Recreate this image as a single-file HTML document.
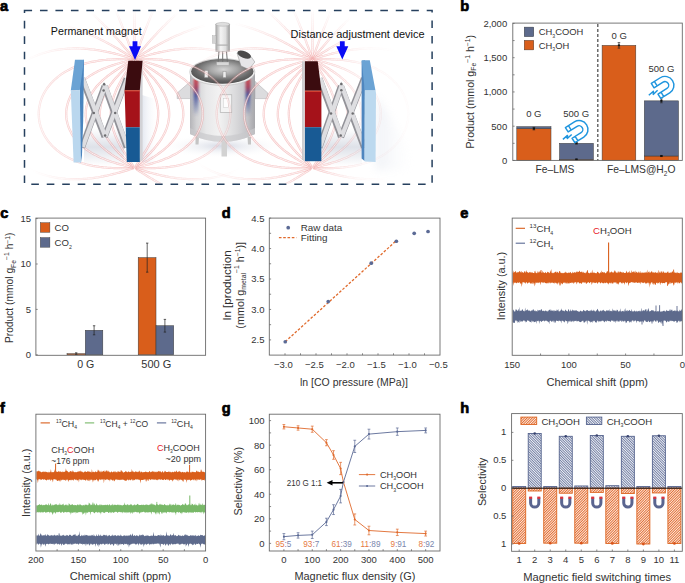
<!DOCTYPE html>
<html><head><meta charset="utf-8"><title>Figure</title>
<style>
html,body{margin:0;padding:0;background:#fff;}
body{width:685px;height:583px;overflow:hidden;}
svg{display:block;font-family:"Liberation Sans",sans-serif;}
</style></head>
<body>
<svg width="685" height="583" viewBox="0 0 685 583">
<rect width="685" height="583" fill="#fff"/>
<text x="0" y="11" font-size="14.6" font-weight="bold" fill="#000" stroke="#000" stroke-width="0.7">a</text>
<defs><clipPath id="clipA"><rect x="25" y="11.5" width="406.5" height="172"/></clipPath><radialGradient id="shL" cx="0.5" cy="0.5" r="0.5"><stop offset="0" stop-color="#b9c0d2" stop-opacity="0.6"/><stop offset="1" stop-color="#ffffff" stop-opacity="0"/></radialGradient><linearGradient id="tankG" x1="0" x2="1" y1="0" y2="0"><stop offset="0" stop-color="#c4c4c8"/><stop offset="0.06" stop-color="#d9d9dd"/><stop offset="0.12" stop-color="#8a92b8"/><stop offset="0.2" stop-color="#e8e8ea"/><stop offset="0.5" stop-color="#f6f6f6"/><stop offset="0.72" stop-color="#e2e2e2"/><stop offset="0.84" stop-color="#98a0c0"/><stop offset="0.92" stop-color="#dcdcde"/><stop offset="1" stop-color="#b8b8bc"/></linearGradient><linearGradient id="tankV" x1="0" x2="0" y1="0" y2="1"><stop offset="0" stop-color="#fff" stop-opacity="0"/><stop offset="0.55" stop-color="#fff" stop-opacity="0"/><stop offset="1" stop-color="#fff" stop-opacity="0.6"/></linearGradient><radialGradient id="lidG" cx="0.5" cy="0.35" r="0.65"><stop offset="0" stop-color="#d8d8d8"/><stop offset="0.5" stop-color="#a8a8a8"/><stop offset="1" stop-color="#555"/></radialGradient><linearGradient id="motorG" x1="0" x2="1"><stop offset="0" stop-color="#a6a6a6"/><stop offset="0.35" stop-color="#f4f4f4"/><stop offset="0.7" stop-color="#e0e0e0"/><stop offset="1" stop-color="#9a9a9a"/></linearGradient><linearGradient id="scG" x1="0" x2="0" y1="0" y2="1"><stop offset="0" stop-color="#b4bccc" stop-opacity="0"/><stop offset="0.5" stop-color="#b4bccc" stop-opacity="0.55"/><stop offset="1" stop-color="#b4bccc" stop-opacity="0"/></linearGradient><linearGradient id="shadowR" x1="0" y1="0" x2="1" y2="0"><stop offset="0" stop-color="#b8c2d8" stop-opacity="0.75"/><stop offset="1" stop-color="#ffffff" stop-opacity="0"/></linearGradient><filter id="blurS" x="-20%" y="-20%" width="140%" height="140%"><feGaussianBlur stdDeviation="4"/></filter><linearGradient id="magSideL" x1="0" x2="1"><stop offset="0" stop-color="#bdbdc0"/><stop offset="1" stop-color="#e4e4e6"/></linearGradient></defs>
<ellipse cx="222" cy="146" rx="62" ry="12" fill="url(#shL)"/>
<path d="M376 96 C392 118 404 140 418 170 L376 170 Z" fill="url(#shadowR)" opacity="0.3" filter="url(#blurS)"/>
<path d="M84 128 L124 128 L124 166 L84 166 Z" fill="url(#scG)" opacity="0.8"/>
<path d="M322 128 L362 128 L362 166 L322 166 Z" fill="url(#scG)" opacity="0.8"/>
<path d="M142 95 L158 100 L158 165 L142 162 Z" fill="url(#shadowR)" opacity="0.5"/>
<defs><radialGradient id="fadeG" cx="0.5" cy="0.5" r="0.5"><stop offset="0" stop-color="#fff"/><stop offset="0.6" stop-color="#fff" stop-opacity="0.85"/><stop offset="1" stop-color="#fff" stop-opacity="0"/></radialGradient><mask id="mL" maskUnits="userSpaceOnUse" x="0" y="0" width="685" height="200"><ellipse cx="134.5" cy="111" rx="125" ry="105" fill="url(#fadeG)"/></mask><linearGradient id="fadeR" gradientUnits="userSpaceOnUse" x1="322" y1="0" x2="365" y2="0"><stop offset="0" stop-color="#fff"/><stop offset="1" stop-color="#fff" stop-opacity="0.35"/></linearGradient><mask id="mR" maskUnits="userSpaceOnUse" x="0" y="0" width="685" height="200"><ellipse cx="300" cy="111" rx="118" ry="105" fill="url(#fadeG)"/></mask><mask id="mR2" maskUnits="userSpaceOnUse" x="0" y="0" width="685" height="200"><rect x="0" y="0" width="685" height="200" fill="url(#fadeR)"/></mask></defs>
<defs><linearGradient id="tankG2" x1="0" x2="1" y1="0" y2="0"><stop offset="0" stop-color="#b4b4b8"/><stop offset="0.1" stop-color="#d2d2d4"/><stop offset="0.25" stop-color="#e8e8e9"/><stop offset="0.45" stop-color="#f2f2f2"/><stop offset="0.7" stop-color="#dadadc"/><stop offset="0.88" stop-color="#c4c4c8"/><stop offset="1" stop-color="#a6a6aa"/></linearGradient><linearGradient id="reflB" x1="0" x2="0" y1="0" y2="1"><stop offset="0" stop-color="#d23a40"/><stop offset="0.25" stop-color="#a03050"/><stop offset="0.45" stop-color="#3c4c98"/><stop offset="1" stop-color="#3c4c98" stop-opacity="0"/></linearGradient><radialGradient id="lidG2" cx="0.52" cy="0.42" r="0.6"><stop offset="0" stop-color="#d4d4d4"/><stop offset="0.35" stop-color="#a8a8a8"/><stop offset="0.75" stop-color="#666"/><stop offset="1" stop-color="#4c4c4c"/></radialGradient><filter id="blur1" x="-50%" y="-50%" width="200%" height="200%"><feGaussianBlur stdDeviation="1.2"/></filter></defs>
<path d="M195.5 137 h3.5 l-0.5 7.5 h-3 z" fill="#c4c4c4"/>
<rect x="221.5" y="141" width="5.5" height="15.5" fill="#d2d2d2"/>
<path d="M247.5 137 h3.5 v7.5 h-3 z" fill="#c4c4c4"/>
<path d="M190.5 81.4 L177.2 93 L177.2 98.6 L190.5 98.6 Z" fill="#dcdcde" stroke="#a8a8ac" stroke-width="0.5"/>
<path d="M255 81.4 L267.8 93 L267.8 98.6 L255 98.6 Z" fill="#dcdcde" stroke="#a8a8ac" stroke-width="0.5"/>
<path d="M190 74 L190 134 Q222.5 150 255 134 L255 74 Z" fill="url(#tankG2)"/>
<path d="M190 128 L190 134 Q222.5 150 255 134 L255 128 Q222.5 144 190 128 Z" fill="#c9c9cc" opacity="0.7"/>
<g filter="url(#blur1)"><rect x="193.5" y="78" width="5" height="38" rx="2.5" fill="url(#reflB)" opacity="0.85"/><rect x="245.5" y="78" width="5" height="38" rx="2.5" fill="url(#reflB)" opacity="0.85"/></g>
<ellipse cx="222.3" cy="72" rx="32.6" ry="13.4" fill="#f0f0f0" stroke="#b0b0b0" stroke-width="0.5"/>
<ellipse cx="222.3" cy="71.4" rx="31.2" ry="12.3" fill="url(#lidG2)"/>
<rect x="204.5" y="70.5" width="3.5" height="7" fill="#ededed" stroke="#8a8a8a" stroke-width="0.4"/>
<rect x="223" y="71.5" width="3" height="6" fill="#ededed" stroke="#8a8a8a" stroke-width="0.4"/>
<path d="M219 51 L218 64 M222.7 51 V65 M226.5 51 L227.5 64" stroke="#707070" stroke-width="1"/>
<rect x="216.5" y="62" width="12.5" height="3.5" fill="#d8d8d8" stroke="#999" stroke-width="0.4"/>
<rect x="215.8" y="24" width="13.9" height="27.5" fill="url(#motorG)" stroke="#a0a0a0" stroke-width="0.4"/>
<ellipse cx="222.75" cy="24.3" rx="6.95" ry="1.9" fill="#dedede" stroke="#9a9a9a" stroke-width="0.4"/>
<rect x="212.4" y="35.6" width="3.6" height="7.7" fill="#d4d4d4" stroke="#9a9a9a" stroke-width="0.3"/>
<rect x="216.5" y="44.5" width="12.5" height="1.2" fill="#b0b0b0"/>
<path d="M237 53 L251 56.5 L254.8 62 L249 69.5 L241 66 Z" fill="#e6e6e8" stroke="#8a8a8a" stroke-width="0.5"/>
<ellipse cx="244.2" cy="54.6" rx="7.2" ry="3.4" fill="#4a4a4a" transform="rotate(22 244.2 54.6)"/>
<rect x="220.2" y="94.8" width="11.6" height="17.5" fill="#f4f4f4" stroke="#a8a8a8" stroke-width="0.6"/>
<rect x="223.4" y="98.5" width="5.2" height="9" fill="#fdfdfd" stroke="#c0c0c0" stroke-width="0.4"/>
<g mask="url(#mL)" fill="none" stroke-linecap="round"><g clip-path="url(#clipA)"><path d="M134.5 57.5 L134.5 55.7 L134.5 53.9 L134.5 52.1 L134.5 50.3 L134.5 48.5 L134.5 46.7 L134.5 44.9 L134.5 43.1 L134.5 41.3 L134.5 39.5 L134.5 37.7 L134.5 35.9 L134.5 34.1 L134.5 32.3 L134.5 30.5 L134.5 28.7 L134.5 26.9 L134.5 25.1 L134.5 23.3 L134.5 21.5 L134.5 19.7 L134.5 17.9 L134.5 16.1 L134.5 14.3 L134.5 12.5 L134.5 10.7 L134.5 8.9 L134.5 7.1 L134.5 5.3 L134.5 3.5 L134.5 1.7 L134.5 -0.1 L134.5 -1.9 L134.5 -3.7 L134.5 -5.5 L134.5 -7.3 L134.5 -9.1 L134.5 -10.9 L134.5 -12.7 L134.5 -14.5 L134.5 -16.3 L134.5 -18.1 L134.5 -19.9 L134.5 -21.7 L134.5 -23.5 L134.5 -25.3 L134.5 -27.1 L134.5 -28.9 L134.5 -30.7 L134.5 -32.5 L134.5 -34.3 L134.5 -36.1 L134.5 -37.9 L134.5 -39.7 L134.5 -41.5 L134.5 -43.3 L134.5 -45.1 L134.5 -46.9 L134.5 -48.7 L134.5 -50.5" stroke="#ee8a8a" stroke-opacity="0.5" stroke-width="2.2"/><path d="M134.5 57.5 L134.5 55.7 L134.5 53.9 L134.5 52.1 L134.5 50.3 L134.5 48.5 L134.5 46.7 L134.5 44.9 L134.5 43.1 L134.5 41.3 L134.5 39.5 L134.5 37.7 L134.5 35.9 L134.5 34.1 L134.5 32.3 L134.5 30.5 L134.5 28.7 L134.5 26.9 L134.5 25.1 L134.5 23.3 L134.5 21.5 L134.5 19.7 L134.5 17.9 L134.5 16.1 L134.5 14.3 L134.5 12.5 L134.5 10.7 L134.5 8.9 L134.5 7.1 L134.5 5.3 L134.5 3.5 L134.5 1.7 L134.5 -0.1 L134.5 -1.9 L134.5 -3.7 L134.5 -5.5 L134.5 -7.3 L134.5 -9.1 L134.5 -10.9 L134.5 -12.7 L134.5 -14.5 L134.5 -16.3 L134.5 -18.1 L134.5 -19.9 L134.5 -21.7 L134.5 -23.5 L134.5 -25.3 L134.5 -27.1 L134.5 -28.9 L134.5 -30.7 L134.5 -32.5 L134.5 -34.3 L134.5 -36.1 L134.5 -37.9 L134.5 -39.7 L134.5 -41.5 L134.5 -43.3 L134.5 -45.1 L134.5 -46.9 L134.5 -48.7 L134.5 -50.5" stroke="#fff" stroke-opacity="0.85" stroke-width="0.9"/><path d="M135.0 57.6 L135.6 55.9 L136.2 54.2 L136.9 52.5 L137.5 50.8 L138.1 49.1 L138.7 47.4 L139.3 45.8 L140.0 44.1 L140.6 42.4 L141.2 40.7 L141.9 39.0 L142.5 37.3 L143.1 35.6 L143.8 34.0 L144.4 32.3 L145.1 30.6 L145.7 28.9 L146.4 27.3 L147.1 25.6 L147.7 23.9 L148.4 22.2 L149.1 20.6 L149.7 18.9 L150.4 17.2 L151.1 15.6 L151.8 13.9 L152.5 12.2 L153.2 10.6 L153.9 8.9 L154.6 7.3 L155.3 5.6 L156.0 4.0 L156.7 2.3 L157.4 0.6 L158.1 -1.0 L158.9 -2.6 L159.6 -4.3 L160.3 -5.9 L161.1 -7.6 L161.8 -9.2 L162.5 -10.9 L163.3 -12.5 L164.0 -14.1 L164.8 -15.8 L165.6 -17.4 L166.3 -19.0 L167.1 -20.7 L167.9 -22.3 L168.6 -23.9 L169.4 -25.5 L170.2 -27.1 L171.0 -28.8 L171.8 -30.4 L172.6 -32.0 L173.4 -33.6 L174.2 -35.2 L175.0 -36.8 L175.8 -38.4 L176.6 -40.0 L177.4 -41.6 L178.2 -43.3 L179.1 -44.9 L179.9 -46.4 L180.7 -48.0 L181.6 -49.6" stroke="#ee8a8a" stroke-opacity="0.5" stroke-width="2.2"/><path d="M135.0 57.6 L135.6 55.9 L136.2 54.2 L136.9 52.5 L137.5 50.8 L138.1 49.1 L138.7 47.4 L139.3 45.8 L140.0 44.1 L140.6 42.4 L141.2 40.7 L141.9 39.0 L142.5 37.3 L143.1 35.6 L143.8 34.0 L144.4 32.3 L145.1 30.6 L145.7 28.9 L146.4 27.3 L147.1 25.6 L147.7 23.9 L148.4 22.2 L149.1 20.6 L149.7 18.9 L150.4 17.2 L151.1 15.6 L151.8 13.9 L152.5 12.2 L153.2 10.6 L153.9 8.9 L154.6 7.3 L155.3 5.6 L156.0 4.0 L156.7 2.3 L157.4 0.6 L158.1 -1.0 L158.9 -2.6 L159.6 -4.3 L160.3 -5.9 L161.1 -7.6 L161.8 -9.2 L162.5 -10.9 L163.3 -12.5 L164.0 -14.1 L164.8 -15.8 L165.6 -17.4 L166.3 -19.0 L167.1 -20.7 L167.9 -22.3 L168.6 -23.9 L169.4 -25.5 L170.2 -27.1 L171.0 -28.8 L171.8 -30.4 L172.6 -32.0 L173.4 -33.6 L174.2 -35.2 L175.0 -36.8 L175.8 -38.4 L176.6 -40.0 L177.4 -41.6 L178.2 -43.3 L179.1 -44.9 L179.9 -46.4 L180.7 -48.0 L181.6 -49.6" stroke="#fff" stroke-opacity="0.85" stroke-width="0.9"/><path d="M134.0 57.6 L133.4 55.9 L132.8 54.2 L132.1 52.5 L131.5 50.8 L130.9 49.1 L130.3 47.4 L129.7 45.8 L129.0 44.1 L128.4 42.4 L127.8 40.7 L127.1 39.0 L126.5 37.3 L125.9 35.6 L125.2 34.0 L124.6 32.3 L123.9 30.6 L123.3 28.9 L122.6 27.3 L121.9 25.6 L121.3 23.9 L120.6 22.2 L119.9 20.6 L119.3 18.9 L118.6 17.2 L117.9 15.6 L117.2 13.9 L116.5 12.2 L115.8 10.6 L115.1 8.9 L114.4 7.3 L113.7 5.6 L113.0 4.0 L112.3 2.3 L111.6 0.6 L110.9 -1.0 L110.1 -2.6 L109.4 -4.3 L108.7 -5.9 L107.9 -7.6 L107.2 -9.2 L106.5 -10.9 L105.7 -12.5 L105.0 -14.1 L104.2 -15.8 L103.4 -17.4 L102.7 -19.0 L101.9 -20.7 L101.1 -22.3 L100.4 -23.9 L99.6 -25.5 L98.8 -27.1 L98.0 -28.8 L97.2 -30.4 L96.4 -32.0 L95.6 -33.6 L94.8 -35.2 L94.0 -36.8 L93.2 -38.4 L92.4 -40.0 L91.6 -41.6 L90.8 -43.3 L89.9 -44.9 L89.1 -46.4 L88.3 -48.0 L87.4 -49.6" stroke="#ee8a8a" stroke-opacity="0.5" stroke-width="2.2"/><path d="M134.0 57.6 L133.4 55.9 L132.8 54.2 L132.1 52.5 L131.5 50.8 L130.9 49.1 L130.3 47.4 L129.7 45.8 L129.0 44.1 L128.4 42.4 L127.8 40.7 L127.1 39.0 L126.5 37.3 L125.9 35.6 L125.2 34.0 L124.6 32.3 L123.9 30.6 L123.3 28.9 L122.6 27.3 L121.9 25.6 L121.3 23.9 L120.6 22.2 L119.9 20.6 L119.3 18.9 L118.6 17.2 L117.9 15.6 L117.2 13.9 L116.5 12.2 L115.8 10.6 L115.1 8.9 L114.4 7.3 L113.7 5.6 L113.0 4.0 L112.3 2.3 L111.6 0.6 L110.9 -1.0 L110.1 -2.6 L109.4 -4.3 L108.7 -5.9 L107.9 -7.6 L107.2 -9.2 L106.5 -10.9 L105.7 -12.5 L105.0 -14.1 L104.2 -15.8 L103.4 -17.4 L102.7 -19.0 L101.9 -20.7 L101.1 -22.3 L100.4 -23.9 L99.6 -25.5 L98.8 -27.1 L98.0 -28.8 L97.2 -30.4 L96.4 -32.0 L95.6 -33.6 L94.8 -35.2 L94.0 -36.8 L93.2 -38.4 L92.4 -40.0 L91.6 -41.6 L90.8 -43.3 L89.9 -44.9 L89.1 -46.4 L88.3 -48.0 L87.4 -49.6" stroke="#fff" stroke-opacity="0.85" stroke-width="0.9"/><path d="M135.5 57.9 L136.6 56.5 L137.8 55.1 L138.9 53.7 L140.1 52.3 L141.3 51.0 L142.4 49.6 L143.6 48.2 L144.8 46.9 L146.0 45.5 L147.1 44.2 L148.3 42.8 L149.5 41.4 L150.7 40.1 L151.9 38.8 L153.1 37.4 L154.3 36.1 L155.6 34.8 L156.8 33.5 L158.0 32.1 L159.2 30.8 L160.5 29.5 L161.7 28.2 L163.0 26.9 L164.3 25.7 L165.5 24.4 L166.8 23.1 L168.1 21.8 L169.4 20.6 L170.7 19.3 L172.0 18.1 L173.3 16.9 L174.6 15.6 L175.9 14.4 L177.2 13.2 L178.5 12.0 L179.9 10.8 L181.2 9.6 L182.6 8.4 L183.9 7.2 L185.3 6.0 L186.7 4.9 L188.1 3.7 L189.4 2.5 L190.8 1.4 L192.2 0.3 L193.6 -0.9 L195.0 -2.0 L196.4 -3.1 L197.9 -4.2 L199.3 -5.3 L200.7 -6.4 L202.2 -7.5 L203.6 -8.6 L205.1 -9.6 L206.5 -10.7 L208.0 -11.7 L209.4 -12.8 L210.9 -13.8 L212.4 -14.8 L213.9 -15.8 L215.4 -16.9 L216.9 -17.9 L218.4 -18.8 L219.9 -19.8 L221.4 -20.8 L222.9 -21.8 L224.4 -22.7 L226.0 -23.7 L227.5 -24.6 L229.0 -25.5 L230.6 -26.5 L232.1 -27.4 L233.7 -28.3 L235.3 -29.2 L236.8 -30.1 L238.4 -30.9 L240.0 -31.8 L241.6 -32.7 L243.1 -33.5 L244.7 -34.4 L246.3 -35.2 L247.9 -36.0 L249.5 -36.8 L251.1 -37.6 L252.8 -38.4 L254.4 -39.2 L256.0 -40.0 L257.6 -40.8 L259.3 -41.5 L260.9 -42.3 L262.5 -43.0 L264.2 -43.7 L265.8 -44.5 L267.5 -45.2 L269.1 -45.9 L270.8 -46.6 L272.5 -47.3 L274.1 -47.9 L275.8 -48.6 L277.5 -49.2 L279.2 -49.9" stroke="#ee8a8a" stroke-opacity="0.5" stroke-width="2.2"/><path d="M135.5 57.9 L136.6 56.5 L137.8 55.1 L138.9 53.7 L140.1 52.3 L141.3 51.0 L142.4 49.6 L143.6 48.2 L144.8 46.9 L146.0 45.5 L147.1 44.2 L148.3 42.8 L149.5 41.4 L150.7 40.1 L151.9 38.8 L153.1 37.4 L154.3 36.1 L155.6 34.8 L156.8 33.5 L158.0 32.1 L159.2 30.8 L160.5 29.5 L161.7 28.2 L163.0 26.9 L164.3 25.7 L165.5 24.4 L166.8 23.1 L168.1 21.8 L169.4 20.6 L170.7 19.3 L172.0 18.1 L173.3 16.9 L174.6 15.6 L175.9 14.4 L177.2 13.2 L178.5 12.0 L179.9 10.8 L181.2 9.6 L182.6 8.4 L183.9 7.2 L185.3 6.0 L186.7 4.9 L188.1 3.7 L189.4 2.5 L190.8 1.4 L192.2 0.3 L193.6 -0.9 L195.0 -2.0 L196.4 -3.1 L197.9 -4.2 L199.3 -5.3 L200.7 -6.4 L202.2 -7.5 L203.6 -8.6 L205.1 -9.6 L206.5 -10.7 L208.0 -11.7 L209.4 -12.8 L210.9 -13.8 L212.4 -14.8 L213.9 -15.8 L215.4 -16.9 L216.9 -17.9 L218.4 -18.8 L219.9 -19.8 L221.4 -20.8 L222.9 -21.8 L224.4 -22.7 L226.0 -23.7 L227.5 -24.6 L229.0 -25.5 L230.6 -26.5 L232.1 -27.4 L233.7 -28.3 L235.3 -29.2 L236.8 -30.1 L238.4 -30.9 L240.0 -31.8 L241.6 -32.7 L243.1 -33.5 L244.7 -34.4 L246.3 -35.2 L247.9 -36.0 L249.5 -36.8 L251.1 -37.6 L252.8 -38.4 L254.4 -39.2 L256.0 -40.0 L257.6 -40.8 L259.3 -41.5 L260.9 -42.3 L262.5 -43.0 L264.2 -43.7 L265.8 -44.5 L267.5 -45.2 L269.1 -45.9 L270.8 -46.6 L272.5 -47.3 L274.1 -47.9 L275.8 -48.6 L277.5 -49.2 L279.2 -49.9" stroke="#fff" stroke-opacity="0.85" stroke-width="0.9"/><path d="M133.5 57.9 L132.4 56.5 L131.2 55.1 L130.1 53.7 L128.9 52.3 L127.7 51.0 L126.6 49.6 L125.4 48.2 L124.2 46.9 L123.0 45.5 L121.9 44.2 L120.7 42.8 L119.5 41.4 L118.3 40.1 L117.1 38.8 L115.9 37.4 L114.7 36.1 L113.4 34.8 L112.2 33.5 L111.0 32.1 L109.8 30.8 L108.5 29.5 L107.3 28.2 L106.0 26.9 L104.7 25.7 L103.5 24.4 L102.2 23.1 L100.9 21.8 L99.6 20.6 L98.3 19.3 L97.0 18.1 L95.7 16.9 L94.4 15.6 L93.1 14.4 L91.8 13.2 L90.5 12.0 L89.1 10.8 L87.8 9.6 L86.4 8.4 L85.1 7.2 L83.7 6.0 L82.3 4.9 L80.9 3.7 L79.6 2.5 L78.2 1.4 L76.8 0.3 L75.4 -0.9 L74.0 -2.0 L72.6 -3.1 L71.1 -4.2 L69.7 -5.3 L68.3 -6.4 L66.8 -7.5 L65.4 -8.6 L63.9 -9.6 L62.5 -10.7 L61.0 -11.7 L59.6 -12.8 L58.1 -13.8 L56.6 -14.8 L55.1 -15.8 L53.6 -16.9 L52.1 -17.9 L50.6 -18.8 L49.1 -19.8 L47.6 -20.8 L46.1 -21.8 L44.6 -22.7 L43.0 -23.7 L41.5 -24.6 L40.0 -25.5 L38.4 -26.5 L36.9 -27.4 L35.3 -28.3 L33.7 -29.2 L32.2 -30.1 L30.6 -30.9 L29.0 -31.8 L27.4 -32.7 L25.9 -33.5 L24.3 -34.4 L22.7 -35.2 L21.1 -36.0 L19.5 -36.8 L17.9 -37.6 L16.2 -38.4 L14.6 -39.2 L13.0 -40.0 L11.4 -40.8 L9.7 -41.5 L8.1 -42.3 L6.5 -43.0 L4.8 -43.7 L3.2 -44.5 L1.5 -45.2 L-0.1 -45.9 L-1.8 -46.6 L-3.5 -47.3 L-5.1 -47.9 L-6.8 -48.6 L-8.5 -49.2 L-10.2 -49.9" stroke="#ee8a8a" stroke-opacity="0.5" stroke-width="2.2"/><path d="M133.5 57.9 L132.4 56.5 L131.2 55.1 L130.1 53.7 L128.9 52.3 L127.7 51.0 L126.6 49.6 L125.4 48.2 L124.2 46.9 L123.0 45.5 L121.9 44.2 L120.7 42.8 L119.5 41.4 L118.3 40.1 L117.1 38.8 L115.9 37.4 L114.7 36.1 L113.4 34.8 L112.2 33.5 L111.0 32.1 L109.8 30.8 L108.5 29.5 L107.3 28.2 L106.0 26.9 L104.7 25.7 L103.5 24.4 L102.2 23.1 L100.9 21.8 L99.6 20.6 L98.3 19.3 L97.0 18.1 L95.7 16.9 L94.4 15.6 L93.1 14.4 L91.8 13.2 L90.5 12.0 L89.1 10.8 L87.8 9.6 L86.4 8.4 L85.1 7.2 L83.7 6.0 L82.3 4.9 L80.9 3.7 L79.6 2.5 L78.2 1.4 L76.8 0.3 L75.4 -0.9 L74.0 -2.0 L72.6 -3.1 L71.1 -4.2 L69.7 -5.3 L68.3 -6.4 L66.8 -7.5 L65.4 -8.6 L63.9 -9.6 L62.5 -10.7 L61.0 -11.7 L59.6 -12.8 L58.1 -13.8 L56.6 -14.8 L55.1 -15.8 L53.6 -16.9 L52.1 -17.9 L50.6 -18.8 L49.1 -19.8 L47.6 -20.8 L46.1 -21.8 L44.6 -22.7 L43.0 -23.7 L41.5 -24.6 L40.0 -25.5 L38.4 -26.5 L36.9 -27.4 L35.3 -28.3 L33.7 -29.2 L32.2 -30.1 L30.6 -30.9 L29.0 -31.8 L27.4 -32.7 L25.9 -33.5 L24.3 -34.4 L22.7 -35.2 L21.1 -36.0 L19.5 -36.8 L17.9 -37.6 L16.2 -38.4 L14.6 -39.2 L13.0 -40.0 L11.4 -40.8 L9.7 -41.5 L8.1 -42.3 L6.5 -43.0 L4.8 -43.7 L3.2 -44.5 L1.5 -45.2 L-0.1 -45.9 L-1.8 -46.6 L-3.5 -47.3 L-5.1 -47.9 L-6.8 -48.6 L-8.5 -49.2 L-10.2 -49.9" stroke="#fff" stroke-opacity="0.85" stroke-width="0.9"/><path d="M135.8 58.2 L137.3 57.3 L138.8 56.3 L140.4 55.4 L141.9 54.4 L143.4 53.5 L145.0 52.5 L146.5 51.6 L148.0 50.7 L149.6 49.7 L151.1 48.8 L152.7 47.9 L154.3 47.0 L155.8 46.1 L157.4 45.3 L159.0 44.4 L160.6 43.5 L162.1 42.7 L163.7 41.9 L165.3 41.0 L166.9 40.2 L168.5 39.4 L170.2 38.6 L171.8 37.8 L173.4 37.1 L175.1 36.3 L176.7 35.6 L178.3 34.9 L180.0 34.2 L181.7 33.5 L183.3 32.8 L185.0 32.1 L186.7 31.5 L188.4 30.8 L190.0 30.2 L191.7 29.6 L193.4 29.0 L195.1 28.4 L196.9 27.9 L198.6 27.3 L200.3 26.8 L202.0 26.3 L203.8 25.8 L205.5 25.3 L207.2 24.9 L209.0 24.4 L210.7 24.0 L212.5 23.6 L214.2 23.2 L216.0 22.9 L217.8 22.5 L219.5 22.2 L221.3 21.9 L223.1 21.6 L224.9 21.3 L226.6 21.0 L228.4 20.8 L230.2 20.6 L232.0 20.4 L233.8 20.2 L235.6 20.1 L237.4 19.9 L239.2 19.8 L241.0 19.7 L242.8 19.6 L244.6 19.6 L246.4 19.5 L248.2 19.5 L250.0 19.5 L251.8 19.6 L253.6 19.6 L255.4 19.7 L257.2 19.8 L259.0 19.9 L260.8 20.0 L262.6 20.2 L264.3 20.4 L266.1 20.6 L267.9 20.8 L269.7 21.0 L271.5 21.3 L273.3 21.6 L275.0 21.9 L276.8 22.3 L278.6 22.6 L280.3 23.0 L282.1 23.4 L283.8 23.9 L285.6 24.3 L287.3 24.8 L289.0 25.3 L290.7 25.8 L292.5 26.4 L294.2 27.0 L295.9 27.6 L297.5 28.2 L299.2 28.8 L300.9 29.5 L302.6 30.2 L304.2 30.9 L305.8 31.7 L307.5 32.5 L309.1 33.2 L310.7 34.1 L312.3 34.9 L313.8 35.8 L315.4 36.7 L316.9 37.6 L318.5 38.6 L320.0 39.5 L321.5 40.5 L323.0 41.5 L324.4 42.6 L325.9 43.7 L327.3 44.7 L328.7 45.9 L330.1 47.0 L331.5 48.2 L332.8 49.4 L334.2 50.6 L335.5 51.8 L336.8 53.1 L338.0 54.4 L339.3 55.7 L340.5 57.0 L341.7 58.3 L342.8 59.7 L344.0 61.1 L345.1 62.5 L346.2 64.0 L347.2 65.4 L348.2 66.9 L349.2 68.4 L350.2 69.9 L351.1 71.5 L352.0 73.0 L352.9 74.6 L353.8 76.2 L354.6 77.8 L355.3 79.4 L356.1 81.1 L356.8 82.7 L357.4 84.4 L358.1 86.1 L358.7 87.8 L359.2 89.5 L359.8 91.2 L360.2 92.9 L360.7 94.7 L361.1 96.4 L361.5 98.2 L361.8 100.0 L362.1 101.7 L362.3 103.5 L362.5 105.3 L362.7 107.1 L362.9 108.9 L362.9 110.7 L363.0 112.5 L363.0 114.3 L363.0 116.1 L362.9 117.9 L362.8 119.7 L362.7 121.5 L362.5 123.3 L362.2 125.1 L362.0 126.8 L361.7 128.6 L361.3 130.4 L360.9 132.1 L360.5 133.9 L360.1 135.6 L359.6 137.4 L359.0 139.1 L358.4 140.8 L357.8 142.5 L357.2 144.2 L356.5 145.8 L355.8 147.5 L355.0 149.1 L354.2 150.7 L353.4 152.3 L352.6 153.9 L351.7 155.5 L350.8 157.0 L349.8 158.6 L348.8 160.1 L347.8 161.6 L346.8 163.0 L345.7 164.5 L344.6 165.9 L343.5 167.3 L342.4 168.7 L341.2 170.1 L340.0 171.4 L338.8 172.7 L337.5 174.0 L336.3 175.3 L335.0 176.6 L333.6 177.8 L332.3 179.0 L330.9 180.2 L329.6 181.3 L328.2 182.5 L326.7 183.6 L325.3 184.6 L323.8 185.7 L322.4 186.7 L320.9 187.7 L319.4 188.7 L317.8 189.7 L316.3 190.6 L314.8 191.5 L313.2 192.4 L311.6 193.3 L310.0 194.1 L308.4 194.9 L306.8 195.7 L305.2 196.5 L303.5 197.2 L301.9 197.9 L300.2 198.6 L298.5 199.2 L296.8 199.9 L295.1 200.5 L293.4 201.1 L291.7 201.7 L290.0 202.2 L288.3 202.7 L286.6 203.2 L284.8 203.7 L283.1 204.1 L281.3 204.5 L279.6 204.9 L277.8 205.3 L276.0 205.7 L274.3 206.0 L272.5 206.3 L270.7 206.6 L268.9 206.8 L267.2 207.1 L265.4 207.3 L263.6 207.5 L261.8 207.6 L260.0 207.8 L258.2 207.9 L256.4 208.0 L254.6 208.1 L252.8 208.1 L251.0 208.2 L249.2 208.2 L247.4 208.2 L245.6 208.2 L243.8 208.1 L242.0 208.1 L240.2 208.0 L238.4 207.9 L236.6 207.7 L234.8 207.6 L233.0 207.4 L231.2 207.2 L229.5 207.0 L227.7 206.8 L225.9 206.5 L224.1 206.3 L222.3 206.0 L220.6 205.7 L218.8 205.3 L217.0 205.0 L215.3 204.6 L213.5 204.3 L211.7 203.9 L210.0 203.4 L208.2 203.0 L206.5 202.6 L204.8 202.1 L203.0 201.6 L201.3 201.1 L199.6 200.6 L197.9 200.0 L196.1 199.5 L194.4 198.9 L192.7 198.3 L191.0 197.7 L189.4 197.1 L187.7 196.5 L186.0 195.8 L184.3 195.1 L182.7 194.5 L181.0 193.8 L179.3 193.1 L177.7 192.3 L176.0 191.6 L174.4 190.9 L172.8 190.1 L171.2 189.3 L169.5 188.5 L167.9 187.7 L166.3 186.9 L164.7 186.1 L163.1 185.2 L161.6 184.4 L160.0 183.5 L158.4 182.6 L156.8 181.8 L155.3 180.9 L153.7 180.0 L152.2 179.0 L150.6 178.1 L149.1 177.2 L147.5 176.3 L146.0 175.3 L144.5 174.4 L142.9 173.4 L141.4 172.4 L139.9 171.5 L138.4 170.5 L136.9 169.5" stroke="#ee8a8a" stroke-opacity="0.5" stroke-width="2.2"/><path d="M135.8 58.2 L137.3 57.3 L138.8 56.3 L140.4 55.4 L141.9 54.4 L143.4 53.5 L145.0 52.5 L146.5 51.6 L148.0 50.7 L149.6 49.7 L151.1 48.8 L152.7 47.9 L154.3 47.0 L155.8 46.1 L157.4 45.3 L159.0 44.4 L160.6 43.5 L162.1 42.7 L163.7 41.9 L165.3 41.0 L166.9 40.2 L168.5 39.4 L170.2 38.6 L171.8 37.8 L173.4 37.1 L175.1 36.3 L176.7 35.6 L178.3 34.9 L180.0 34.2 L181.7 33.5 L183.3 32.8 L185.0 32.1 L186.7 31.5 L188.4 30.8 L190.0 30.2 L191.7 29.6 L193.4 29.0 L195.1 28.4 L196.9 27.9 L198.6 27.3 L200.3 26.8 L202.0 26.3 L203.8 25.8 L205.5 25.3 L207.2 24.9 L209.0 24.4 L210.7 24.0 L212.5 23.6 L214.2 23.2 L216.0 22.9 L217.8 22.5 L219.5 22.2 L221.3 21.9 L223.1 21.6 L224.9 21.3 L226.6 21.0 L228.4 20.8 L230.2 20.6 L232.0 20.4 L233.8 20.2 L235.6 20.1 L237.4 19.9 L239.2 19.8 L241.0 19.7 L242.8 19.6 L244.6 19.6 L246.4 19.5 L248.2 19.5 L250.0 19.5 L251.8 19.6 L253.6 19.6 L255.4 19.7 L257.2 19.8 L259.0 19.9 L260.8 20.0 L262.6 20.2 L264.3 20.4 L266.1 20.6 L267.9 20.8 L269.7 21.0 L271.5 21.3 L273.3 21.6 L275.0 21.9 L276.8 22.3 L278.6 22.6 L280.3 23.0 L282.1 23.4 L283.8 23.9 L285.6 24.3 L287.3 24.8 L289.0 25.3 L290.7 25.8 L292.5 26.4 L294.2 27.0 L295.9 27.6 L297.5 28.2 L299.2 28.8 L300.9 29.5 L302.6 30.2 L304.2 30.9 L305.8 31.7 L307.5 32.5 L309.1 33.2 L310.7 34.1 L312.3 34.9 L313.8 35.8 L315.4 36.7 L316.9 37.6 L318.5 38.6 L320.0 39.5 L321.5 40.5 L323.0 41.5 L324.4 42.6 L325.9 43.7 L327.3 44.7 L328.7 45.9 L330.1 47.0 L331.5 48.2 L332.8 49.4 L334.2 50.6 L335.5 51.8 L336.8 53.1 L338.0 54.4 L339.3 55.7 L340.5 57.0 L341.7 58.3 L342.8 59.7 L344.0 61.1 L345.1 62.5 L346.2 64.0 L347.2 65.4 L348.2 66.9 L349.2 68.4 L350.2 69.9 L351.1 71.5 L352.0 73.0 L352.9 74.6 L353.8 76.2 L354.6 77.8 L355.3 79.4 L356.1 81.1 L356.8 82.7 L357.4 84.4 L358.1 86.1 L358.7 87.8 L359.2 89.5 L359.8 91.2 L360.2 92.9 L360.7 94.7 L361.1 96.4 L361.5 98.2 L361.8 100.0 L362.1 101.7 L362.3 103.5 L362.5 105.3 L362.7 107.1 L362.9 108.9 L362.9 110.7 L363.0 112.5 L363.0 114.3 L363.0 116.1 L362.9 117.9 L362.8 119.7 L362.7 121.5 L362.5 123.3 L362.2 125.1 L362.0 126.8 L361.7 128.6 L361.3 130.4 L360.9 132.1 L360.5 133.9 L360.1 135.6 L359.6 137.4 L359.0 139.1 L358.4 140.8 L357.8 142.5 L357.2 144.2 L356.5 145.8 L355.8 147.5 L355.0 149.1 L354.2 150.7 L353.4 152.3 L352.6 153.9 L351.7 155.5 L350.8 157.0 L349.8 158.6 L348.8 160.1 L347.8 161.6 L346.8 163.0 L345.7 164.5 L344.6 165.9 L343.5 167.3 L342.4 168.7 L341.2 170.1 L340.0 171.4 L338.8 172.7 L337.5 174.0 L336.3 175.3 L335.0 176.6 L333.6 177.8 L332.3 179.0 L330.9 180.2 L329.6 181.3 L328.2 182.5 L326.7 183.6 L325.3 184.6 L323.8 185.7 L322.4 186.7 L320.9 187.7 L319.4 188.7 L317.8 189.7 L316.3 190.6 L314.8 191.5 L313.2 192.4 L311.6 193.3 L310.0 194.1 L308.4 194.9 L306.8 195.7 L305.2 196.5 L303.5 197.2 L301.9 197.9 L300.2 198.6 L298.5 199.2 L296.8 199.9 L295.1 200.5 L293.4 201.1 L291.7 201.7 L290.0 202.2 L288.3 202.7 L286.6 203.2 L284.8 203.7 L283.1 204.1 L281.3 204.5 L279.6 204.9 L277.8 205.3 L276.0 205.7 L274.3 206.0 L272.5 206.3 L270.7 206.6 L268.9 206.8 L267.2 207.1 L265.4 207.3 L263.6 207.5 L261.8 207.6 L260.0 207.8 L258.2 207.9 L256.4 208.0 L254.6 208.1 L252.8 208.1 L251.0 208.2 L249.2 208.2 L247.4 208.2 L245.6 208.2 L243.8 208.1 L242.0 208.1 L240.2 208.0 L238.4 207.9 L236.6 207.7 L234.8 207.6 L233.0 207.4 L231.2 207.2 L229.5 207.0 L227.7 206.8 L225.9 206.5 L224.1 206.3 L222.3 206.0 L220.6 205.7 L218.8 205.3 L217.0 205.0 L215.3 204.6 L213.5 204.3 L211.7 203.9 L210.0 203.4 L208.2 203.0 L206.5 202.6 L204.8 202.1 L203.0 201.6 L201.3 201.1 L199.6 200.6 L197.9 200.0 L196.1 199.5 L194.4 198.9 L192.7 198.3 L191.0 197.7 L189.4 197.1 L187.7 196.5 L186.0 195.8 L184.3 195.1 L182.7 194.5 L181.0 193.8 L179.3 193.1 L177.7 192.3 L176.0 191.6 L174.4 190.9 L172.8 190.1 L171.2 189.3 L169.5 188.5 L167.9 187.7 L166.3 186.9 L164.7 186.1 L163.1 185.2 L161.6 184.4 L160.0 183.5 L158.4 182.6 L156.8 181.8 L155.3 180.9 L153.7 180.0 L152.2 179.0 L150.6 178.1 L149.1 177.2 L147.5 176.3 L146.0 175.3 L144.5 174.4 L142.9 173.4 L141.4 172.4 L139.9 171.5 L138.4 170.5 L136.9 169.5" stroke="#fff" stroke-opacity="0.85" stroke-width="0.9"/><path d="M133.2 58.2 L131.7 57.3 L130.2 56.3 L128.6 55.4 L127.1 54.4 L125.6 53.5 L124.0 52.5 L122.5 51.6 L121.0 50.7 L119.4 49.7 L117.9 48.8 L116.3 47.9 L114.7 47.0 L113.2 46.1 L111.6 45.3 L110.0 44.4 L108.4 43.5 L106.9 42.7 L105.3 41.9 L103.7 41.0 L102.1 40.2 L100.5 39.4 L98.8 38.6 L97.2 37.8 L95.6 37.1 L93.9 36.3 L92.3 35.6 L90.7 34.9 L89.0 34.2 L87.3 33.5 L85.7 32.8 L84.0 32.1 L82.3 31.5 L80.6 30.8 L79.0 30.2 L77.3 29.6 L75.6 29.0 L73.9 28.4 L72.1 27.9 L70.4 27.3 L68.7 26.8 L67.0 26.3 L65.2 25.8 L63.5 25.3 L61.8 24.9 L60.0 24.4 L58.3 24.0 L56.5 23.6 L54.8 23.2 L53.0 22.9 L51.2 22.5 L49.5 22.2 L47.7 21.9 L45.9 21.6 L44.1 21.3 L42.4 21.0 L40.6 20.8 L38.8 20.6 L37.0 20.4 L35.2 20.2 L33.4 20.1 L31.6 19.9 L29.8 19.8 L28.0 19.7 L26.2 19.6 L24.4 19.6 L22.6 19.5 L20.8 19.5 L19.0 19.5 L17.2 19.6 L15.4 19.6 L13.6 19.7 L11.8 19.8 L10.0 19.9 L8.2 20.0 L6.4 20.2 L4.7 20.4 L2.9 20.6 L1.1 20.8 L-0.7 21.0 L-2.5 21.3 L-4.3 21.6 L-6.0 21.9 L-7.8 22.3 L-9.6 22.6 L-11.3 23.0 L-13.1 23.4 L-14.8 23.9 L-16.6 24.3" stroke="#ee8a8a" stroke-opacity="0.5" stroke-width="2.2"/><path d="M133.2 58.2 L131.7 57.3 L130.2 56.3 L128.6 55.4 L127.1 54.4 L125.6 53.5 L124.0 52.5 L122.5 51.6 L121.0 50.7 L119.4 49.7 L117.9 48.8 L116.3 47.9 L114.7 47.0 L113.2 46.1 L111.6 45.3 L110.0 44.4 L108.4 43.5 L106.9 42.7 L105.3 41.9 L103.7 41.0 L102.1 40.2 L100.5 39.4 L98.8 38.6 L97.2 37.8 L95.6 37.1 L93.9 36.3 L92.3 35.6 L90.7 34.9 L89.0 34.2 L87.3 33.5 L85.7 32.8 L84.0 32.1 L82.3 31.5 L80.6 30.8 L79.0 30.2 L77.3 29.6 L75.6 29.0 L73.9 28.4 L72.1 27.9 L70.4 27.3 L68.7 26.8 L67.0 26.3 L65.2 25.8 L63.5 25.3 L61.8 24.9 L60.0 24.4 L58.3 24.0 L56.5 23.6 L54.8 23.2 L53.0 22.9 L51.2 22.5 L49.5 22.2 L47.7 21.9 L45.9 21.6 L44.1 21.3 L42.4 21.0 L40.6 20.8 L38.8 20.6 L37.0 20.4 L35.2 20.2 L33.4 20.1 L31.6 19.9 L29.8 19.8 L28.0 19.7 L26.2 19.6 L24.4 19.6 L22.6 19.5 L20.8 19.5 L19.0 19.5 L17.2 19.6 L15.4 19.6 L13.6 19.7 L11.8 19.8 L10.0 19.9 L8.2 20.0 L6.4 20.2 L4.7 20.4 L2.9 20.6 L1.1 20.8 L-0.7 21.0 L-2.5 21.3 L-4.3 21.6 L-6.0 21.9 L-7.8 22.3 L-9.6 22.6 L-11.3 23.0 L-13.1 23.4 L-14.8 23.9 L-16.6 24.3" stroke="#fff" stroke-opacity="0.85" stroke-width="0.9"/><path d="M135.9 58.6 L137.7 58.1 L139.4 57.6 L141.1 57.1 L142.9 56.6 L144.6 56.1 L146.3 55.7 L148.1 55.2 L149.8 54.7 L151.6 54.3 L153.3 53.9 L155.1 53.4 L156.8 53.0 L158.6 52.6 L160.3 52.2 L162.1 51.9 L163.8 51.5 L165.6 51.2 L167.4 50.8 L169.2 50.5 L170.9 50.2 L172.7 50.0 L174.5 49.7 L176.3 49.5 L178.1 49.3 L179.9 49.1 L181.7 48.9 L183.4 48.8 L185.2 48.7 L187.0 48.6 L188.8 48.5 L190.6 48.4 L192.4 48.4 L194.2 48.4 L196.0 48.4 L197.8 48.5 L199.6 48.6 L201.4 48.7 L203.2 48.8 L205.0 49.0 L206.8 49.2 L208.6 49.4 L210.4 49.6 L212.2 49.9 L213.9 50.2 L215.7 50.5 L217.5 50.9 L219.2 51.3 L221.0 51.7 L222.7 52.2 L224.4 52.7 L226.2 53.2 L227.9 53.8 L229.6 54.4 L231.3 55.0 L232.9 55.7 L234.6 56.4 L236.2 57.1 L237.9 57.8 L239.5 58.6 L241.1 59.5 L242.7 60.3 L244.2 61.2 L245.8 62.2 L247.3 63.1 L248.8 64.1 L250.2 65.2 L251.7 66.3 L253.1 67.4 L254.5 68.5 L255.8 69.7 L257.2 70.9 L258.5 72.1 L259.7 73.4 L261.0 74.7 L262.2 76.1 L263.3 77.5 L264.4 78.9 L265.5 80.3 L266.6 81.8 L267.6 83.3 L268.5 84.8 L269.4 86.4 L270.3 87.9 L271.1 89.6 L271.8 91.2 L272.6 92.8 L273.2 94.5 L273.8 96.2 L274.4 97.9 L274.9 99.7 L275.3 101.4 L275.7 103.2 L276.0 104.9 L276.3 106.7 L276.5 108.5 L276.7 110.3 L276.7 112.1 L276.8 113.9 L276.7 115.7 L276.7 117.5 L276.5 119.3 L276.3 121.1 L276.0 122.8 L275.7 124.6 L275.3 126.4 L274.9 128.1 L274.4 129.9 L273.9 131.6 L273.3 133.3 L272.6 134.9 L271.9 136.6 L271.1 138.2 L270.3 139.8 L269.5 141.4 L268.6 143.0 L267.6 144.5 L266.6 146.0 L265.6 147.5 L264.5 148.9 L263.4 150.3 L262.2 151.7 L261.0 153.0 L259.8 154.4 L258.5 155.6 L257.2 156.9 L255.9 158.1 L254.6 159.3 L253.2 160.4 L251.7 161.5 L250.3 162.6 L248.8 163.6 L247.3 164.6 L245.8 165.6 L244.3 166.5 L242.7 167.4 L241.1 168.3 L239.5 169.1 L237.9 169.9 L236.3 170.7 L234.6 171.4 L233.0 172.1 L231.3 172.8 L229.6 173.4 L227.9 174.0 L226.2 174.5 L224.5 175.0 L222.7 175.5 L221.0 176.0 L219.3 176.4 L217.5 176.8 L215.7 177.2 L214.0 177.5 L212.2 177.8 L210.4 178.1 L208.6 178.3 L206.8 178.5 L205.1 178.7 L203.3 178.9 L201.5 179.0 L199.7 179.1 L197.9 179.2 L196.1 179.2 L194.3 179.2 L192.5 179.2 L190.7 179.2 L188.9 179.1 L187.1 179.0 L185.3 178.9 L183.5 178.8 L181.7 178.7 L179.9 178.5 L178.1 178.3 L176.3 178.1 L174.5 177.8 L172.8 177.5 L171.0 177.3 L169.2 177.0 L167.4 176.6 L165.7 176.3 L163.9 175.9 L162.1 175.6 L160.4 175.2 L158.6 174.8 L156.9 174.4 L155.1 173.9 L153.4 173.5 L151.7 173.0 L149.9 172.6 L148.2 172.1 L146.4 171.6 L144.7 171.1 L143.0 170.6 L141.3 170.1 L139.5 169.5 L137.8 169.0 L136.1 168.5" stroke="#ee8a8a" stroke-opacity="0.5" stroke-width="2.2"/><path d="M135.9 58.6 L137.7 58.1 L139.4 57.6 L141.1 57.1 L142.9 56.6 L144.6 56.1 L146.3 55.7 L148.1 55.2 L149.8 54.7 L151.6 54.3 L153.3 53.9 L155.1 53.4 L156.8 53.0 L158.6 52.6 L160.3 52.2 L162.1 51.9 L163.8 51.5 L165.6 51.2 L167.4 50.8 L169.2 50.5 L170.9 50.2 L172.7 50.0 L174.5 49.7 L176.3 49.5 L178.1 49.3 L179.9 49.1 L181.7 48.9 L183.4 48.8 L185.2 48.7 L187.0 48.6 L188.8 48.5 L190.6 48.4 L192.4 48.4 L194.2 48.4 L196.0 48.4 L197.8 48.5 L199.6 48.6 L201.4 48.7 L203.2 48.8 L205.0 49.0 L206.8 49.2 L208.6 49.4 L210.4 49.6 L212.2 49.9 L213.9 50.2 L215.7 50.5 L217.5 50.9 L219.2 51.3 L221.0 51.7 L222.7 52.2 L224.4 52.7 L226.2 53.2 L227.9 53.8 L229.6 54.4 L231.3 55.0 L232.9 55.7 L234.6 56.4 L236.2 57.1 L237.9 57.8 L239.5 58.6 L241.1 59.5 L242.7 60.3 L244.2 61.2 L245.8 62.2 L247.3 63.1 L248.8 64.1 L250.2 65.2 L251.7 66.3 L253.1 67.4 L254.5 68.5 L255.8 69.7 L257.2 70.9 L258.5 72.1 L259.7 73.4 L261.0 74.7 L262.2 76.1 L263.3 77.5 L264.4 78.9 L265.5 80.3 L266.6 81.8 L267.6 83.3 L268.5 84.8 L269.4 86.4 L270.3 87.9 L271.1 89.6 L271.8 91.2 L272.6 92.8 L273.2 94.5 L273.8 96.2 L274.4 97.9 L274.9 99.7 L275.3 101.4 L275.7 103.2 L276.0 104.9 L276.3 106.7 L276.5 108.5 L276.7 110.3 L276.7 112.1 L276.8 113.9 L276.7 115.7 L276.7 117.5 L276.5 119.3 L276.3 121.1 L276.0 122.8 L275.7 124.6 L275.3 126.4 L274.9 128.1 L274.4 129.9 L273.9 131.6 L273.3 133.3 L272.6 134.9 L271.9 136.6 L271.1 138.2 L270.3 139.8 L269.5 141.4 L268.6 143.0 L267.6 144.5 L266.6 146.0 L265.6 147.5 L264.5 148.9 L263.4 150.3 L262.2 151.7 L261.0 153.0 L259.8 154.4 L258.5 155.6 L257.2 156.9 L255.9 158.1 L254.6 159.3 L253.2 160.4 L251.7 161.5 L250.3 162.6 L248.8 163.6 L247.3 164.6 L245.8 165.6 L244.3 166.5 L242.7 167.4 L241.1 168.3 L239.5 169.1 L237.9 169.9 L236.3 170.7 L234.6 171.4 L233.0 172.1 L231.3 172.8 L229.6 173.4 L227.9 174.0 L226.2 174.5 L224.5 175.0 L222.7 175.5 L221.0 176.0 L219.3 176.4 L217.5 176.8 L215.7 177.2 L214.0 177.5 L212.2 177.8 L210.4 178.1 L208.6 178.3 L206.8 178.5 L205.1 178.7 L203.3 178.9 L201.5 179.0 L199.7 179.1 L197.9 179.2 L196.1 179.2 L194.3 179.2 L192.5 179.2 L190.7 179.2 L188.9 179.1 L187.1 179.0 L185.3 178.9 L183.5 178.8 L181.7 178.7 L179.9 178.5 L178.1 178.3 L176.3 178.1 L174.5 177.8 L172.8 177.5 L171.0 177.3 L169.2 177.0 L167.4 176.6 L165.7 176.3 L163.9 175.9 L162.1 175.6 L160.4 175.2 L158.6 174.8 L156.9 174.4 L155.1 173.9 L153.4 173.5 L151.7 173.0 L149.9 172.6 L148.2 172.1 L146.4 171.6 L144.7 171.1 L143.0 170.6 L141.3 170.1 L139.5 169.5 L137.8 169.0 L136.1 168.5" stroke="#fff" stroke-opacity="0.85" stroke-width="0.9"/><path d="M133.1 58.6 L131.3 58.1 L129.6 57.6 L127.9 57.1 L126.1 56.6 L124.4 56.1 L122.7 55.7 L120.9 55.2 L119.2 54.7 L117.4 54.3 L115.7 53.9 L113.9 53.4 L112.2 53.0 L110.4 52.6 L108.7 52.2 L106.9 51.9 L105.2 51.5 L103.4 51.2 L101.6 50.8 L99.8 50.5 L98.1 50.2 L96.3 50.0 L94.5 49.7 L92.7 49.5 L90.9 49.3 L89.1 49.1 L87.3 48.9 L85.6 48.8 L83.8 48.7 L82.0 48.6 L80.2 48.5 L78.4 48.4 L76.6 48.4 L74.8 48.4 L73.0 48.4 L71.2 48.5 L69.4 48.6 L67.6 48.7 L65.8 48.8 L64.0 49.0 L62.2 49.2 L60.4 49.4 L58.6 49.6 L56.8 49.9 L55.1 50.2 L53.3 50.5 L51.5 50.9 L49.8 51.3 L48.0 51.7 L46.3 52.2 L44.6 52.7 L42.8 53.2 L41.1 53.8 L39.4 54.4 L37.7 55.0 L36.1 55.7 L34.4 56.4 L32.8 57.1 L31.1 57.8 L29.5 58.6 L27.9 59.5 L26.3 60.3 L24.8 61.2 L23.2 62.2 L21.7 63.1 L20.2 64.1 L18.8 65.2 L17.3 66.3 L15.9 67.4 L14.5 68.5 L13.2 69.7 L11.8 70.9 L10.5 72.1 L9.3 73.4 L8.0 74.7 L6.8 76.1 L5.7 77.5 L4.6 78.9 L3.5 80.3 L2.4 81.8 L1.4 83.3 L0.5 84.8 L-0.4 86.4 L-1.3 87.9 L-2.1 89.6 L-2.8 91.2 L-3.6 92.8 L-4.2 94.5 L-4.8 96.2 L-5.4 97.9 L-5.9 99.7 L-6.3 101.4 L-6.7 103.2 L-7.0 104.9 L-7.3 106.7 L-7.5 108.5 L-7.7 110.3 L-7.7 112.1 L-7.8 113.9 L-7.7 115.7 L-7.7 117.5 L-7.5 119.3 L-7.3 121.1 L-7.0 122.8 L-6.7 124.6 L-6.3 126.4 L-5.9 128.1 L-5.4 129.9 L-4.9 131.6 L-4.3 133.3 L-3.6 134.9 L-2.9 136.6 L-2.1 138.2 L-1.3 139.8 L-0.5 141.4 L0.4 143.0 L1.4 144.5 L2.4 146.0 L3.4 147.5 L4.5 148.9 L5.6 150.3 L6.8 151.7 L8.0 153.0 L9.2 154.4 L10.5 155.6 L11.8 156.9 L13.1 158.1 L14.4 159.3 L15.8 160.4 L17.3 161.5 L18.7 162.6 L20.2 163.6 L21.7 164.6 L23.2 165.6 L24.7 166.5 L26.3 167.4 L27.9 168.3 L29.5 169.1 L31.1 169.9 L32.7 170.7 L34.4 171.4 L36.0 172.1 L37.7 172.8 L39.4 173.4 L41.1 174.0 L42.8 174.5 L44.5 175.0 L46.3 175.5 L48.0 176.0 L49.7 176.4 L51.5 176.8 L53.3 177.2 L55.0 177.5 L56.8 177.8 L58.6 178.1 L60.4 178.3 L62.2 178.5 L63.9 178.7 L65.7 178.9 L67.5 179.0 L69.3 179.1 L71.1 179.2 L72.9 179.2 L74.7 179.2 L76.5 179.2 L78.3 179.2 L80.1 179.1 L81.9 179.0 L83.7 178.9 L85.5 178.8 L87.3 178.7 L89.1 178.5 L90.9 178.3 L92.7 178.1 L94.5 177.8 L96.2 177.5 L98.0 177.3 L99.8 177.0 L101.6 176.6 L103.3 176.3 L105.1 175.9 L106.9 175.6 L108.6 175.2 L110.4 174.8 L112.1 174.4 L113.9 173.9 L115.6 173.5 L117.3 173.0 L119.1 172.6 L120.8 172.1 L122.6 171.6 L124.3 171.1 L126.0 170.6 L127.7 170.1 L129.5 169.5 L131.2 169.0 L132.9 168.5" stroke="#ee8a8a" stroke-opacity="0.5" stroke-width="2.2"/><path d="M133.1 58.6 L131.3 58.1 L129.6 57.6 L127.9 57.1 L126.1 56.6 L124.4 56.1 L122.7 55.7 L120.9 55.2 L119.2 54.7 L117.4 54.3 L115.7 53.9 L113.9 53.4 L112.2 53.0 L110.4 52.6 L108.7 52.2 L106.9 51.9 L105.2 51.5 L103.4 51.2 L101.6 50.8 L99.8 50.5 L98.1 50.2 L96.3 50.0 L94.5 49.7 L92.7 49.5 L90.9 49.3 L89.1 49.1 L87.3 48.9 L85.6 48.8 L83.8 48.7 L82.0 48.6 L80.2 48.5 L78.4 48.4 L76.6 48.4 L74.8 48.4 L73.0 48.4 L71.2 48.5 L69.4 48.6 L67.6 48.7 L65.8 48.8 L64.0 49.0 L62.2 49.2 L60.4 49.4 L58.6 49.6 L56.8 49.9 L55.1 50.2 L53.3 50.5 L51.5 50.9 L49.8 51.3 L48.0 51.7 L46.3 52.2 L44.6 52.7 L42.8 53.2 L41.1 53.8 L39.4 54.4 L37.7 55.0 L36.1 55.7 L34.4 56.4 L32.8 57.1 L31.1 57.8 L29.5 58.6 L27.9 59.5 L26.3 60.3 L24.8 61.2 L23.2 62.2 L21.7 63.1 L20.2 64.1 L18.8 65.2 L17.3 66.3 L15.9 67.4 L14.5 68.5 L13.2 69.7 L11.8 70.9 L10.5 72.1 L9.3 73.4 L8.0 74.7 L6.8 76.1 L5.7 77.5 L4.6 78.9 L3.5 80.3 L2.4 81.8 L1.4 83.3 L0.5 84.8 L-0.4 86.4 L-1.3 87.9 L-2.1 89.6 L-2.8 91.2 L-3.6 92.8 L-4.2 94.5 L-4.8 96.2 L-5.4 97.9 L-5.9 99.7 L-6.3 101.4 L-6.7 103.2 L-7.0 104.9 L-7.3 106.7 L-7.5 108.5 L-7.7 110.3 L-7.7 112.1 L-7.8 113.9 L-7.7 115.7 L-7.7 117.5 L-7.5 119.3 L-7.3 121.1 L-7.0 122.8 L-6.7 124.6 L-6.3 126.4 L-5.9 128.1 L-5.4 129.9 L-4.9 131.6 L-4.3 133.3 L-3.6 134.9 L-2.9 136.6 L-2.1 138.2 L-1.3 139.8 L-0.5 141.4 L0.4 143.0 L1.4 144.5 L2.4 146.0 L3.4 147.5 L4.5 148.9 L5.6 150.3 L6.8 151.7 L8.0 153.0 L9.2 154.4 L10.5 155.6 L11.8 156.9 L13.1 158.1 L14.4 159.3 L15.8 160.4 L17.3 161.5 L18.7 162.6 L20.2 163.6 L21.7 164.6 L23.2 165.6 L24.7 166.5 L26.3 167.4 L27.9 168.3 L29.5 169.1 L31.1 169.9 L32.7 170.7 L34.4 171.4 L36.0 172.1 L37.7 172.8 L39.4 173.4 L41.1 174.0 L42.8 174.5 L44.5 175.0 L46.3 175.5 L48.0 176.0 L49.7 176.4 L51.5 176.8 L53.3 177.2 L55.0 177.5 L56.8 177.8 L58.6 178.1 L60.4 178.3 L62.2 178.5 L63.9 178.7 L65.7 178.9 L67.5 179.0 L69.3 179.1 L71.1 179.2 L72.9 179.2 L74.7 179.2 L76.5 179.2 L78.3 179.2 L80.1 179.1 L81.9 179.0 L83.7 178.9 L85.5 178.8 L87.3 178.7 L89.1 178.5 L90.9 178.3 L92.7 178.1 L94.5 177.8 L96.2 177.5 L98.0 177.3 L99.8 177.0 L101.6 176.6 L103.3 176.3 L105.1 175.9 L106.9 175.6 L108.6 175.2 L110.4 174.8 L112.1 174.4 L113.9 173.9 L115.6 173.5 L117.3 173.0 L119.1 172.6 L120.8 172.1 L122.6 171.6 L124.3 171.1 L126.0 170.6 L127.7 170.1 L129.5 169.5 L131.2 169.0 L132.9 168.5" stroke="#fff" stroke-opacity="0.85" stroke-width="0.9"/><path d="M136.0 59.0 L137.8 59.0 L139.6 59.0 L141.4 59.0 L143.2 59.0 L145.0 59.0 L146.8 59.1 L148.6 59.1 L150.4 59.1 L152.2 59.2 L154.0 59.3 L155.8 59.4 L157.6 59.5 L159.4 59.6 L161.2 59.7 L163.0 59.9 L164.8 60.0 L166.6 60.2 L168.3 60.4 L170.1 60.7 L171.9 61.0 L173.7 61.3 L175.5 61.6 L177.2 61.9 L179.0 62.3 L180.7 62.7 L182.5 63.1 L184.2 63.6 L185.9 64.1 L187.7 64.6 L189.4 65.2 L191.1 65.8 L192.8 66.5 L194.4 67.1 L196.1 67.8 L197.7 68.6 L199.3 69.4 L200.9 70.2 L202.5 71.1 L204.1 72.0 L205.6 72.9 L207.1 73.9 L208.6 74.9 L210.0 76.0 L211.4 77.1 L212.8 78.3 L214.2 79.5 L215.5 80.7 L216.7 82.0 L218.0 83.3 L219.2 84.7 L220.3 86.1 L221.4 87.5 L222.4 89.0 L223.4 90.5 L224.3 92.0 L225.2 93.6 L226.0 95.2 L226.7 96.8 L227.4 98.5 L228.0 100.2 L228.6 101.9 L229.0 103.7 L229.4 105.4 L229.7 107.2 L230.0 109.0 L230.2 110.8 L230.3 112.6 L230.3 114.4 L230.2 116.2 L230.1 117.9 L229.9 119.7 L229.6 121.5 L229.3 123.3 L228.8 125.0 L228.3 126.8 L227.7 128.5 L227.1 130.1 L226.4 131.8 L225.6 133.4 L224.8 135.0 L223.9 136.6 L222.9 138.1 L221.9 139.6 L220.9 141.1 L219.8 142.5 L218.6 143.8 L217.4 145.2 L216.1 146.5 L214.9 147.7 L213.5 148.9 L212.2 150.1 L210.8 151.2 L209.3 152.3 L207.9 153.4 L206.4 154.4 L204.8 155.3 L203.3 156.3 L201.7 157.1 L200.1 158.0 L198.5 158.8 L196.9 159.5 L195.2 160.3 L193.6 160.9 L191.9 161.6 L190.2 162.2 L188.5 162.8 L186.8 163.3 L185.0 163.8 L183.3 164.3 L181.6 164.7 L179.8 165.1 L178.1 165.5 L176.3 165.9 L174.5 166.2 L172.7 166.5 L171.0 166.7 L169.2 167.0 L167.4 167.2 L165.6 167.4 L163.8 167.5 L162.0 167.7 L160.2 167.8 L158.4 167.9 L156.6 168.0 L154.8 168.1 L153.0 168.1 L151.2 168.1 L149.4 168.2 L147.6 168.2 L145.8 168.2 L144.0 168.2 L142.2 168.1 L140.4 168.1 L138.6 168.1 L136.8 168.1" stroke="#ee8a8a" stroke-opacity="0.5" stroke-width="2.2"/><path d="M136.0 59.0 L137.8 59.0 L139.6 59.0 L141.4 59.0 L143.2 59.0 L145.0 59.0 L146.8 59.1 L148.6 59.1 L150.4 59.1 L152.2 59.2 L154.0 59.3 L155.8 59.4 L157.6 59.5 L159.4 59.6 L161.2 59.7 L163.0 59.9 L164.8 60.0 L166.6 60.2 L168.3 60.4 L170.1 60.7 L171.9 61.0 L173.7 61.3 L175.5 61.6 L177.2 61.9 L179.0 62.3 L180.7 62.7 L182.5 63.1 L184.2 63.6 L185.9 64.1 L187.7 64.6 L189.4 65.2 L191.1 65.8 L192.8 66.5 L194.4 67.1 L196.1 67.8 L197.7 68.6 L199.3 69.4 L200.9 70.2 L202.5 71.1 L204.1 72.0 L205.6 72.9 L207.1 73.9 L208.6 74.9 L210.0 76.0 L211.4 77.1 L212.8 78.3 L214.2 79.5 L215.5 80.7 L216.7 82.0 L218.0 83.3 L219.2 84.7 L220.3 86.1 L221.4 87.5 L222.4 89.0 L223.4 90.5 L224.3 92.0 L225.2 93.6 L226.0 95.2 L226.7 96.8 L227.4 98.5 L228.0 100.2 L228.6 101.9 L229.0 103.7 L229.4 105.4 L229.7 107.2 L230.0 109.0 L230.2 110.8 L230.3 112.6 L230.3 114.4 L230.2 116.2 L230.1 117.9 L229.9 119.7 L229.6 121.5 L229.3 123.3 L228.8 125.0 L228.3 126.8 L227.7 128.5 L227.1 130.1 L226.4 131.8 L225.6 133.4 L224.8 135.0 L223.9 136.6 L222.9 138.1 L221.9 139.6 L220.9 141.1 L219.8 142.5 L218.6 143.8 L217.4 145.2 L216.1 146.5 L214.9 147.7 L213.5 148.9 L212.2 150.1 L210.8 151.2 L209.3 152.3 L207.9 153.4 L206.4 154.4 L204.8 155.3 L203.3 156.3 L201.7 157.1 L200.1 158.0 L198.5 158.8 L196.9 159.5 L195.2 160.3 L193.6 160.9 L191.9 161.6 L190.2 162.2 L188.5 162.8 L186.8 163.3 L185.0 163.8 L183.3 164.3 L181.6 164.7 L179.8 165.1 L178.1 165.5 L176.3 165.9 L174.5 166.2 L172.7 166.5 L171.0 166.7 L169.2 167.0 L167.4 167.2 L165.6 167.4 L163.8 167.5 L162.0 167.7 L160.2 167.8 L158.4 167.9 L156.6 168.0 L154.8 168.1 L153.0 168.1 L151.2 168.1 L149.4 168.2 L147.6 168.2 L145.8 168.2 L144.0 168.2 L142.2 168.1 L140.4 168.1 L138.6 168.1 L136.8 168.1" stroke="#fff" stroke-opacity="0.85" stroke-width="0.9"/><path d="M133.0 59.0 L131.2 59.0 L129.4 59.0 L127.6 59.0 L125.8 59.0 L124.0 59.0 L122.2 59.1 L120.4 59.1 L118.6 59.1 L116.8 59.2 L115.0 59.3 L113.2 59.4 L111.4 59.5 L109.6 59.6 L107.8 59.7 L106.0 59.9 L104.2 60.0 L102.4 60.2 L100.7 60.4 L98.9 60.7 L97.1 61.0 L95.3 61.3 L93.5 61.6 L91.8 61.9 L90.0 62.3 L88.3 62.7 L86.5 63.1 L84.8 63.6 L83.1 64.1 L81.3 64.6 L79.6 65.2 L77.9 65.8 L76.2 66.5 L74.6 67.1 L72.9 67.8 L71.3 68.6 L69.7 69.4 L68.1 70.2 L66.5 71.1 L64.9 72.0 L63.4 72.9 L61.9 73.9 L60.4 74.9 L59.0 76.0 L57.6 77.1 L56.2 78.3 L54.8 79.5 L53.5 80.7 L52.3 82.0 L51.0 83.3 L49.8 84.7 L48.7 86.1 L47.6 87.5 L46.6 89.0 L45.6 90.5 L44.7 92.0 L43.8 93.6 L43.0 95.2 L42.3 96.8 L41.6 98.5 L41.0 100.2 L40.4 101.9 L40.0 103.7 L39.6 105.4 L39.3 107.2 L39.0 109.0 L38.8 110.8 L38.7 112.6 L38.7 114.4 L38.8 116.2 L38.9 117.9 L39.1 119.7 L39.4 121.5 L39.7 123.3 L40.2 125.0 L40.7 126.8 L41.3 128.5 L41.9 130.1 L42.6 131.8 L43.4 133.4 L44.2 135.0 L45.1 136.6 L46.1 138.1 L47.1 139.6 L48.1 141.1 L49.2 142.5 L50.4 143.8 L51.6 145.2 L52.9 146.5 L54.1 147.7 L55.5 148.9 L56.8 150.1 L58.2 151.2 L59.7 152.3 L61.1 153.4 L62.6 154.4 L64.2 155.3 L65.7 156.3 L67.3 157.1 L68.9 158.0 L70.5 158.8 L72.1 159.5 L73.8 160.3 L75.4 160.9 L77.1 161.6 L78.8 162.2 L80.5 162.8 L82.2 163.3 L84.0 163.8 L85.7 164.3 L87.4 164.7 L89.2 165.1 L90.9 165.5 L92.7 165.9 L94.5 166.2 L96.3 166.5 L98.0 166.7 L99.8 167.0 L101.6 167.2 L103.4 167.4 L105.2 167.5 L107.0 167.7 L108.8 167.8 L110.6 167.9 L112.4 168.0 L114.2 168.1 L116.0 168.1 L117.8 168.1 L119.6 168.2 L121.4 168.2 L123.2 168.2 L125.0 168.2 L126.8 168.1 L128.6 168.1 L130.4 168.1 L132.2 168.1" stroke="#ee8a8a" stroke-opacity="0.5" stroke-width="2.2"/><path d="M133.0 59.0 L131.2 59.0 L129.4 59.0 L127.6 59.0 L125.8 59.0 L124.0 59.0 L122.2 59.1 L120.4 59.1 L118.6 59.1 L116.8 59.2 L115.0 59.3 L113.2 59.4 L111.4 59.5 L109.6 59.6 L107.8 59.7 L106.0 59.9 L104.2 60.0 L102.4 60.2 L100.7 60.4 L98.9 60.7 L97.1 61.0 L95.3 61.3 L93.5 61.6 L91.8 61.9 L90.0 62.3 L88.3 62.7 L86.5 63.1 L84.8 63.6 L83.1 64.1 L81.3 64.6 L79.6 65.2 L77.9 65.8 L76.2 66.5 L74.6 67.1 L72.9 67.8 L71.3 68.6 L69.7 69.4 L68.1 70.2 L66.5 71.1 L64.9 72.0 L63.4 72.9 L61.9 73.9 L60.4 74.9 L59.0 76.0 L57.6 77.1 L56.2 78.3 L54.8 79.5 L53.5 80.7 L52.3 82.0 L51.0 83.3 L49.8 84.7 L48.7 86.1 L47.6 87.5 L46.6 89.0 L45.6 90.5 L44.7 92.0 L43.8 93.6 L43.0 95.2 L42.3 96.8 L41.6 98.5 L41.0 100.2 L40.4 101.9 L40.0 103.7 L39.6 105.4 L39.3 107.2 L39.0 109.0 L38.8 110.8 L38.7 112.6 L38.7 114.4 L38.8 116.2 L38.9 117.9 L39.1 119.7 L39.4 121.5 L39.7 123.3 L40.2 125.0 L40.7 126.8 L41.3 128.5 L41.9 130.1 L42.6 131.8 L43.4 133.4 L44.2 135.0 L45.1 136.6 L46.1 138.1 L47.1 139.6 L48.1 141.1 L49.2 142.5 L50.4 143.8 L51.6 145.2 L52.9 146.5 L54.1 147.7 L55.5 148.9 L56.8 150.1 L58.2 151.2 L59.7 152.3 L61.1 153.4 L62.6 154.4 L64.2 155.3 L65.7 156.3 L67.3 157.1 L68.9 158.0 L70.5 158.8 L72.1 159.5 L73.8 160.3 L75.4 160.9 L77.1 161.6 L78.8 162.2 L80.5 162.8 L82.2 163.3 L84.0 163.8 L85.7 164.3 L87.4 164.7 L89.2 165.1 L90.9 165.5 L92.7 165.9 L94.5 166.2 L96.3 166.5 L98.0 166.7 L99.8 167.0 L101.6 167.2 L103.4 167.4 L105.2 167.5 L107.0 167.7 L108.8 167.8 L110.6 167.9 L112.4 168.0 L114.2 168.1 L116.0 168.1 L117.8 168.1 L119.6 168.2 L121.4 168.2 L123.2 168.2 L125.0 168.2 L126.8 168.1 L128.6 168.1 L130.4 168.1 L132.2 168.1" stroke="#fff" stroke-opacity="0.85" stroke-width="0.9"/><path d="M135.9 59.4 L137.7 59.9 L139.4 60.3 L141.2 60.8 L142.9 61.3 L144.6 61.8 L146.4 62.2 L148.1 62.7 L149.8 63.3 L151.5 63.8 L153.3 64.3 L155.0 64.9 L156.7 65.4 L158.4 66.0 L160.1 66.6 L161.8 67.3 L163.4 67.9 L165.1 68.6 L166.8 69.3 L168.4 70.1 L170.0 70.8 L171.6 71.6 L173.2 72.4 L174.8 73.3 L176.4 74.2 L177.9 75.1 L179.5 76.1 L180.9 77.1 L182.4 78.1 L183.9 79.2 L185.3 80.3 L186.6 81.5 L188.0 82.7 L189.3 83.9 L190.5 85.2 L191.8 86.5 L192.9 87.9 L194.1 89.3 L195.1 90.8 L196.1 92.2 L197.1 93.8 L198.0 95.3 L198.8 96.9 L199.5 98.6 L200.2 100.2 L200.8 101.9 L201.4 103.7 L201.8 105.4 L202.2 107.2 L202.5 108.9 L202.7 110.7 L202.8 112.5 L202.8 114.3 L202.7 116.1 L202.6 117.9 L202.4 119.7 L202.0 121.5 L201.6 123.2 L201.1 125.0 L200.6 126.7 L199.9 128.4 L199.2 130.0 L198.4 131.6 L197.6 133.2 L196.7 134.8 L195.7 136.3 L194.7 137.7 L193.6 139.2 L192.4 140.6 L191.2 141.9 L190.0 143.2 L188.7 144.5 L187.4 145.7 L186.0 146.9 L184.6 148.0 L183.2 149.1 L181.7 150.1 L180.2 151.1 L178.7 152.1 L177.2 153.1 L175.6 154.0 L174.0 154.8 L172.4 155.6 L170.8 156.4 L169.2 157.2 L167.6 157.9 L165.9 158.6 L164.2 159.3 L162.5 160.0 L160.9 160.6 L159.2 161.2 L157.5 161.8 L155.7 162.3 L154.0 162.8 L152.3 163.4 L150.6 163.9 L148.8 164.4 L147.1 164.8 L145.4 165.3 L143.6 165.7 L141.9 166.2 L140.1 166.6 L138.4 167.1 L136.6 167.5" stroke="#ee8a8a" stroke-opacity="0.5" stroke-width="2.2"/><path d="M135.9 59.4 L137.7 59.9 L139.4 60.3 L141.2 60.8 L142.9 61.3 L144.6 61.8 L146.4 62.2 L148.1 62.7 L149.8 63.3 L151.5 63.8 L153.3 64.3 L155.0 64.9 L156.7 65.4 L158.4 66.0 L160.1 66.6 L161.8 67.3 L163.4 67.9 L165.1 68.6 L166.8 69.3 L168.4 70.1 L170.0 70.8 L171.6 71.6 L173.2 72.4 L174.8 73.3 L176.4 74.2 L177.9 75.1 L179.5 76.1 L180.9 77.1 L182.4 78.1 L183.9 79.2 L185.3 80.3 L186.6 81.5 L188.0 82.7 L189.3 83.9 L190.5 85.2 L191.8 86.5 L192.9 87.9 L194.1 89.3 L195.1 90.8 L196.1 92.2 L197.1 93.8 L198.0 95.3 L198.8 96.9 L199.5 98.6 L200.2 100.2 L200.8 101.9 L201.4 103.7 L201.8 105.4 L202.2 107.2 L202.5 108.9 L202.7 110.7 L202.8 112.5 L202.8 114.3 L202.7 116.1 L202.6 117.9 L202.4 119.7 L202.0 121.5 L201.6 123.2 L201.1 125.0 L200.6 126.7 L199.9 128.4 L199.2 130.0 L198.4 131.6 L197.6 133.2 L196.7 134.8 L195.7 136.3 L194.7 137.7 L193.6 139.2 L192.4 140.6 L191.2 141.9 L190.0 143.2 L188.7 144.5 L187.4 145.7 L186.0 146.9 L184.6 148.0 L183.2 149.1 L181.7 150.1 L180.2 151.1 L178.7 152.1 L177.2 153.1 L175.6 154.0 L174.0 154.8 L172.4 155.6 L170.8 156.4 L169.2 157.2 L167.6 157.9 L165.9 158.6 L164.2 159.3 L162.5 160.0 L160.9 160.6 L159.2 161.2 L157.5 161.8 L155.7 162.3 L154.0 162.8 L152.3 163.4 L150.6 163.9 L148.8 164.4 L147.1 164.8 L145.4 165.3 L143.6 165.7 L141.9 166.2 L140.1 166.6 L138.4 167.1 L136.6 167.5" stroke="#fff" stroke-opacity="0.85" stroke-width="0.9"/><path d="M133.1 59.4 L131.3 59.9 L129.6 60.3 L127.8 60.8 L126.1 61.3 L124.4 61.8 L122.6 62.2 L120.9 62.7 L119.2 63.3 L117.5 63.8 L115.7 64.3 L114.0 64.9 L112.3 65.4 L110.6 66.0 L108.9 66.6 L107.2 67.3 L105.6 67.9 L103.9 68.6 L102.2 69.3 L100.6 70.1 L99.0 70.8 L97.4 71.6 L95.8 72.4 L94.2 73.3 L92.6 74.2 L91.1 75.1 L89.5 76.1 L88.1 77.1 L86.6 78.1 L85.1 79.2 L83.7 80.3 L82.4 81.5 L81.0 82.7 L79.7 83.9 L78.5 85.2 L77.2 86.5 L76.1 87.9 L74.9 89.3 L73.9 90.8 L72.9 92.2 L71.9 93.8 L71.0 95.3 L70.2 96.9 L69.5 98.6 L68.8 100.2 L68.2 101.9 L67.6 103.7 L67.2 105.4 L66.8 107.2 L66.5 108.9 L66.3 110.7 L66.2 112.5 L66.2 114.3 L66.3 116.1 L66.4 117.9 L66.6 119.7 L67.0 121.5 L67.4 123.2 L67.9 125.0 L68.4 126.7 L69.1 128.4 L69.8 130.0 L70.6 131.6 L71.4 133.2 L72.3 134.8 L73.3 136.3 L74.3 137.7 L75.4 139.2 L76.6 140.6 L77.8 141.9 L79.0 143.2 L80.3 144.5 L81.6 145.7 L83.0 146.9 L84.4 148.0 L85.8 149.1 L87.3 150.1 L88.8 151.1 L90.3 152.1 L91.8 153.1 L93.4 154.0 L95.0 154.8 L96.6 155.6 L98.2 156.4 L99.8 157.2 L101.4 157.9 L103.1 158.6 L104.8 159.3 L106.5 160.0 L108.1 160.6 L109.8 161.2 L111.5 161.8 L113.3 162.3 L115.0 162.8 L116.7 163.4 L118.4 163.9 L120.2 164.4 L121.9 164.8 L123.6 165.3 L125.4 165.7 L127.1 166.2 L128.9 166.6 L130.6 167.1 L132.4 167.5" stroke="#ee8a8a" stroke-opacity="0.5" stroke-width="2.2"/><path d="M133.1 59.4 L131.3 59.9 L129.6 60.3 L127.8 60.8 L126.1 61.3 L124.4 61.8 L122.6 62.2 L120.9 62.7 L119.2 63.3 L117.5 63.8 L115.7 64.3 L114.0 64.9 L112.3 65.4 L110.6 66.0 L108.9 66.6 L107.2 67.3 L105.6 67.9 L103.9 68.6 L102.2 69.3 L100.6 70.1 L99.0 70.8 L97.4 71.6 L95.8 72.4 L94.2 73.3 L92.6 74.2 L91.1 75.1 L89.5 76.1 L88.1 77.1 L86.6 78.1 L85.1 79.2 L83.7 80.3 L82.4 81.5 L81.0 82.7 L79.7 83.9 L78.5 85.2 L77.2 86.5 L76.1 87.9 L74.9 89.3 L73.9 90.8 L72.9 92.2 L71.9 93.8 L71.0 95.3 L70.2 96.9 L69.5 98.6 L68.8 100.2 L68.2 101.9 L67.6 103.7 L67.2 105.4 L66.8 107.2 L66.5 108.9 L66.3 110.7 L66.2 112.5 L66.2 114.3 L66.3 116.1 L66.4 117.9 L66.6 119.7 L67.0 121.5 L67.4 123.2 L67.9 125.0 L68.4 126.7 L69.1 128.4 L69.8 130.0 L70.6 131.6 L71.4 133.2 L72.3 134.8 L73.3 136.3 L74.3 137.7 L75.4 139.2 L76.6 140.6 L77.8 141.9 L79.0 143.2 L80.3 144.5 L81.6 145.7 L83.0 146.9 L84.4 148.0 L85.8 149.1 L87.3 150.1 L88.8 151.1 L90.3 152.1 L91.8 153.1 L93.4 154.0 L95.0 154.8 L96.6 155.6 L98.2 156.4 L99.8 157.2 L101.4 157.9 L103.1 158.6 L104.8 159.3 L106.5 160.0 L108.1 160.6 L109.8 161.2 L111.5 161.8 L113.3 162.3 L115.0 162.8 L116.7 163.4 L118.4 163.9 L120.2 164.4 L121.9 164.8 L123.6 165.3 L125.4 165.7 L127.1 166.2 L128.9 166.6 L130.6 167.1 L132.4 167.5" stroke="#fff" stroke-opacity="0.85" stroke-width="0.9"/><path d="M135.8 59.8 L137.4 60.7 L138.9 61.6 L140.5 62.5 L142.0 63.4 L143.6 64.3 L145.1 65.2 L146.7 66.1 L148.2 67.1 L149.7 68.0 L151.2 69.0 L152.8 70.0 L154.3 71.0 L155.7 72.0 L157.2 73.0 L158.7 74.1 L160.1 75.1 L161.5 76.2 L162.9 77.4 L164.3 78.5 L165.7 79.7 L167.0 80.9 L168.3 82.2 L169.6 83.4 L170.8 84.8 L172.0 86.1 L173.2 87.5 L174.3 88.9 L175.3 90.3 L176.3 91.8 L177.3 93.4 L178.2 94.9 L179.0 96.5 L179.8 98.1 L180.5 99.8 L181.1 101.5 L181.7 103.2 L182.2 104.9 L182.6 106.7 L182.9 108.5 L183.1 110.2 L183.2 112.0 L183.3 113.8 L183.3 115.6 L183.1 117.4 L182.9 119.2 L182.6 121.0 L182.2 122.8 L181.8 124.5 L181.2 126.2 L180.6 127.9 L179.9 129.6 L179.1 131.2 L178.3 132.8 L177.4 134.3 L176.4 135.9 L175.4 137.3 L174.4 138.8 L173.2 140.2 L172.1 141.6 L170.9 142.9 L169.6 144.2 L168.4 145.5 L167.1 146.7 L165.7 148.0 L164.4 149.1 L163.0 150.3 L161.6 151.4 L160.1 152.5 L158.7 153.5 L157.2 154.6 L155.7 155.6 L154.2 156.6 L152.7 157.5 L151.2 158.5 L149.6 159.4 L148.1 160.4 L146.5 161.3 L145.0 162.2 L143.4 163.1 L141.8 164.0 L140.3 164.8 L138.7 165.7 L137.1 166.6 L135.5 167.4" stroke="#ee8a8a" stroke-opacity="0.5" stroke-width="2.2"/><path d="M135.8 59.8 L137.4 60.7 L138.9 61.6 L140.5 62.5 L142.0 63.4 L143.6 64.3 L145.1 65.2 L146.7 66.1 L148.2 67.1 L149.7 68.0 L151.2 69.0 L152.8 70.0 L154.3 71.0 L155.7 72.0 L157.2 73.0 L158.7 74.1 L160.1 75.1 L161.5 76.2 L162.9 77.4 L164.3 78.5 L165.7 79.7 L167.0 80.9 L168.3 82.2 L169.6 83.4 L170.8 84.8 L172.0 86.1 L173.2 87.5 L174.3 88.9 L175.3 90.3 L176.3 91.8 L177.3 93.4 L178.2 94.9 L179.0 96.5 L179.8 98.1 L180.5 99.8 L181.1 101.5 L181.7 103.2 L182.2 104.9 L182.6 106.7 L182.9 108.5 L183.1 110.2 L183.2 112.0 L183.3 113.8 L183.3 115.6 L183.1 117.4 L182.9 119.2 L182.6 121.0 L182.2 122.8 L181.8 124.5 L181.2 126.2 L180.6 127.9 L179.9 129.6 L179.1 131.2 L178.3 132.8 L177.4 134.3 L176.4 135.9 L175.4 137.3 L174.4 138.8 L173.2 140.2 L172.1 141.6 L170.9 142.9 L169.6 144.2 L168.4 145.5 L167.1 146.7 L165.7 148.0 L164.4 149.1 L163.0 150.3 L161.6 151.4 L160.1 152.5 L158.7 153.5 L157.2 154.6 L155.7 155.6 L154.2 156.6 L152.7 157.5 L151.2 158.5 L149.6 159.4 L148.1 160.4 L146.5 161.3 L145.0 162.2 L143.4 163.1 L141.8 164.0 L140.3 164.8 L138.7 165.7 L137.1 166.6 L135.5 167.4" stroke="#fff" stroke-opacity="0.85" stroke-width="0.9"/><path d="M133.2 59.8 L131.6 60.7 L130.1 61.6 L128.5 62.5 L127.0 63.4 L125.4 64.3 L123.9 65.2 L122.3 66.1 L120.8 67.1 L119.3 68.0 L117.8 69.0 L116.2 70.0 L114.7 71.0 L113.3 72.0 L111.8 73.0 L110.3 74.1 L108.9 75.1 L107.5 76.2 L106.1 77.4 L104.7 78.5 L103.3 79.7 L102.0 80.9 L100.7 82.2 L99.4 83.4 L98.2 84.8 L97.0 86.1 L95.8 87.5 L94.7 88.9 L93.7 90.3 L92.7 91.8 L91.7 93.4 L90.8 94.9 L90.0 96.5 L89.2 98.1 L88.5 99.8 L87.9 101.5 L87.3 103.2 L86.8 104.9 L86.4 106.7 L86.1 108.5 L85.9 110.2 L85.8 112.0 L85.7 113.8 L85.7 115.6 L85.9 117.4 L86.1 119.2 L86.4 121.0 L86.8 122.8 L87.2 124.5 L87.8 126.2 L88.4 127.9 L89.1 129.6 L89.9 131.2 L90.7 132.8 L91.6 134.3 L92.6 135.9 L93.6 137.3 L94.6 138.8 L95.8 140.2 L96.9 141.6 L98.1 142.9 L99.4 144.2 L100.6 145.5 L101.9 146.7 L103.3 148.0 L104.6 149.1 L106.0 150.3 L107.4 151.4 L108.9 152.5 L110.3 153.5 L111.8 154.6 L113.3 155.6 L114.8 156.6 L116.3 157.5 L117.8 158.5 L119.4 159.4 L120.9 160.4 L122.5 161.3 L124.0 162.2 L125.6 163.1 L127.2 164.0 L128.7 164.8 L130.3 165.7 L131.9 166.6 L133.5 167.4" stroke="#ee8a8a" stroke-opacity="0.5" stroke-width="2.2"/><path d="M133.2 59.8 L131.6 60.7 L130.1 61.6 L128.5 62.5 L127.0 63.4 L125.4 64.3 L123.9 65.2 L122.3 66.1 L120.8 67.1 L119.3 68.0 L117.8 69.0 L116.2 70.0 L114.7 71.0 L113.3 72.0 L111.8 73.0 L110.3 74.1 L108.9 75.1 L107.5 76.2 L106.1 77.4 L104.7 78.5 L103.3 79.7 L102.0 80.9 L100.7 82.2 L99.4 83.4 L98.2 84.8 L97.0 86.1 L95.8 87.5 L94.7 88.9 L93.7 90.3 L92.7 91.8 L91.7 93.4 L90.8 94.9 L90.0 96.5 L89.2 98.1 L88.5 99.8 L87.9 101.5 L87.3 103.2 L86.8 104.9 L86.4 106.7 L86.1 108.5 L85.9 110.2 L85.8 112.0 L85.7 113.8 L85.7 115.6 L85.9 117.4 L86.1 119.2 L86.4 121.0 L86.8 122.8 L87.2 124.5 L87.8 126.2 L88.4 127.9 L89.1 129.6 L89.9 131.2 L90.7 132.8 L91.6 134.3 L92.6 135.9 L93.6 137.3 L94.6 138.8 L95.8 140.2 L96.9 141.6 L98.1 142.9 L99.4 144.2 L100.6 145.5 L101.9 146.7 L103.3 148.0 L104.6 149.1 L106.0 150.3 L107.4 151.4 L108.9 152.5 L110.3 153.5 L111.8 154.6 L113.3 155.6 L114.8 156.6 L116.3 157.5 L117.8 158.5 L119.4 159.4 L120.9 160.4 L122.5 161.3 L124.0 162.2 L125.6 163.1 L127.2 164.0 L128.7 164.8 L130.3 165.7 L131.9 166.6 L133.5 167.4" stroke="#fff" stroke-opacity="0.85" stroke-width="0.9"/><path d="M135.6 60.0 L136.9 61.3 L138.2 62.5 L139.5 63.8 L140.7 65.1 L142.0 66.3 L143.3 67.6 L144.6 68.9 L145.8 70.1 L147.1 71.4 L148.4 72.7 L149.6 74.0 L150.8 75.4 L152.0 76.7 L153.2 78.0 L154.4 79.4 L155.5 80.8 L156.6 82.2 L157.7 83.6 L158.8 85.1 L159.8 86.6 L160.8 88.1 L161.8 89.6 L162.7 91.1 L163.6 92.7 L164.4 94.3 L165.1 96.0 L165.9 97.6 L166.5 99.3 L167.1 101.0 L167.6 102.7 L168.1 104.5 L168.4 106.2 L168.7 108.0 L169.0 109.8 L169.1 111.6 L169.2 113.4 L169.2 115.2 L169.1 117.0 L168.9 118.8 L168.6 120.5 L168.3 122.3 L167.9 124.1 L167.4 125.8 L166.9 127.5 L166.3 129.2 L165.6 130.9 L164.9 132.5 L164.1 134.1 L163.2 135.7 L162.3 137.3 L161.4 138.8 L160.4 140.3 L159.4 141.8 L158.3 143.3 L157.2 144.7 L156.1 146.1 L155.0 147.5 L153.8 148.9 L152.6 150.2 L151.4 151.5 L150.2 152.9 L148.9 154.2 L147.7 155.4 L146.4 156.7 L145.1 158.0 L143.8 159.2 L142.5 160.5 L141.2 161.7 L139.9 163.0 L138.6 164.2 L137.3 165.4 L136.0 166.6" stroke="#ee8a8a" stroke-opacity="0.5" stroke-width="2.2"/><path d="M135.6 60.0 L136.9 61.3 L138.2 62.5 L139.5 63.8 L140.7 65.1 L142.0 66.3 L143.3 67.6 L144.6 68.9 L145.8 70.1 L147.1 71.4 L148.4 72.7 L149.6 74.0 L150.8 75.4 L152.0 76.7 L153.2 78.0 L154.4 79.4 L155.5 80.8 L156.6 82.2 L157.7 83.6 L158.8 85.1 L159.8 86.6 L160.8 88.1 L161.8 89.6 L162.7 91.1 L163.6 92.7 L164.4 94.3 L165.1 96.0 L165.9 97.6 L166.5 99.3 L167.1 101.0 L167.6 102.7 L168.1 104.5 L168.4 106.2 L168.7 108.0 L169.0 109.8 L169.1 111.6 L169.2 113.4 L169.2 115.2 L169.1 117.0 L168.9 118.8 L168.6 120.5 L168.3 122.3 L167.9 124.1 L167.4 125.8 L166.9 127.5 L166.3 129.2 L165.6 130.9 L164.9 132.5 L164.1 134.1 L163.2 135.7 L162.3 137.3 L161.4 138.8 L160.4 140.3 L159.4 141.8 L158.3 143.3 L157.2 144.7 L156.1 146.1 L155.0 147.5 L153.8 148.9 L152.6 150.2 L151.4 151.5 L150.2 152.9 L148.9 154.2 L147.7 155.4 L146.4 156.7 L145.1 158.0 L143.8 159.2 L142.5 160.5 L141.2 161.7 L139.9 163.0 L138.6 164.2 L137.3 165.4 L136.0 166.6" stroke="#fff" stroke-opacity="0.85" stroke-width="0.9"/><path d="M133.4 60.0 L132.1 61.3 L130.8 62.5 L129.5 63.8 L128.3 65.1 L127.0 66.3 L125.7 67.6 L124.4 68.9 L123.2 70.1 L121.9 71.4 L120.6 72.7 L119.4 74.0 L118.2 75.4 L117.0 76.7 L115.8 78.0 L114.6 79.4 L113.5 80.8 L112.4 82.2 L111.3 83.6 L110.2 85.1 L109.2 86.6 L108.2 88.1 L107.2 89.6 L106.3 91.1 L105.4 92.7 L104.6 94.3 L103.9 96.0 L103.1 97.6 L102.5 99.3 L101.9 101.0 L101.4 102.7 L100.9 104.5 L100.6 106.2 L100.3 108.0 L100.0 109.8 L99.9 111.6 L99.8 113.4 L99.8 115.2 L99.9 117.0 L100.1 118.8 L100.4 120.5 L100.7 122.3 L101.1 124.1 L101.6 125.8 L102.1 127.5 L102.7 129.2 L103.4 130.9 L104.1 132.5 L104.9 134.1 L105.8 135.7 L106.7 137.3 L107.6 138.8 L108.6 140.3 L109.6 141.8 L110.7 143.3 L111.8 144.7 L112.9 146.1 L114.0 147.5 L115.2 148.9 L116.4 150.2 L117.6 151.5 L118.8 152.9 L120.1 154.2 L121.3 155.4 L122.6 156.7 L123.9 158.0 L125.2 159.2 L126.5 160.5 L127.8 161.7 L129.1 163.0 L130.4 164.2 L131.7 165.4 L133.0 166.6" stroke="#ee8a8a" stroke-opacity="0.5" stroke-width="2.2"/><path d="M133.4 60.0 L132.1 61.3 L130.8 62.5 L129.5 63.8 L128.3 65.1 L127.0 66.3 L125.7 67.6 L124.4 68.9 L123.2 70.1 L121.9 71.4 L120.6 72.7 L119.4 74.0 L118.2 75.4 L117.0 76.7 L115.8 78.0 L114.6 79.4 L113.5 80.8 L112.4 82.2 L111.3 83.6 L110.2 85.1 L109.2 86.6 L108.2 88.1 L107.2 89.6 L106.3 91.1 L105.4 92.7 L104.6 94.3 L103.9 96.0 L103.1 97.6 L102.5 99.3 L101.9 101.0 L101.4 102.7 L100.9 104.5 L100.6 106.2 L100.3 108.0 L100.0 109.8 L99.9 111.6 L99.8 113.4 L99.8 115.2 L99.9 117.0 L100.1 118.8 L100.4 120.5 L100.7 122.3 L101.1 124.1 L101.6 125.8 L102.1 127.5 L102.7 129.2 L103.4 130.9 L104.1 132.5 L104.9 134.1 L105.8 135.7 L106.7 137.3 L107.6 138.8 L108.6 140.3 L109.6 141.8 L110.7 143.3 L111.8 144.7 L112.9 146.1 L114.0 147.5 L115.2 148.9 L116.4 150.2 L117.6 151.5 L118.8 152.9 L120.1 154.2 L121.3 155.4 L122.6 156.7 L123.9 158.0 L125.2 159.2 L126.5 160.5 L127.8 161.7 L129.1 163.0 L130.4 164.2 L131.7 165.4 L133.0 166.6" stroke="#fff" stroke-opacity="0.85" stroke-width="0.9"/><path d="M135.3 60.3 L136.3 61.8 L137.3 63.3 L138.3 64.8 L139.2 66.3 L140.2 67.8 L141.2 69.3 L142.1 70.9 L143.1 72.4 L144.0 73.9 L145.0 75.5 L145.9 77.0 L146.8 78.6 L147.7 80.1 L148.5 81.7 L149.4 83.3 L150.2 84.9 L151.0 86.5 L151.8 88.1 L152.6 89.8 L153.3 91.4 L153.9 93.1 L154.6 94.8 L155.2 96.5 L155.7 98.2 L156.2 99.9 L156.7 101.6 L157.1 103.4 L157.4 105.2 L157.7 106.9 L157.9 108.7 L158.1 110.5 L158.2 112.3 L158.2 114.1 L158.1 115.9 L158.0 117.7 L157.9 119.5 L157.6 121.3 L157.4 123.1 L157.0 124.8 L156.6 126.6 L156.1 128.3 L155.6 130.1 L155.0 131.8 L154.4 133.5 L153.8 135.1 L153.1 136.8 L152.4 138.4 L151.6 140.1 L150.8 141.7 L150.0 143.3 L149.1 144.9 L148.3 146.4 L147.4 148.0 L146.5 149.6 L145.5 151.1 L144.6 152.6 L143.6 154.2 L142.7 155.7 L141.7 157.2 L140.7 158.7 L139.7 160.2 L138.7 161.7 L137.7 163.2 L136.7 164.7 L135.7 166.2" stroke="#ee8a8a" stroke-opacity="0.5" stroke-width="2.2"/><path d="M135.3 60.3 L136.3 61.8 L137.3 63.3 L138.3 64.8 L139.2 66.3 L140.2 67.8 L141.2 69.3 L142.1 70.9 L143.1 72.4 L144.0 73.9 L145.0 75.5 L145.9 77.0 L146.8 78.6 L147.7 80.1 L148.5 81.7 L149.4 83.3 L150.2 84.9 L151.0 86.5 L151.8 88.1 L152.6 89.8 L153.3 91.4 L153.9 93.1 L154.6 94.8 L155.2 96.5 L155.7 98.2 L156.2 99.9 L156.7 101.6 L157.1 103.4 L157.4 105.2 L157.7 106.9 L157.9 108.7 L158.1 110.5 L158.2 112.3 L158.2 114.1 L158.1 115.9 L158.0 117.7 L157.9 119.5 L157.6 121.3 L157.4 123.1 L157.0 124.8 L156.6 126.6 L156.1 128.3 L155.6 130.1 L155.0 131.8 L154.4 133.5 L153.8 135.1 L153.1 136.8 L152.4 138.4 L151.6 140.1 L150.8 141.7 L150.0 143.3 L149.1 144.9 L148.3 146.4 L147.4 148.0 L146.5 149.6 L145.5 151.1 L144.6 152.6 L143.6 154.2 L142.7 155.7 L141.7 157.2 L140.7 158.7 L139.7 160.2 L138.7 161.7 L137.7 163.2 L136.7 164.7 L135.7 166.2" stroke="#fff" stroke-opacity="0.85" stroke-width="0.9"/><path d="M133.7 60.3 L132.7 61.8 L131.7 63.3 L130.7 64.8 L129.8 66.3 L128.8 67.8 L127.8 69.3 L126.9 70.9 L125.9 72.4 L125.0 73.9 L124.0 75.5 L123.1 77.0 L122.2 78.6 L121.3 80.1 L120.5 81.7 L119.6 83.3 L118.8 84.9 L118.0 86.5 L117.2 88.1 L116.4 89.8 L115.7 91.4 L115.1 93.1 L114.4 94.8 L113.8 96.5 L113.3 98.2 L112.8 99.9 L112.3 101.6 L111.9 103.4 L111.6 105.2 L111.3 106.9 L111.1 108.7 L110.9 110.5 L110.8 112.3 L110.8 114.1 L110.9 115.9 L111.0 117.7 L111.1 119.5 L111.4 121.3 L111.6 123.1 L112.0 124.8 L112.4 126.6 L112.9 128.3 L113.4 130.1 L114.0 131.8 L114.6 133.5 L115.2 135.1 L115.9 136.8 L116.6 138.4 L117.4 140.1 L118.2 141.7 L119.0 143.3 L119.9 144.9 L120.7 146.4 L121.6 148.0 L122.5 149.6 L123.5 151.1 L124.4 152.6 L125.4 154.2 L126.3 155.7 L127.3 157.2 L128.3 158.7 L129.3 160.2 L130.3 161.7 L131.3 163.2 L132.3 164.7 L133.3 166.2" stroke="#ee8a8a" stroke-opacity="0.5" stroke-width="2.2"/><path d="M133.7 60.3 L132.7 61.8 L131.7 63.3 L130.7 64.8 L129.8 66.3 L128.8 67.8 L127.8 69.3 L126.9 70.9 L125.9 72.4 L125.0 73.9 L124.0 75.5 L123.1 77.0 L122.2 78.6 L121.3 80.1 L120.5 81.7 L119.6 83.3 L118.8 84.9 L118.0 86.5 L117.2 88.1 L116.4 89.8 L115.7 91.4 L115.1 93.1 L114.4 94.8 L113.8 96.5 L113.3 98.2 L112.8 99.9 L112.3 101.6 L111.9 103.4 L111.6 105.2 L111.3 106.9 L111.1 108.7 L110.9 110.5 L110.8 112.3 L110.8 114.1 L110.9 115.9 L111.0 117.7 L111.1 119.5 L111.4 121.3 L111.6 123.1 L112.0 124.8 L112.4 126.6 L112.9 128.3 L113.4 130.1 L114.0 131.8 L114.6 133.5 L115.2 135.1 L115.9 136.8 L116.6 138.4 L117.4 140.1 L118.2 141.7 L119.0 143.3 L119.9 144.9 L120.7 146.4 L121.6 148.0 L122.5 149.6 L123.5 151.1 L124.4 152.6 L125.4 154.2 L126.3 155.7 L127.3 157.2 L128.3 158.7 L129.3 160.2 L130.3 161.7 L131.3 163.2 L132.3 164.7 L133.3 166.2" stroke="#fff" stroke-opacity="0.85" stroke-width="0.9"/></g></g>
<g mask="url(#mR2)">
<g mask="url(#mR)" fill="none" stroke-linecap="round"><g clip-path="url(#clipA)"><path d="M312.5 57.5 L312.5 55.7 L312.5 53.9 L312.5 52.1 L312.5 50.3 L312.5 48.5 L312.5 46.7 L312.5 44.9 L312.5 43.1 L312.5 41.3 L312.5 39.5 L312.5 37.7 L312.5 35.9 L312.5 34.1 L312.5 32.3 L312.5 30.5 L312.5 28.7 L312.5 26.9 L312.5 25.1 L312.5 23.3 L312.5 21.5 L312.5 19.7 L312.5 17.9 L312.5 16.1 L312.5 14.3 L312.5 12.5 L312.5 10.7 L312.5 8.9 L312.5 7.1 L312.5 5.3 L312.5 3.5 L312.5 1.7 L312.5 -0.1 L312.5 -1.9 L312.5 -3.7 L312.5 -5.5 L312.5 -7.3 L312.5 -9.1 L312.5 -10.9 L312.5 -12.7 L312.5 -14.5 L312.5 -16.3 L312.5 -18.1 L312.5 -19.9 L312.5 -21.7 L312.5 -23.5 L312.5 -25.3 L312.5 -27.1 L312.5 -28.9 L312.5 -30.7 L312.5 -32.5 L312.5 -34.3 L312.5 -36.1 L312.5 -37.9 L312.5 -39.7 L312.5 -41.5 L312.5 -43.3 L312.5 -45.1 L312.5 -46.9 L312.5 -48.7 L312.5 -50.5" stroke="#ee8a8a" stroke-opacity="0.5" stroke-width="2.2"/><path d="M312.5 57.5 L312.5 55.7 L312.5 53.9 L312.5 52.1 L312.5 50.3 L312.5 48.5 L312.5 46.7 L312.5 44.9 L312.5 43.1 L312.5 41.3 L312.5 39.5 L312.5 37.7 L312.5 35.9 L312.5 34.1 L312.5 32.3 L312.5 30.5 L312.5 28.7 L312.5 26.9 L312.5 25.1 L312.5 23.3 L312.5 21.5 L312.5 19.7 L312.5 17.9 L312.5 16.1 L312.5 14.3 L312.5 12.5 L312.5 10.7 L312.5 8.9 L312.5 7.1 L312.5 5.3 L312.5 3.5 L312.5 1.7 L312.5 -0.1 L312.5 -1.9 L312.5 -3.7 L312.5 -5.5 L312.5 -7.3 L312.5 -9.1 L312.5 -10.9 L312.5 -12.7 L312.5 -14.5 L312.5 -16.3 L312.5 -18.1 L312.5 -19.9 L312.5 -21.7 L312.5 -23.5 L312.5 -25.3 L312.5 -27.1 L312.5 -28.9 L312.5 -30.7 L312.5 -32.5 L312.5 -34.3 L312.5 -36.1 L312.5 -37.9 L312.5 -39.7 L312.5 -41.5 L312.5 -43.3 L312.5 -45.1 L312.5 -46.9 L312.5 -48.7 L312.5 -50.5" stroke="#fff" stroke-opacity="0.85" stroke-width="0.9"/><path d="M313.0 57.6 L313.6 55.9 L314.2 54.2 L314.9 52.5 L315.5 50.8 L316.1 49.1 L316.7 47.4 L317.3 45.8 L318.0 44.1 L318.6 42.4 L319.2 40.7 L319.9 39.0 L320.5 37.3 L321.1 35.6 L321.8 34.0 L322.4 32.3 L323.1 30.6 L323.7 28.9 L324.4 27.3 L325.1 25.6 L325.7 23.9 L326.4 22.2 L327.1 20.6 L327.7 18.9 L328.4 17.2 L329.1 15.6 L329.8 13.9 L330.5 12.2 L331.2 10.6 L331.9 8.9 L332.6 7.3 L333.3 5.6 L334.0 4.0 L334.7 2.3 L335.4 0.6 L336.1 -1.0 L336.9 -2.6 L337.6 -4.3 L338.3 -5.9 L339.1 -7.6 L339.8 -9.2 L340.5 -10.9 L341.3 -12.5 L342.0 -14.1 L342.8 -15.8 L343.6 -17.4 L344.3 -19.0 L345.1 -20.7 L345.9 -22.3 L346.6 -23.9 L347.4 -25.5 L348.2 -27.1 L349.0 -28.8 L349.8 -30.4 L350.6 -32.0 L351.4 -33.6 L352.2 -35.2 L353.0 -36.8 L353.8 -38.4 L354.6 -40.0 L355.4 -41.6 L356.2 -43.3 L357.1 -44.9 L357.9 -46.4 L358.7 -48.0 L359.6 -49.6" stroke="#ee8a8a" stroke-opacity="0.5" stroke-width="2.2"/><path d="M313.0 57.6 L313.6 55.9 L314.2 54.2 L314.9 52.5 L315.5 50.8 L316.1 49.1 L316.7 47.4 L317.3 45.8 L318.0 44.1 L318.6 42.4 L319.2 40.7 L319.9 39.0 L320.5 37.3 L321.1 35.6 L321.8 34.0 L322.4 32.3 L323.1 30.6 L323.7 28.9 L324.4 27.3 L325.1 25.6 L325.7 23.9 L326.4 22.2 L327.1 20.6 L327.7 18.9 L328.4 17.2 L329.1 15.6 L329.8 13.9 L330.5 12.2 L331.2 10.6 L331.9 8.9 L332.6 7.3 L333.3 5.6 L334.0 4.0 L334.7 2.3 L335.4 0.6 L336.1 -1.0 L336.9 -2.6 L337.6 -4.3 L338.3 -5.9 L339.1 -7.6 L339.8 -9.2 L340.5 -10.9 L341.3 -12.5 L342.0 -14.1 L342.8 -15.8 L343.6 -17.4 L344.3 -19.0 L345.1 -20.7 L345.9 -22.3 L346.6 -23.9 L347.4 -25.5 L348.2 -27.1 L349.0 -28.8 L349.8 -30.4 L350.6 -32.0 L351.4 -33.6 L352.2 -35.2 L353.0 -36.8 L353.8 -38.4 L354.6 -40.0 L355.4 -41.6 L356.2 -43.3 L357.1 -44.9 L357.9 -46.4 L358.7 -48.0 L359.6 -49.6" stroke="#fff" stroke-opacity="0.85" stroke-width="0.9"/><path d="M312.0 57.6 L311.4 55.9 L310.8 54.2 L310.1 52.5 L309.5 50.8 L308.9 49.1 L308.3 47.4 L307.7 45.8 L307.0 44.1 L306.4 42.4 L305.8 40.7 L305.1 39.0 L304.5 37.3 L303.9 35.6 L303.2 34.0 L302.6 32.3 L301.9 30.6 L301.3 28.9 L300.6 27.3 L299.9 25.6 L299.3 23.9 L298.6 22.2 L297.9 20.6 L297.3 18.9 L296.6 17.2 L295.9 15.6 L295.2 13.9 L294.5 12.2 L293.8 10.6 L293.1 8.9 L292.4 7.3 L291.7 5.6 L291.0 4.0 L290.3 2.3 L289.6 0.6 L288.9 -1.0 L288.1 -2.6 L287.4 -4.3 L286.7 -5.9 L285.9 -7.6 L285.2 -9.2 L284.5 -10.9 L283.7 -12.5 L283.0 -14.1 L282.2 -15.8 L281.4 -17.4 L280.7 -19.0 L279.9 -20.7 L279.1 -22.3 L278.4 -23.9 L277.6 -25.5 L276.8 -27.1 L276.0 -28.8 L275.2 -30.4 L274.4 -32.0 L273.6 -33.6 L272.8 -35.2 L272.0 -36.8 L271.2 -38.4 L270.4 -40.0 L269.6 -41.6 L268.8 -43.3 L267.9 -44.9 L267.1 -46.4 L266.3 -48.0 L265.4 -49.6" stroke="#ee8a8a" stroke-opacity="0.5" stroke-width="2.2"/><path d="M312.0 57.6 L311.4 55.9 L310.8 54.2 L310.1 52.5 L309.5 50.8 L308.9 49.1 L308.3 47.4 L307.7 45.8 L307.0 44.1 L306.4 42.4 L305.8 40.7 L305.1 39.0 L304.5 37.3 L303.9 35.6 L303.2 34.0 L302.6 32.3 L301.9 30.6 L301.3 28.9 L300.6 27.3 L299.9 25.6 L299.3 23.9 L298.6 22.2 L297.9 20.6 L297.3 18.9 L296.6 17.2 L295.9 15.6 L295.2 13.9 L294.5 12.2 L293.8 10.6 L293.1 8.9 L292.4 7.3 L291.7 5.6 L291.0 4.0 L290.3 2.3 L289.6 0.6 L288.9 -1.0 L288.1 -2.6 L287.4 -4.3 L286.7 -5.9 L285.9 -7.6 L285.2 -9.2 L284.5 -10.9 L283.7 -12.5 L283.0 -14.1 L282.2 -15.8 L281.4 -17.4 L280.7 -19.0 L279.9 -20.7 L279.1 -22.3 L278.4 -23.9 L277.6 -25.5 L276.8 -27.1 L276.0 -28.8 L275.2 -30.4 L274.4 -32.0 L273.6 -33.6 L272.8 -35.2 L272.0 -36.8 L271.2 -38.4 L270.4 -40.0 L269.6 -41.6 L268.8 -43.3 L267.9 -44.9 L267.1 -46.4 L266.3 -48.0 L265.4 -49.6" stroke="#fff" stroke-opacity="0.85" stroke-width="0.9"/><path d="M313.5 57.9 L314.6 56.5 L315.8 55.1 L316.9 53.7 L318.1 52.3 L319.3 51.0 L320.4 49.6 L321.6 48.2 L322.8 46.9 L324.0 45.5 L325.1 44.2 L326.3 42.8 L327.5 41.4 L328.7 40.1 L329.9 38.8 L331.1 37.4 L332.3 36.1 L333.6 34.8 L334.8 33.5 L336.0 32.1 L337.2 30.8 L338.5 29.5 L339.7 28.2 L341.0 26.9 L342.3 25.7 L343.5 24.4 L344.8 23.1 L346.1 21.8 L347.4 20.6 L348.7 19.3 L350.0 18.1 L351.3 16.9 L352.6 15.6 L353.9 14.4 L355.2 13.2 L356.5 12.0 L357.9 10.8 L359.2 9.6 L360.6 8.4 L361.9 7.2 L363.3 6.0 L364.7 4.9 L366.1 3.7 L367.4 2.5 L368.8 1.4 L370.2 0.3 L371.6 -0.9 L373.0 -2.0 L374.4 -3.1 L375.9 -4.2 L377.3 -5.3 L378.7 -6.4 L380.2 -7.5 L381.6 -8.6 L383.1 -9.6 L384.5 -10.7 L386.0 -11.7 L387.4 -12.8 L388.9 -13.8 L390.4 -14.8 L391.9 -15.8 L393.4 -16.9 L394.9 -17.9 L396.4 -18.8 L397.9 -19.8 L399.4 -20.8 L400.9 -21.8 L402.4 -22.7 L404.0 -23.7 L405.5 -24.6 L407.0 -25.5 L408.6 -26.5 L410.1 -27.4 L411.7 -28.3 L413.3 -29.2 L414.8 -30.1 L416.4 -30.9 L418.0 -31.8 L419.6 -32.7 L421.1 -33.5 L422.7 -34.4 L424.3 -35.2 L425.9 -36.0 L427.5 -36.8 L429.1 -37.6 L430.8 -38.4 L432.4 -39.2 L434.0 -40.0 L435.6 -40.8 L437.3 -41.5 L438.9 -42.3 L440.5 -43.0 L442.2 -43.7 L443.8 -44.5 L445.5 -45.2 L447.1 -45.9 L448.8 -46.6 L450.5 -47.3 L452.1 -47.9 L453.8 -48.6 L455.5 -49.2 L457.2 -49.9" stroke="#ee8a8a" stroke-opacity="0.5" stroke-width="2.2"/><path d="M313.5 57.9 L314.6 56.5 L315.8 55.1 L316.9 53.7 L318.1 52.3 L319.3 51.0 L320.4 49.6 L321.6 48.2 L322.8 46.9 L324.0 45.5 L325.1 44.2 L326.3 42.8 L327.5 41.4 L328.7 40.1 L329.9 38.8 L331.1 37.4 L332.3 36.1 L333.6 34.8 L334.8 33.5 L336.0 32.1 L337.2 30.8 L338.5 29.5 L339.7 28.2 L341.0 26.9 L342.3 25.7 L343.5 24.4 L344.8 23.1 L346.1 21.8 L347.4 20.6 L348.7 19.3 L350.0 18.1 L351.3 16.9 L352.6 15.6 L353.9 14.4 L355.2 13.2 L356.5 12.0 L357.9 10.8 L359.2 9.6 L360.6 8.4 L361.9 7.2 L363.3 6.0 L364.7 4.9 L366.1 3.7 L367.4 2.5 L368.8 1.4 L370.2 0.3 L371.6 -0.9 L373.0 -2.0 L374.4 -3.1 L375.9 -4.2 L377.3 -5.3 L378.7 -6.4 L380.2 -7.5 L381.6 -8.6 L383.1 -9.6 L384.5 -10.7 L386.0 -11.7 L387.4 -12.8 L388.9 -13.8 L390.4 -14.8 L391.9 -15.8 L393.4 -16.9 L394.9 -17.9 L396.4 -18.8 L397.9 -19.8 L399.4 -20.8 L400.9 -21.8 L402.4 -22.7 L404.0 -23.7 L405.5 -24.6 L407.0 -25.5 L408.6 -26.5 L410.1 -27.4 L411.7 -28.3 L413.3 -29.2 L414.8 -30.1 L416.4 -30.9 L418.0 -31.8 L419.6 -32.7 L421.1 -33.5 L422.7 -34.4 L424.3 -35.2 L425.9 -36.0 L427.5 -36.8 L429.1 -37.6 L430.8 -38.4 L432.4 -39.2 L434.0 -40.0 L435.6 -40.8 L437.3 -41.5 L438.9 -42.3 L440.5 -43.0 L442.2 -43.7 L443.8 -44.5 L445.5 -45.2 L447.1 -45.9 L448.8 -46.6 L450.5 -47.3 L452.1 -47.9 L453.8 -48.6 L455.5 -49.2 L457.2 -49.9" stroke="#fff" stroke-opacity="0.85" stroke-width="0.9"/><path d="M311.5 57.9 L310.4 56.5 L309.2 55.1 L308.1 53.7 L306.9 52.3 L305.7 51.0 L304.6 49.6 L303.4 48.2 L302.2 46.9 L301.0 45.5 L299.9 44.2 L298.7 42.8 L297.5 41.4 L296.3 40.1 L295.1 38.8 L293.9 37.4 L292.7 36.1 L291.4 34.8 L290.2 33.5 L289.0 32.1 L287.8 30.8 L286.5 29.5 L285.3 28.2 L284.0 26.9 L282.7 25.7 L281.5 24.4 L280.2 23.1 L278.9 21.8 L277.6 20.6 L276.3 19.3 L275.0 18.1 L273.7 16.9 L272.4 15.6 L271.1 14.4 L269.8 13.2 L268.5 12.0 L267.1 10.8 L265.8 9.6 L264.4 8.4 L263.1 7.2 L261.7 6.0 L260.3 4.9 L258.9 3.7 L257.6 2.5 L256.2 1.4 L254.8 0.3 L253.4 -0.9 L252.0 -2.0 L250.6 -3.1 L249.1 -4.2 L247.7 -5.3 L246.3 -6.4 L244.8 -7.5 L243.4 -8.6 L241.9 -9.6 L240.5 -10.7 L239.0 -11.7 L237.6 -12.8 L236.1 -13.8 L234.6 -14.8 L233.1 -15.8 L231.6 -16.9 L230.1 -17.9 L228.6 -18.8 L227.1 -19.8 L225.6 -20.8 L224.1 -21.8 L222.6 -22.7 L221.0 -23.7 L219.5 -24.6 L218.0 -25.5 L216.4 -26.5 L214.9 -27.4 L213.3 -28.3 L211.7 -29.2 L210.2 -30.1 L208.6 -30.9 L207.0 -31.8 L205.4 -32.7 L203.9 -33.5 L202.3 -34.4 L200.7 -35.2 L199.1 -36.0 L197.5 -36.8 L195.9 -37.6 L194.2 -38.4 L192.6 -39.2 L191.0 -40.0 L189.4 -40.8 L187.7 -41.5 L186.1 -42.3 L184.5 -43.0 L182.8 -43.7 L181.2 -44.5 L179.5 -45.2 L177.9 -45.9 L176.2 -46.6 L174.5 -47.3 L172.9 -47.9 L171.2 -48.6 L169.5 -49.2 L167.8 -49.9" stroke="#ee8a8a" stroke-opacity="0.5" stroke-width="2.2"/><path d="M311.5 57.9 L310.4 56.5 L309.2 55.1 L308.1 53.7 L306.9 52.3 L305.7 51.0 L304.6 49.6 L303.4 48.2 L302.2 46.9 L301.0 45.5 L299.9 44.2 L298.7 42.8 L297.5 41.4 L296.3 40.1 L295.1 38.8 L293.9 37.4 L292.7 36.1 L291.4 34.8 L290.2 33.5 L289.0 32.1 L287.8 30.8 L286.5 29.5 L285.3 28.2 L284.0 26.9 L282.7 25.7 L281.5 24.4 L280.2 23.1 L278.9 21.8 L277.6 20.6 L276.3 19.3 L275.0 18.1 L273.7 16.9 L272.4 15.6 L271.1 14.4 L269.8 13.2 L268.5 12.0 L267.1 10.8 L265.8 9.6 L264.4 8.4 L263.1 7.2 L261.7 6.0 L260.3 4.9 L258.9 3.7 L257.6 2.5 L256.2 1.4 L254.8 0.3 L253.4 -0.9 L252.0 -2.0 L250.6 -3.1 L249.1 -4.2 L247.7 -5.3 L246.3 -6.4 L244.8 -7.5 L243.4 -8.6 L241.9 -9.6 L240.5 -10.7 L239.0 -11.7 L237.6 -12.8 L236.1 -13.8 L234.6 -14.8 L233.1 -15.8 L231.6 -16.9 L230.1 -17.9 L228.6 -18.8 L227.1 -19.8 L225.6 -20.8 L224.1 -21.8 L222.6 -22.7 L221.0 -23.7 L219.5 -24.6 L218.0 -25.5 L216.4 -26.5 L214.9 -27.4 L213.3 -28.3 L211.7 -29.2 L210.2 -30.1 L208.6 -30.9 L207.0 -31.8 L205.4 -32.7 L203.9 -33.5 L202.3 -34.4 L200.7 -35.2 L199.1 -36.0 L197.5 -36.8 L195.9 -37.6 L194.2 -38.4 L192.6 -39.2 L191.0 -40.0 L189.4 -40.8 L187.7 -41.5 L186.1 -42.3 L184.5 -43.0 L182.8 -43.7 L181.2 -44.5 L179.5 -45.2 L177.9 -45.9 L176.2 -46.6 L174.5 -47.3 L172.9 -47.9 L171.2 -48.6 L169.5 -49.2 L167.8 -49.9" stroke="#fff" stroke-opacity="0.85" stroke-width="0.9"/><path d="M313.8 58.2 L315.3 57.3 L316.8 56.3 L318.4 55.4 L319.9 54.4 L321.4 53.5 L323.0 52.5 L324.5 51.6 L326.0 50.7 L327.6 49.7 L329.1 48.8 L330.7 47.9 L332.3 47.0 L333.8 46.1 L335.4 45.3 L337.0 44.4 L338.6 43.5 L340.1 42.7 L341.7 41.9 L343.3 41.0 L344.9 40.2 L346.5 39.4 L348.2 38.6 L349.8 37.8 L351.4 37.1 L353.1 36.3 L354.7 35.6 L356.3 34.9 L358.0 34.2 L359.7 33.5 L361.3 32.8 L363.0 32.1 L364.7 31.5 L366.4 30.8 L368.0 30.2 L369.7 29.6 L371.4 29.0 L373.1 28.4 L374.9 27.9 L376.6 27.3 L378.3 26.8 L380.0 26.3 L381.8 25.8 L383.5 25.3 L385.2 24.9 L387.0 24.4 L388.7 24.0 L390.5 23.6 L392.2 23.2 L394.0 22.9 L395.8 22.5 L397.5 22.2 L399.3 21.9 L401.1 21.6 L402.9 21.3 L404.6 21.0 L406.4 20.8 L408.2 20.6 L410.0 20.4 L411.8 20.2 L413.6 20.1 L415.4 19.9 L417.2 19.8 L419.0 19.7 L420.8 19.6 L422.6 19.6 L424.4 19.5 L426.2 19.5 L428.0 19.5 L429.8 19.6 L431.6 19.6 L433.4 19.7 L435.2 19.8 L437.0 19.9 L438.8 20.0 L440.6 20.2 L442.3 20.4 L444.1 20.6 L445.9 20.8 L447.7 21.0 L449.5 21.3 L451.3 21.6 L453.0 21.9 L454.8 22.3 L456.6 22.6 L458.3 23.0 L460.1 23.4 L461.8 23.9 L463.6 24.3 L465.3 24.8 L467.0 25.3 L468.7 25.8 L470.5 26.4 L472.2 27.0" stroke="#ee8a8a" stroke-opacity="0.5" stroke-width="2.2"/><path d="M313.8 58.2 L315.3 57.3 L316.8 56.3 L318.4 55.4 L319.9 54.4 L321.4 53.5 L323.0 52.5 L324.5 51.6 L326.0 50.7 L327.6 49.7 L329.1 48.8 L330.7 47.9 L332.3 47.0 L333.8 46.1 L335.4 45.3 L337.0 44.4 L338.6 43.5 L340.1 42.7 L341.7 41.9 L343.3 41.0 L344.9 40.2 L346.5 39.4 L348.2 38.6 L349.8 37.8 L351.4 37.1 L353.1 36.3 L354.7 35.6 L356.3 34.9 L358.0 34.2 L359.7 33.5 L361.3 32.8 L363.0 32.1 L364.7 31.5 L366.4 30.8 L368.0 30.2 L369.7 29.6 L371.4 29.0 L373.1 28.4 L374.9 27.9 L376.6 27.3 L378.3 26.8 L380.0 26.3 L381.8 25.8 L383.5 25.3 L385.2 24.9 L387.0 24.4 L388.7 24.0 L390.5 23.6 L392.2 23.2 L394.0 22.9 L395.8 22.5 L397.5 22.2 L399.3 21.9 L401.1 21.6 L402.9 21.3 L404.6 21.0 L406.4 20.8 L408.2 20.6 L410.0 20.4 L411.8 20.2 L413.6 20.1 L415.4 19.9 L417.2 19.8 L419.0 19.7 L420.8 19.6 L422.6 19.6 L424.4 19.5 L426.2 19.5 L428.0 19.5 L429.8 19.6 L431.6 19.6 L433.4 19.7 L435.2 19.8 L437.0 19.9 L438.8 20.0 L440.6 20.2 L442.3 20.4 L444.1 20.6 L445.9 20.8 L447.7 21.0 L449.5 21.3 L451.3 21.6 L453.0 21.9 L454.8 22.3 L456.6 22.6 L458.3 23.0 L460.1 23.4 L461.8 23.9 L463.6 24.3 L465.3 24.8 L467.0 25.3 L468.7 25.8 L470.5 26.4 L472.2 27.0" stroke="#fff" stroke-opacity="0.85" stroke-width="0.9"/><path d="M311.2 58.2 L309.7 57.3 L308.2 56.3 L306.6 55.4 L305.1 54.4 L303.6 53.5 L302.0 52.5 L300.5 51.6 L299.0 50.7 L297.4 49.7 L295.9 48.8 L294.3 47.9 L292.7 47.0 L291.2 46.1 L289.6 45.3 L288.0 44.4 L286.4 43.5 L284.9 42.7 L283.3 41.9 L281.7 41.0 L280.1 40.2 L278.5 39.4 L276.8 38.6 L275.2 37.8 L273.6 37.1 L271.9 36.3 L270.3 35.6 L268.7 34.9 L267.0 34.2 L265.3 33.5 L263.7 32.8 L262.0 32.1 L260.3 31.5 L258.6 30.8 L257.0 30.2 L255.3 29.6 L253.6 29.0 L251.9 28.4 L250.1 27.9 L248.4 27.3 L246.7 26.8 L245.0 26.3 L243.2 25.8 L241.5 25.3 L239.8 24.9 L238.0 24.4 L236.3 24.0 L234.5 23.6 L232.8 23.2 L231.0 22.9 L229.2 22.5 L227.5 22.2 L225.7 21.9 L223.9 21.6 L222.1 21.3 L220.4 21.0 L218.6 20.8 L216.8 20.6 L215.0 20.4 L213.2 20.2 L211.4 20.1 L209.6 19.9 L207.8 19.8 L206.0 19.7 L204.2 19.6 L202.4 19.6 L200.6 19.5 L198.8 19.5 L197.0 19.5 L195.2 19.6 L193.4 19.6 L191.6 19.7 L189.8 19.8 L188.0 19.9 L186.2 20.0 L184.4 20.2 L182.7 20.4 L180.9 20.6 L179.1 20.8 L177.3 21.0 L175.5 21.3 L173.7 21.6 L172.0 21.9 L170.2 22.3 L168.4 22.6 L166.7 23.0 L164.9 23.4 L163.2 23.9 L161.4 24.3 L159.7 24.8 L158.0 25.3 L156.3 25.8 L154.5 26.4 L152.8 27.0 L151.1 27.6 L149.5 28.2 L147.8 28.8 L146.1 29.5 L144.4 30.2 L142.8 30.9 L141.2 31.7 L139.5 32.5 L137.9 33.2 L136.3 34.1 L134.7 34.9 L133.2 35.8 L131.6 36.7 L130.1 37.6 L128.5 38.6 L127.0 39.5 L125.5 40.5 L124.0 41.5 L122.6 42.6 L121.1 43.7 L119.7 44.7 L118.3 45.9 L116.9 47.0 L115.5 48.2 L114.2 49.4 L112.8 50.6 L111.5 51.8 L110.2 53.1 L109.0 54.4 L107.7 55.7 L106.5 57.0 L105.3 58.3 L104.2 59.7 L103.0 61.1 L101.9 62.5 L100.8 64.0 L99.8 65.4 L98.8 66.9 L97.8 68.4 L96.8 69.9 L95.9 71.5 L95.0 73.0 L94.1 74.6 L93.2 76.2 L92.4 77.8 L91.7 79.4 L90.9 81.1 L90.2 82.7 L89.6 84.4 L88.9 86.1 L88.3 87.8 L87.8 89.5 L87.2 91.2 L86.8 92.9 L86.3 94.7 L85.9 96.4 L85.5 98.2 L85.2 100.0 L84.9 101.7 L84.7 103.5 L84.5 105.3 L84.3 107.1 L84.1 108.9 L84.1 110.7 L84.0 112.5 L84.0 114.3 L84.0 116.1 L84.1 117.9 L84.2 119.7 L84.3 121.5 L84.5 123.3 L84.8 125.1 L85.0 126.8 L85.3 128.6 L85.7 130.4 L86.1 132.1 L86.5 133.9 L86.9 135.6 L87.4 137.4 L88.0 139.1 L88.6 140.8 L89.2 142.5 L89.8 144.2 L90.5 145.8 L91.2 147.5 L92.0 149.1 L92.8 150.7 L93.6 152.3 L94.4 153.9 L95.3 155.5 L96.2 157.0 L97.2 158.6 L98.2 160.1 L99.2 161.6 L100.2 163.0 L101.3 164.5 L102.4 165.9 L103.5 167.3 L104.6 168.7 L105.8 170.1 L107.0 171.4 L108.2 172.7 L109.5 174.0 L110.7 175.3 L112.0 176.6 L113.4 177.8 L114.7 179.0 L116.1 180.2 L117.4 181.3 L118.8 182.5 L120.3 183.6 L121.7 184.6 L123.2 185.7 L124.6 186.7 L126.1 187.7 L127.6 188.7 L129.2 189.7 L130.7 190.6 L132.2 191.5 L133.8 192.4 L135.4 193.3 L137.0 194.1 L138.6 194.9 L140.2 195.7 L141.8 196.5 L143.5 197.2 L145.1 197.9 L146.8 198.6 L148.5 199.2 L150.2 199.9 L151.9 200.5 L153.6 201.1 L155.3 201.7 L157.0 202.2 L158.7 202.7 L160.4 203.2 L162.2 203.7 L163.9 204.1 L165.7 204.5 L167.4 204.9 L169.2 205.3 L171.0 205.7 L172.7 206.0 L174.5 206.3 L176.3 206.6 L178.1 206.8 L179.8 207.1 L181.6 207.3 L183.4 207.5 L185.2 207.6 L187.0 207.8 L188.8 207.9 L190.6 208.0 L192.4 208.1 L194.2 208.1 L196.0 208.2 L197.8 208.2 L199.6 208.2 L201.4 208.2 L203.2 208.1 L205.0 208.1 L206.8 208.0 L208.6 207.9 L210.4 207.7 L212.2 207.6 L214.0 207.4 L215.8 207.2 L217.5 207.0 L219.3 206.8 L221.1 206.5 L222.9 206.3 L224.7 206.0 L226.4 205.7 L228.2 205.3 L230.0 205.0 L231.7 204.6 L233.5 204.3 L235.3 203.9 L237.0 203.4 L238.8 203.0 L240.5 202.6 L242.2 202.1 L244.0 201.6 L245.7 201.1 L247.4 200.6 L249.1 200.0 L250.9 199.5 L252.6 198.9 L254.3 198.3 L256.0 197.7 L257.6 197.1 L259.3 196.5 L261.0 195.8 L262.7 195.1 L264.3 194.5 L266.0 193.8 L267.7 193.1 L269.3 192.3 L271.0 191.6 L272.6 190.9 L274.2 190.1 L275.8 189.3 L277.5 188.5 L279.1 187.7 L280.7 186.9 L282.3 186.1 L283.9 185.2 L285.4 184.4 L287.0 183.5 L288.6 182.6 L290.2 181.8 L291.7 180.9 L293.3 180.0 L294.8 179.0 L296.4 178.1 L297.9 177.2 L299.5 176.3 L301.0 175.3 L302.5 174.4 L304.1 173.4 L305.6 172.4 L307.1 171.5 L308.6 170.5 L310.1 169.5" stroke="#ee8a8a" stroke-opacity="0.5" stroke-width="2.2"/><path d="M311.2 58.2 L309.7 57.3 L308.2 56.3 L306.6 55.4 L305.1 54.4 L303.6 53.5 L302.0 52.5 L300.5 51.6 L299.0 50.7 L297.4 49.7 L295.9 48.8 L294.3 47.9 L292.7 47.0 L291.2 46.1 L289.6 45.3 L288.0 44.4 L286.4 43.5 L284.9 42.7 L283.3 41.9 L281.7 41.0 L280.1 40.2 L278.5 39.4 L276.8 38.6 L275.2 37.8 L273.6 37.1 L271.9 36.3 L270.3 35.6 L268.7 34.9 L267.0 34.2 L265.3 33.5 L263.7 32.8 L262.0 32.1 L260.3 31.5 L258.6 30.8 L257.0 30.2 L255.3 29.6 L253.6 29.0 L251.9 28.4 L250.1 27.9 L248.4 27.3 L246.7 26.8 L245.0 26.3 L243.2 25.8 L241.5 25.3 L239.8 24.9 L238.0 24.4 L236.3 24.0 L234.5 23.6 L232.8 23.2 L231.0 22.9 L229.2 22.5 L227.5 22.2 L225.7 21.9 L223.9 21.6 L222.1 21.3 L220.4 21.0 L218.6 20.8 L216.8 20.6 L215.0 20.4 L213.2 20.2 L211.4 20.1 L209.6 19.9 L207.8 19.8 L206.0 19.7 L204.2 19.6 L202.4 19.6 L200.6 19.5 L198.8 19.5 L197.0 19.5 L195.2 19.6 L193.4 19.6 L191.6 19.7 L189.8 19.8 L188.0 19.9 L186.2 20.0 L184.4 20.2 L182.7 20.4 L180.9 20.6 L179.1 20.8 L177.3 21.0 L175.5 21.3 L173.7 21.6 L172.0 21.9 L170.2 22.3 L168.4 22.6 L166.7 23.0 L164.9 23.4 L163.2 23.9 L161.4 24.3 L159.7 24.8 L158.0 25.3 L156.3 25.8 L154.5 26.4 L152.8 27.0 L151.1 27.6 L149.5 28.2 L147.8 28.8 L146.1 29.5 L144.4 30.2 L142.8 30.9 L141.2 31.7 L139.5 32.5 L137.9 33.2 L136.3 34.1 L134.7 34.9 L133.2 35.8 L131.6 36.7 L130.1 37.6 L128.5 38.6 L127.0 39.5 L125.5 40.5 L124.0 41.5 L122.6 42.6 L121.1 43.7 L119.7 44.7 L118.3 45.9 L116.9 47.0 L115.5 48.2 L114.2 49.4 L112.8 50.6 L111.5 51.8 L110.2 53.1 L109.0 54.4 L107.7 55.7 L106.5 57.0 L105.3 58.3 L104.2 59.7 L103.0 61.1 L101.9 62.5 L100.8 64.0 L99.8 65.4 L98.8 66.9 L97.8 68.4 L96.8 69.9 L95.9 71.5 L95.0 73.0 L94.1 74.6 L93.2 76.2 L92.4 77.8 L91.7 79.4 L90.9 81.1 L90.2 82.7 L89.6 84.4 L88.9 86.1 L88.3 87.8 L87.8 89.5 L87.2 91.2 L86.8 92.9 L86.3 94.7 L85.9 96.4 L85.5 98.2 L85.2 100.0 L84.9 101.7 L84.7 103.5 L84.5 105.3 L84.3 107.1 L84.1 108.9 L84.1 110.7 L84.0 112.5 L84.0 114.3 L84.0 116.1 L84.1 117.9 L84.2 119.7 L84.3 121.5 L84.5 123.3 L84.8 125.1 L85.0 126.8 L85.3 128.6 L85.7 130.4 L86.1 132.1 L86.5 133.9 L86.9 135.6 L87.4 137.4 L88.0 139.1 L88.6 140.8 L89.2 142.5 L89.8 144.2 L90.5 145.8 L91.2 147.5 L92.0 149.1 L92.8 150.7 L93.6 152.3 L94.4 153.9 L95.3 155.5 L96.2 157.0 L97.2 158.6 L98.2 160.1 L99.2 161.6 L100.2 163.0 L101.3 164.5 L102.4 165.9 L103.5 167.3 L104.6 168.7 L105.8 170.1 L107.0 171.4 L108.2 172.7 L109.5 174.0 L110.7 175.3 L112.0 176.6 L113.4 177.8 L114.7 179.0 L116.1 180.2 L117.4 181.3 L118.8 182.5 L120.3 183.6 L121.7 184.6 L123.2 185.7 L124.6 186.7 L126.1 187.7 L127.6 188.7 L129.2 189.7 L130.7 190.6 L132.2 191.5 L133.8 192.4 L135.4 193.3 L137.0 194.1 L138.6 194.9 L140.2 195.7 L141.8 196.5 L143.5 197.2 L145.1 197.9 L146.8 198.6 L148.5 199.2 L150.2 199.9 L151.9 200.5 L153.6 201.1 L155.3 201.7 L157.0 202.2 L158.7 202.7 L160.4 203.2 L162.2 203.7 L163.9 204.1 L165.7 204.5 L167.4 204.9 L169.2 205.3 L171.0 205.7 L172.7 206.0 L174.5 206.3 L176.3 206.6 L178.1 206.8 L179.8 207.1 L181.6 207.3 L183.4 207.5 L185.2 207.6 L187.0 207.8 L188.8 207.9 L190.6 208.0 L192.4 208.1 L194.2 208.1 L196.0 208.2 L197.8 208.2 L199.6 208.2 L201.4 208.2 L203.2 208.1 L205.0 208.1 L206.8 208.0 L208.6 207.9 L210.4 207.7 L212.2 207.6 L214.0 207.4 L215.8 207.2 L217.5 207.0 L219.3 206.8 L221.1 206.5 L222.9 206.3 L224.7 206.0 L226.4 205.7 L228.2 205.3 L230.0 205.0 L231.7 204.6 L233.5 204.3 L235.3 203.9 L237.0 203.4 L238.8 203.0 L240.5 202.6 L242.2 202.1 L244.0 201.6 L245.7 201.1 L247.4 200.6 L249.1 200.0 L250.9 199.5 L252.6 198.9 L254.3 198.3 L256.0 197.7 L257.6 197.1 L259.3 196.5 L261.0 195.8 L262.7 195.1 L264.3 194.5 L266.0 193.8 L267.7 193.1 L269.3 192.3 L271.0 191.6 L272.6 190.9 L274.2 190.1 L275.8 189.3 L277.5 188.5 L279.1 187.7 L280.7 186.9 L282.3 186.1 L283.9 185.2 L285.4 184.4 L287.0 183.5 L288.6 182.6 L290.2 181.8 L291.7 180.9 L293.3 180.0 L294.8 179.0 L296.4 178.1 L297.9 177.2 L299.5 176.3 L301.0 175.3 L302.5 174.4 L304.1 173.4 L305.6 172.4 L307.1 171.5 L308.6 170.5 L310.1 169.5" stroke="#fff" stroke-opacity="0.85" stroke-width="0.9"/><path d="M313.9 58.6 L315.7 58.1 L317.4 57.6 L319.1 57.1 L320.9 56.6 L322.6 56.1 L324.3 55.7 L326.1 55.2 L327.8 54.7 L329.6 54.3 L331.3 53.9 L333.1 53.4 L334.8 53.0 L336.6 52.6 L338.3 52.2 L340.1 51.9 L341.8 51.5 L343.6 51.2 L345.4 50.8 L347.2 50.5 L348.9 50.2 L350.7 50.0 L352.5 49.7 L354.3 49.5 L356.1 49.3 L357.9 49.1 L359.7 48.9 L361.4 48.8 L363.2 48.7 L365.0 48.6 L366.8 48.5 L368.6 48.4 L370.4 48.4 L372.2 48.4 L374.0 48.4 L375.8 48.5 L377.6 48.6 L379.4 48.7 L381.2 48.8 L383.0 49.0 L384.8 49.2 L386.6 49.4 L388.4 49.6 L390.2 49.9 L391.9 50.2 L393.7 50.5 L395.5 50.9 L397.2 51.3 L399.0 51.7 L400.7 52.2 L402.4 52.7 L404.2 53.2 L405.9 53.8 L407.6 54.4 L409.3 55.0 L410.9 55.7 L412.6 56.4 L414.2 57.1 L415.9 57.8 L417.5 58.6 L419.1 59.5 L420.7 60.3 L422.2 61.2 L423.8 62.2 L425.3 63.1 L426.8 64.1 L428.2 65.2 L429.7 66.3 L431.1 67.4 L432.5 68.5 L433.8 69.7 L435.2 70.9 L436.5 72.1 L437.7 73.4 L439.0 74.7 L440.2 76.1 L441.3 77.5 L442.4 78.9 L443.5 80.3 L444.6 81.8 L445.6 83.3 L446.5 84.8 L447.4 86.4 L448.3 87.9 L449.1 89.6 L449.8 91.2 L450.6 92.8 L451.2 94.5 L451.8 96.2 L452.4 97.9 L452.9 99.7 L453.3 101.4 L453.7 103.2 L454.0 104.9 L454.3 106.7 L454.5 108.5 L454.7 110.3 L454.7 112.1 L454.8 113.9 L454.7 115.7 L454.7 117.5 L454.5 119.3 L454.3 121.1 L454.0 122.8 L453.7 124.6 L453.3 126.4 L452.9 128.1 L452.4 129.9 L451.9 131.6 L451.3 133.3 L450.6 134.9 L449.9 136.6 L449.1 138.2 L448.3 139.8 L447.5 141.4 L446.6 143.0 L445.6 144.5 L444.6 146.0 L443.6 147.5 L442.5 148.9 L441.4 150.3 L440.2 151.7 L439.0 153.0 L437.8 154.4 L436.5 155.6 L435.2 156.9 L433.9 158.1 L432.6 159.3 L431.2 160.4 L429.7 161.5 L428.3 162.6 L426.8 163.6 L425.3 164.6 L423.8 165.6 L422.3 166.5 L420.7 167.4 L419.1 168.3 L417.5 169.1 L415.9 169.9 L414.3 170.7 L412.6 171.4 L411.0 172.1 L409.3 172.8 L407.6 173.4 L405.9 174.0 L404.2 174.5 L402.5 175.0 L400.7 175.5 L399.0 176.0 L397.3 176.4 L395.5 176.8 L393.7 177.2 L392.0 177.5 L390.2 177.8 L388.4 178.1 L386.6 178.3 L384.8 178.5 L383.1 178.7 L381.3 178.9 L379.5 179.0 L377.7 179.1 L375.9 179.2 L374.1 179.2 L372.3 179.2 L370.5 179.2 L368.7 179.2 L366.9 179.1 L365.1 179.0 L363.3 178.9 L361.5 178.8 L359.7 178.7 L357.9 178.5 L356.1 178.3 L354.3 178.1 L352.5 177.8 L350.8 177.5 L349.0 177.3 L347.2 177.0 L345.4 176.6 L343.7 176.3 L341.9 175.9 L340.1 175.6 L338.4 175.2 L336.6 174.8 L334.9 174.4 L333.1 173.9 L331.4 173.5 L329.7 173.0 L327.9 172.6 L326.2 172.1 L324.4 171.6 L322.7 171.1 L321.0 170.6 L319.3 170.1 L317.5 169.5 L315.8 169.0 L314.1 168.5" stroke="#ee8a8a" stroke-opacity="0.5" stroke-width="2.2"/><path d="M313.9 58.6 L315.7 58.1 L317.4 57.6 L319.1 57.1 L320.9 56.6 L322.6 56.1 L324.3 55.7 L326.1 55.2 L327.8 54.7 L329.6 54.3 L331.3 53.9 L333.1 53.4 L334.8 53.0 L336.6 52.6 L338.3 52.2 L340.1 51.9 L341.8 51.5 L343.6 51.2 L345.4 50.8 L347.2 50.5 L348.9 50.2 L350.7 50.0 L352.5 49.7 L354.3 49.5 L356.1 49.3 L357.9 49.1 L359.7 48.9 L361.4 48.8 L363.2 48.7 L365.0 48.6 L366.8 48.5 L368.6 48.4 L370.4 48.4 L372.2 48.4 L374.0 48.4 L375.8 48.5 L377.6 48.6 L379.4 48.7 L381.2 48.8 L383.0 49.0 L384.8 49.2 L386.6 49.4 L388.4 49.6 L390.2 49.9 L391.9 50.2 L393.7 50.5 L395.5 50.9 L397.2 51.3 L399.0 51.7 L400.7 52.2 L402.4 52.7 L404.2 53.2 L405.9 53.8 L407.6 54.4 L409.3 55.0 L410.9 55.7 L412.6 56.4 L414.2 57.1 L415.9 57.8 L417.5 58.6 L419.1 59.5 L420.7 60.3 L422.2 61.2 L423.8 62.2 L425.3 63.1 L426.8 64.1 L428.2 65.2 L429.7 66.3 L431.1 67.4 L432.5 68.5 L433.8 69.7 L435.2 70.9 L436.5 72.1 L437.7 73.4 L439.0 74.7 L440.2 76.1 L441.3 77.5 L442.4 78.9 L443.5 80.3 L444.6 81.8 L445.6 83.3 L446.5 84.8 L447.4 86.4 L448.3 87.9 L449.1 89.6 L449.8 91.2 L450.6 92.8 L451.2 94.5 L451.8 96.2 L452.4 97.9 L452.9 99.7 L453.3 101.4 L453.7 103.2 L454.0 104.9 L454.3 106.7 L454.5 108.5 L454.7 110.3 L454.7 112.1 L454.8 113.9 L454.7 115.7 L454.7 117.5 L454.5 119.3 L454.3 121.1 L454.0 122.8 L453.7 124.6 L453.3 126.4 L452.9 128.1 L452.4 129.9 L451.9 131.6 L451.3 133.3 L450.6 134.9 L449.9 136.6 L449.1 138.2 L448.3 139.8 L447.5 141.4 L446.6 143.0 L445.6 144.5 L444.6 146.0 L443.6 147.5 L442.5 148.9 L441.4 150.3 L440.2 151.7 L439.0 153.0 L437.8 154.4 L436.5 155.6 L435.2 156.9 L433.9 158.1 L432.6 159.3 L431.2 160.4 L429.7 161.5 L428.3 162.6 L426.8 163.6 L425.3 164.6 L423.8 165.6 L422.3 166.5 L420.7 167.4 L419.1 168.3 L417.5 169.1 L415.9 169.9 L414.3 170.7 L412.6 171.4 L411.0 172.1 L409.3 172.8 L407.6 173.4 L405.9 174.0 L404.2 174.5 L402.5 175.0 L400.7 175.5 L399.0 176.0 L397.3 176.4 L395.5 176.8 L393.7 177.2 L392.0 177.5 L390.2 177.8 L388.4 178.1 L386.6 178.3 L384.8 178.5 L383.1 178.7 L381.3 178.9 L379.5 179.0 L377.7 179.1 L375.9 179.2 L374.1 179.2 L372.3 179.2 L370.5 179.2 L368.7 179.2 L366.9 179.1 L365.1 179.0 L363.3 178.9 L361.5 178.8 L359.7 178.7 L357.9 178.5 L356.1 178.3 L354.3 178.1 L352.5 177.8 L350.8 177.5 L349.0 177.3 L347.2 177.0 L345.4 176.6 L343.7 176.3 L341.9 175.9 L340.1 175.6 L338.4 175.2 L336.6 174.8 L334.9 174.4 L333.1 173.9 L331.4 173.5 L329.7 173.0 L327.9 172.6 L326.2 172.1 L324.4 171.6 L322.7 171.1 L321.0 170.6 L319.3 170.1 L317.5 169.5 L315.8 169.0 L314.1 168.5" stroke="#fff" stroke-opacity="0.85" stroke-width="0.9"/><path d="M311.1 58.6 L309.3 58.1 L307.6 57.6 L305.9 57.1 L304.1 56.6 L302.4 56.1 L300.7 55.7 L298.9 55.2 L297.2 54.7 L295.4 54.3 L293.7 53.9 L291.9 53.4 L290.2 53.0 L288.4 52.6 L286.7 52.2 L284.9 51.9 L283.2 51.5 L281.4 51.2 L279.6 50.8 L277.8 50.5 L276.1 50.2 L274.3 50.0 L272.5 49.7 L270.7 49.5 L268.9 49.3 L267.1 49.1 L265.3 48.9 L263.6 48.8 L261.8 48.7 L260.0 48.6 L258.2 48.5 L256.4 48.4 L254.6 48.4 L252.8 48.4 L251.0 48.4 L249.2 48.5 L247.4 48.6 L245.6 48.7 L243.8 48.8 L242.0 49.0 L240.2 49.2 L238.4 49.4 L236.6 49.6 L234.8 49.9 L233.1 50.2 L231.3 50.5 L229.5 50.9 L227.8 51.3 L226.0 51.7 L224.3 52.2 L222.6 52.7 L220.8 53.2 L219.1 53.8 L217.4 54.4 L215.7 55.0 L214.1 55.7 L212.4 56.4 L210.8 57.1 L209.1 57.8 L207.5 58.6 L205.9 59.5 L204.3 60.3 L202.8 61.2 L201.2 62.2 L199.7 63.1 L198.2 64.1 L196.8 65.2 L195.3 66.3 L193.9 67.4 L192.5 68.5 L191.2 69.7 L189.8 70.9 L188.5 72.1 L187.3 73.4 L186.0 74.7 L184.8 76.1 L183.7 77.5 L182.6 78.9 L181.5 80.3 L180.4 81.8 L179.4 83.3 L178.5 84.8 L177.6 86.4 L176.7 87.9 L175.9 89.6 L175.2 91.2 L174.4 92.8 L173.8 94.5 L173.2 96.2 L172.6 97.9 L172.1 99.7 L171.7 101.4 L171.3 103.2 L171.0 104.9 L170.7 106.7 L170.5 108.5 L170.3 110.3 L170.3 112.1 L170.2 113.9 L170.3 115.7 L170.3 117.5 L170.5 119.3 L170.7 121.1 L171.0 122.8 L171.3 124.6 L171.7 126.4 L172.1 128.1 L172.6 129.9 L173.1 131.6 L173.7 133.3 L174.4 134.9 L175.1 136.6 L175.9 138.2 L176.7 139.8 L177.5 141.4 L178.4 143.0 L179.4 144.5 L180.4 146.0 L181.4 147.5 L182.5 148.9 L183.6 150.3 L184.8 151.7 L186.0 153.0 L187.2 154.4 L188.5 155.6 L189.8 156.9 L191.1 158.1 L192.4 159.3 L193.8 160.4 L195.3 161.5 L196.7 162.6 L198.2 163.6 L199.7 164.6 L201.2 165.6 L202.7 166.5 L204.3 167.4 L205.9 168.3 L207.5 169.1 L209.1 169.9 L210.7 170.7 L212.4 171.4 L214.0 172.1 L215.7 172.8 L217.4 173.4 L219.1 174.0 L220.8 174.5 L222.5 175.0 L224.3 175.5 L226.0 176.0 L227.7 176.4 L229.5 176.8 L231.3 177.2 L233.0 177.5 L234.8 177.8 L236.6 178.1 L238.4 178.3 L240.2 178.5 L241.9 178.7 L243.7 178.9 L245.5 179.0 L247.3 179.1 L249.1 179.2 L250.9 179.2 L252.7 179.2 L254.5 179.2 L256.3 179.2 L258.1 179.1 L259.9 179.0 L261.7 178.9 L263.5 178.8 L265.3 178.7 L267.1 178.5 L268.9 178.3 L270.7 178.1 L272.5 177.8 L274.2 177.5 L276.0 177.3 L277.8 177.0 L279.6 176.6 L281.3 176.3 L283.1 175.9 L284.9 175.6 L286.6 175.2 L288.4 174.8 L290.1 174.4 L291.9 173.9 L293.6 173.5 L295.3 173.0 L297.1 172.6 L298.8 172.1 L300.6 171.6 L302.3 171.1 L304.0 170.6 L305.7 170.1 L307.5 169.5 L309.2 169.0 L310.9 168.5" stroke="#ee8a8a" stroke-opacity="0.5" stroke-width="2.2"/><path d="M311.1 58.6 L309.3 58.1 L307.6 57.6 L305.9 57.1 L304.1 56.6 L302.4 56.1 L300.7 55.7 L298.9 55.2 L297.2 54.7 L295.4 54.3 L293.7 53.9 L291.9 53.4 L290.2 53.0 L288.4 52.6 L286.7 52.2 L284.9 51.9 L283.2 51.5 L281.4 51.2 L279.6 50.8 L277.8 50.5 L276.1 50.2 L274.3 50.0 L272.5 49.7 L270.7 49.5 L268.9 49.3 L267.1 49.1 L265.3 48.9 L263.6 48.8 L261.8 48.7 L260.0 48.6 L258.2 48.5 L256.4 48.4 L254.6 48.4 L252.8 48.4 L251.0 48.4 L249.2 48.5 L247.4 48.6 L245.6 48.7 L243.8 48.8 L242.0 49.0 L240.2 49.2 L238.4 49.4 L236.6 49.6 L234.8 49.9 L233.1 50.2 L231.3 50.5 L229.5 50.9 L227.8 51.3 L226.0 51.7 L224.3 52.2 L222.6 52.7 L220.8 53.2 L219.1 53.8 L217.4 54.4 L215.7 55.0 L214.1 55.7 L212.4 56.4 L210.8 57.1 L209.1 57.8 L207.5 58.6 L205.9 59.5 L204.3 60.3 L202.8 61.2 L201.2 62.2 L199.7 63.1 L198.2 64.1 L196.8 65.2 L195.3 66.3 L193.9 67.4 L192.5 68.5 L191.2 69.7 L189.8 70.9 L188.5 72.1 L187.3 73.4 L186.0 74.7 L184.8 76.1 L183.7 77.5 L182.6 78.9 L181.5 80.3 L180.4 81.8 L179.4 83.3 L178.5 84.8 L177.6 86.4 L176.7 87.9 L175.9 89.6 L175.2 91.2 L174.4 92.8 L173.8 94.5 L173.2 96.2 L172.6 97.9 L172.1 99.7 L171.7 101.4 L171.3 103.2 L171.0 104.9 L170.7 106.7 L170.5 108.5 L170.3 110.3 L170.3 112.1 L170.2 113.9 L170.3 115.7 L170.3 117.5 L170.5 119.3 L170.7 121.1 L171.0 122.8 L171.3 124.6 L171.7 126.4 L172.1 128.1 L172.6 129.9 L173.1 131.6 L173.7 133.3 L174.4 134.9 L175.1 136.6 L175.9 138.2 L176.7 139.8 L177.5 141.4 L178.4 143.0 L179.4 144.5 L180.4 146.0 L181.4 147.5 L182.5 148.9 L183.6 150.3 L184.8 151.7 L186.0 153.0 L187.2 154.4 L188.5 155.6 L189.8 156.9 L191.1 158.1 L192.4 159.3 L193.8 160.4 L195.3 161.5 L196.7 162.6 L198.2 163.6 L199.7 164.6 L201.2 165.6 L202.7 166.5 L204.3 167.4 L205.9 168.3 L207.5 169.1 L209.1 169.9 L210.7 170.7 L212.4 171.4 L214.0 172.1 L215.7 172.8 L217.4 173.4 L219.1 174.0 L220.8 174.5 L222.5 175.0 L224.3 175.5 L226.0 176.0 L227.7 176.4 L229.5 176.8 L231.3 177.2 L233.0 177.5 L234.8 177.8 L236.6 178.1 L238.4 178.3 L240.2 178.5 L241.9 178.7 L243.7 178.9 L245.5 179.0 L247.3 179.1 L249.1 179.2 L250.9 179.2 L252.7 179.2 L254.5 179.2 L256.3 179.2 L258.1 179.1 L259.9 179.0 L261.7 178.9 L263.5 178.8 L265.3 178.7 L267.1 178.5 L268.9 178.3 L270.7 178.1 L272.5 177.8 L274.2 177.5 L276.0 177.3 L277.8 177.0 L279.6 176.6 L281.3 176.3 L283.1 175.9 L284.9 175.6 L286.6 175.2 L288.4 174.8 L290.1 174.4 L291.9 173.9 L293.6 173.5 L295.3 173.0 L297.1 172.6 L298.8 172.1 L300.6 171.6 L302.3 171.1 L304.0 170.6 L305.7 170.1 L307.5 169.5 L309.2 169.0 L310.9 168.5" stroke="#fff" stroke-opacity="0.85" stroke-width="0.9"/><path d="M314.0 59.0 L315.8 59.0 L317.6 59.0 L319.4 59.0 L321.2 59.0 L323.0 59.0 L324.8 59.1 L326.6 59.1 L328.4 59.1 L330.2 59.2 L332.0 59.3 L333.8 59.4 L335.6 59.5 L337.4 59.6 L339.2 59.7 L341.0 59.9 L342.8 60.0 L344.6 60.2 L346.3 60.4 L348.1 60.7 L349.9 61.0 L351.7 61.3 L353.5 61.6 L355.2 61.9 L357.0 62.3 L358.7 62.7 L360.5 63.1 L362.2 63.6 L363.9 64.1 L365.7 64.6 L367.4 65.2 L369.1 65.8 L370.8 66.5 L372.4 67.1 L374.1 67.8 L375.7 68.6 L377.3 69.4 L378.9 70.2 L380.5 71.1 L382.1 72.0 L383.6 72.9 L385.1 73.9 L386.6 74.9 L388.0 76.0 L389.4 77.1 L390.8 78.3 L392.2 79.5 L393.5 80.7 L394.7 82.0 L396.0 83.3 L397.2 84.7 L398.3 86.1 L399.4 87.5 L400.4 89.0 L401.4 90.5 L402.3 92.0 L403.2 93.6 L404.0 95.2 L404.7 96.8 L405.4 98.5 L406.0 100.2 L406.6 101.9 L407.0 103.7 L407.4 105.4 L407.7 107.2 L408.0 109.0 L408.2 110.8 L408.3 112.6 L408.3 114.4 L408.2 116.2 L408.1 117.9 L407.9 119.7 L407.6 121.5 L407.3 123.3 L406.8 125.0 L406.3 126.8 L405.7 128.5 L405.1 130.1 L404.4 131.8 L403.6 133.4 L402.8 135.0 L401.9 136.6 L400.9 138.1 L399.9 139.6 L398.9 141.1 L397.8 142.5 L396.6 143.8 L395.4 145.2 L394.1 146.5 L392.9 147.7 L391.5 148.9 L390.2 150.1 L388.8 151.2 L387.3 152.3 L385.9 153.4 L384.4 154.4 L382.8 155.3 L381.3 156.3 L379.7 157.1 L378.1 158.0 L376.5 158.8 L374.9 159.5 L373.2 160.3 L371.6 160.9 L369.9 161.6 L368.2 162.2 L366.5 162.8 L364.8 163.3 L363.0 163.8 L361.3 164.3 L359.6 164.7 L357.8 165.1 L356.1 165.5 L354.3 165.9 L352.5 166.2 L350.7 166.5 L349.0 166.7 L347.2 167.0 L345.4 167.2 L343.6 167.4 L341.8 167.5 L340.0 167.7 L338.2 167.8 L336.4 167.9 L334.6 168.0 L332.8 168.1 L331.0 168.1 L329.2 168.1 L327.4 168.2 L325.6 168.2 L323.8 168.2 L322.0 168.2 L320.2 168.1 L318.4 168.1 L316.6 168.1 L314.8 168.1" stroke="#ee8a8a" stroke-opacity="0.5" stroke-width="2.2"/><path d="M314.0 59.0 L315.8 59.0 L317.6 59.0 L319.4 59.0 L321.2 59.0 L323.0 59.0 L324.8 59.1 L326.6 59.1 L328.4 59.1 L330.2 59.2 L332.0 59.3 L333.8 59.4 L335.6 59.5 L337.4 59.6 L339.2 59.7 L341.0 59.9 L342.8 60.0 L344.6 60.2 L346.3 60.4 L348.1 60.7 L349.9 61.0 L351.7 61.3 L353.5 61.6 L355.2 61.9 L357.0 62.3 L358.7 62.7 L360.5 63.1 L362.2 63.6 L363.9 64.1 L365.7 64.6 L367.4 65.2 L369.1 65.8 L370.8 66.5 L372.4 67.1 L374.1 67.8 L375.7 68.6 L377.3 69.4 L378.9 70.2 L380.5 71.1 L382.1 72.0 L383.6 72.9 L385.1 73.9 L386.6 74.9 L388.0 76.0 L389.4 77.1 L390.8 78.3 L392.2 79.5 L393.5 80.7 L394.7 82.0 L396.0 83.3 L397.2 84.7 L398.3 86.1 L399.4 87.5 L400.4 89.0 L401.4 90.5 L402.3 92.0 L403.2 93.6 L404.0 95.2 L404.7 96.8 L405.4 98.5 L406.0 100.2 L406.6 101.9 L407.0 103.7 L407.4 105.4 L407.7 107.2 L408.0 109.0 L408.2 110.8 L408.3 112.6 L408.3 114.4 L408.2 116.2 L408.1 117.9 L407.9 119.7 L407.6 121.5 L407.3 123.3 L406.8 125.0 L406.3 126.8 L405.7 128.5 L405.1 130.1 L404.4 131.8 L403.6 133.4 L402.8 135.0 L401.9 136.6 L400.9 138.1 L399.9 139.6 L398.9 141.1 L397.8 142.5 L396.6 143.8 L395.4 145.2 L394.1 146.5 L392.9 147.7 L391.5 148.9 L390.2 150.1 L388.8 151.2 L387.3 152.3 L385.9 153.4 L384.4 154.4 L382.8 155.3 L381.3 156.3 L379.7 157.1 L378.1 158.0 L376.5 158.8 L374.9 159.5 L373.2 160.3 L371.6 160.9 L369.9 161.6 L368.2 162.2 L366.5 162.8 L364.8 163.3 L363.0 163.8 L361.3 164.3 L359.6 164.7 L357.8 165.1 L356.1 165.5 L354.3 165.9 L352.5 166.2 L350.7 166.5 L349.0 166.7 L347.2 167.0 L345.4 167.2 L343.6 167.4 L341.8 167.5 L340.0 167.7 L338.2 167.8 L336.4 167.9 L334.6 168.0 L332.8 168.1 L331.0 168.1 L329.2 168.1 L327.4 168.2 L325.6 168.2 L323.8 168.2 L322.0 168.2 L320.2 168.1 L318.4 168.1 L316.6 168.1 L314.8 168.1" stroke="#fff" stroke-opacity="0.85" stroke-width="0.9"/><path d="M311.0 59.0 L309.2 59.0 L307.4 59.0 L305.6 59.0 L303.8 59.0 L302.0 59.0 L300.2 59.1 L298.4 59.1 L296.6 59.1 L294.8 59.2 L293.0 59.3 L291.2 59.4 L289.4 59.5 L287.6 59.6 L285.8 59.7 L284.0 59.9 L282.2 60.0 L280.4 60.2 L278.7 60.4 L276.9 60.7 L275.1 61.0 L273.3 61.3 L271.5 61.6 L269.8 61.9 L268.0 62.3 L266.3 62.7 L264.5 63.1 L262.8 63.6 L261.1 64.1 L259.3 64.6 L257.6 65.2 L255.9 65.8 L254.2 66.5 L252.6 67.1 L250.9 67.8 L249.3 68.6 L247.7 69.4 L246.1 70.2 L244.5 71.1 L242.9 72.0 L241.4 72.9 L239.9 73.9 L238.4 74.9 L237.0 76.0 L235.6 77.1 L234.2 78.3 L232.8 79.5 L231.5 80.7 L230.3 82.0 L229.0 83.3 L227.8 84.7 L226.7 86.1 L225.6 87.5 L224.6 89.0 L223.6 90.5 L222.7 92.0 L221.8 93.6 L221.0 95.2 L220.3 96.8 L219.6 98.5 L219.0 100.2 L218.4 101.9 L218.0 103.7 L217.6 105.4 L217.3 107.2 L217.0 109.0 L216.8 110.8 L216.7 112.6 L216.7 114.4 L216.8 116.2 L216.9 117.9 L217.1 119.7 L217.4 121.5 L217.7 123.3 L218.2 125.0 L218.7 126.8 L219.3 128.5 L219.9 130.1 L220.6 131.8 L221.4 133.4 L222.2 135.0 L223.1 136.6 L224.1 138.1 L225.1 139.6 L226.1 141.1 L227.2 142.5 L228.4 143.8 L229.6 145.2 L230.9 146.5 L232.1 147.7 L233.5 148.9 L234.8 150.1 L236.2 151.2 L237.7 152.3 L239.1 153.4 L240.6 154.4 L242.2 155.3 L243.7 156.3 L245.3 157.1 L246.9 158.0 L248.5 158.8 L250.1 159.5 L251.8 160.3 L253.4 160.9 L255.1 161.6 L256.8 162.2 L258.5 162.8 L260.2 163.3 L262.0 163.8 L263.7 164.3 L265.4 164.7 L267.2 165.1 L268.9 165.5 L270.7 165.9 L272.5 166.2 L274.3 166.5 L276.0 166.7 L277.8 167.0 L279.6 167.2 L281.4 167.4 L283.2 167.5 L285.0 167.7 L286.8 167.8 L288.6 167.9 L290.4 168.0 L292.2 168.1 L294.0 168.1 L295.8 168.1 L297.6 168.2 L299.4 168.2 L301.2 168.2 L303.0 168.2 L304.8 168.1 L306.6 168.1 L308.4 168.1 L310.2 168.1" stroke="#ee8a8a" stroke-opacity="0.5" stroke-width="2.2"/><path d="M311.0 59.0 L309.2 59.0 L307.4 59.0 L305.6 59.0 L303.8 59.0 L302.0 59.0 L300.2 59.1 L298.4 59.1 L296.6 59.1 L294.8 59.2 L293.0 59.3 L291.2 59.4 L289.4 59.5 L287.6 59.6 L285.8 59.7 L284.0 59.9 L282.2 60.0 L280.4 60.2 L278.7 60.4 L276.9 60.7 L275.1 61.0 L273.3 61.3 L271.5 61.6 L269.8 61.9 L268.0 62.3 L266.3 62.7 L264.5 63.1 L262.8 63.6 L261.1 64.1 L259.3 64.6 L257.6 65.2 L255.9 65.8 L254.2 66.5 L252.6 67.1 L250.9 67.8 L249.3 68.6 L247.7 69.4 L246.1 70.2 L244.5 71.1 L242.9 72.0 L241.4 72.9 L239.9 73.9 L238.4 74.9 L237.0 76.0 L235.6 77.1 L234.2 78.3 L232.8 79.5 L231.5 80.7 L230.3 82.0 L229.0 83.3 L227.8 84.7 L226.7 86.1 L225.6 87.5 L224.6 89.0 L223.6 90.5 L222.7 92.0 L221.8 93.6 L221.0 95.2 L220.3 96.8 L219.6 98.5 L219.0 100.2 L218.4 101.9 L218.0 103.7 L217.6 105.4 L217.3 107.2 L217.0 109.0 L216.8 110.8 L216.7 112.6 L216.7 114.4 L216.8 116.2 L216.9 117.9 L217.1 119.7 L217.4 121.5 L217.7 123.3 L218.2 125.0 L218.7 126.8 L219.3 128.5 L219.9 130.1 L220.6 131.8 L221.4 133.4 L222.2 135.0 L223.1 136.6 L224.1 138.1 L225.1 139.6 L226.1 141.1 L227.2 142.5 L228.4 143.8 L229.6 145.2 L230.9 146.5 L232.1 147.7 L233.5 148.9 L234.8 150.1 L236.2 151.2 L237.7 152.3 L239.1 153.4 L240.6 154.4 L242.2 155.3 L243.7 156.3 L245.3 157.1 L246.9 158.0 L248.5 158.8 L250.1 159.5 L251.8 160.3 L253.4 160.9 L255.1 161.6 L256.8 162.2 L258.5 162.8 L260.2 163.3 L262.0 163.8 L263.7 164.3 L265.4 164.7 L267.2 165.1 L268.9 165.5 L270.7 165.9 L272.5 166.2 L274.3 166.5 L276.0 166.7 L277.8 167.0 L279.6 167.2 L281.4 167.4 L283.2 167.5 L285.0 167.7 L286.8 167.8 L288.6 167.9 L290.4 168.0 L292.2 168.1 L294.0 168.1 L295.8 168.1 L297.6 168.2 L299.4 168.2 L301.2 168.2 L303.0 168.2 L304.8 168.1 L306.6 168.1 L308.4 168.1 L310.2 168.1" stroke="#fff" stroke-opacity="0.85" stroke-width="0.9"/><path d="M313.9 59.4 L315.7 59.9 L317.4 60.3 L319.2 60.8 L320.9 61.3 L322.6 61.8 L324.4 62.2 L326.1 62.7 L327.8 63.3 L329.5 63.8 L331.3 64.3 L333.0 64.9 L334.7 65.4 L336.4 66.0 L338.1 66.6 L339.8 67.3 L341.4 67.9 L343.1 68.6 L344.8 69.3 L346.4 70.1 L348.0 70.8 L349.6 71.6 L351.2 72.4 L352.8 73.3 L354.4 74.2 L355.9 75.1 L357.5 76.1 L358.9 77.1 L360.4 78.1 L361.9 79.2 L363.3 80.3 L364.6 81.5 L366.0 82.7 L367.3 83.9 L368.5 85.2 L369.8 86.5 L370.9 87.9 L372.1 89.3 L373.1 90.8 L374.1 92.2 L375.1 93.8 L376.0 95.3 L376.8 96.9 L377.5 98.6 L378.2 100.2 L378.8 101.9 L379.4 103.7 L379.8 105.4 L380.2 107.2 L380.5 108.9 L380.7 110.7 L380.8 112.5 L380.8 114.3 L380.7 116.1 L380.6 117.9 L380.4 119.7 L380.0 121.5 L379.6 123.2 L379.1 125.0 L378.6 126.7 L377.9 128.4 L377.2 130.0 L376.4 131.6 L375.6 133.2 L374.7 134.8 L373.7 136.3 L372.7 137.7 L371.6 139.2 L370.4 140.6 L369.2 141.9 L368.0 143.2 L366.7 144.5 L365.4 145.7 L364.0 146.9 L362.6 148.0 L361.2 149.1 L359.7 150.1 L358.2 151.1 L356.7 152.1 L355.2 153.1 L353.6 154.0 L352.0 154.8 L350.4 155.6 L348.8 156.4 L347.2 157.2 L345.6 157.9 L343.9 158.6 L342.2 159.3 L340.5 160.0 L338.9 160.6 L337.2 161.2 L335.5 161.8 L333.7 162.3 L332.0 162.8 L330.3 163.4 L328.6 163.9 L326.8 164.4 L325.1 164.8 L323.4 165.3 L321.6 165.7 L319.9 166.2 L318.1 166.6 L316.4 167.1 L314.6 167.5" stroke="#ee8a8a" stroke-opacity="0.5" stroke-width="2.2"/><path d="M313.9 59.4 L315.7 59.9 L317.4 60.3 L319.2 60.8 L320.9 61.3 L322.6 61.8 L324.4 62.2 L326.1 62.7 L327.8 63.3 L329.5 63.8 L331.3 64.3 L333.0 64.9 L334.7 65.4 L336.4 66.0 L338.1 66.6 L339.8 67.3 L341.4 67.9 L343.1 68.6 L344.8 69.3 L346.4 70.1 L348.0 70.8 L349.6 71.6 L351.2 72.4 L352.8 73.3 L354.4 74.2 L355.9 75.1 L357.5 76.1 L358.9 77.1 L360.4 78.1 L361.9 79.2 L363.3 80.3 L364.6 81.5 L366.0 82.7 L367.3 83.9 L368.5 85.2 L369.8 86.5 L370.9 87.9 L372.1 89.3 L373.1 90.8 L374.1 92.2 L375.1 93.8 L376.0 95.3 L376.8 96.9 L377.5 98.6 L378.2 100.2 L378.8 101.9 L379.4 103.7 L379.8 105.4 L380.2 107.2 L380.5 108.9 L380.7 110.7 L380.8 112.5 L380.8 114.3 L380.7 116.1 L380.6 117.9 L380.4 119.7 L380.0 121.5 L379.6 123.2 L379.1 125.0 L378.6 126.7 L377.9 128.4 L377.2 130.0 L376.4 131.6 L375.6 133.2 L374.7 134.8 L373.7 136.3 L372.7 137.7 L371.6 139.2 L370.4 140.6 L369.2 141.9 L368.0 143.2 L366.7 144.5 L365.4 145.7 L364.0 146.9 L362.6 148.0 L361.2 149.1 L359.7 150.1 L358.2 151.1 L356.7 152.1 L355.2 153.1 L353.6 154.0 L352.0 154.8 L350.4 155.6 L348.8 156.4 L347.2 157.2 L345.6 157.9 L343.9 158.6 L342.2 159.3 L340.5 160.0 L338.9 160.6 L337.2 161.2 L335.5 161.8 L333.7 162.3 L332.0 162.8 L330.3 163.4 L328.6 163.9 L326.8 164.4 L325.1 164.8 L323.4 165.3 L321.6 165.7 L319.9 166.2 L318.1 166.6 L316.4 167.1 L314.6 167.5" stroke="#fff" stroke-opacity="0.85" stroke-width="0.9"/><path d="M311.1 59.4 L309.3 59.9 L307.6 60.3 L305.8 60.8 L304.1 61.3 L302.4 61.8 L300.6 62.2 L298.9 62.7 L297.2 63.3 L295.5 63.8 L293.7 64.3 L292.0 64.9 L290.3 65.4 L288.6 66.0 L286.9 66.6 L285.2 67.3 L283.6 67.9 L281.9 68.6 L280.2 69.3 L278.6 70.1 L277.0 70.8 L275.4 71.6 L273.8 72.4 L272.2 73.3 L270.6 74.2 L269.1 75.1 L267.5 76.1 L266.1 77.1 L264.6 78.1 L263.1 79.2 L261.7 80.3 L260.4 81.5 L259.0 82.7 L257.7 83.9 L256.5 85.2 L255.2 86.5 L254.1 87.9 L252.9 89.3 L251.9 90.8 L250.9 92.2 L249.9 93.8 L249.0 95.3 L248.2 96.9 L247.5 98.6 L246.8 100.2 L246.2 101.9 L245.6 103.7 L245.2 105.4 L244.8 107.2 L244.5 108.9 L244.3 110.7 L244.2 112.5 L244.2 114.3 L244.3 116.1 L244.4 117.9 L244.6 119.7 L245.0 121.5 L245.4 123.2 L245.9 125.0 L246.4 126.7 L247.1 128.4 L247.8 130.0 L248.6 131.6 L249.4 133.2 L250.3 134.8 L251.3 136.3 L252.3 137.7 L253.4 139.2 L254.6 140.6 L255.8 141.9 L257.0 143.2 L258.3 144.5 L259.6 145.7 L261.0 146.9 L262.4 148.0 L263.8 149.1 L265.3 150.1 L266.8 151.1 L268.3 152.1 L269.8 153.1 L271.4 154.0 L273.0 154.8 L274.6 155.6 L276.2 156.4 L277.8 157.2 L279.4 157.9 L281.1 158.6 L282.8 159.3 L284.5 160.0 L286.1 160.6 L287.8 161.2 L289.5 161.8 L291.3 162.3 L293.0 162.8 L294.7 163.4 L296.4 163.9 L298.2 164.4 L299.9 164.8 L301.6 165.3 L303.4 165.7 L305.1 166.2 L306.9 166.6 L308.6 167.1 L310.4 167.5" stroke="#ee8a8a" stroke-opacity="0.5" stroke-width="2.2"/><path d="M311.1 59.4 L309.3 59.9 L307.6 60.3 L305.8 60.8 L304.1 61.3 L302.4 61.8 L300.6 62.2 L298.9 62.7 L297.2 63.3 L295.5 63.8 L293.7 64.3 L292.0 64.9 L290.3 65.4 L288.6 66.0 L286.9 66.6 L285.2 67.3 L283.6 67.9 L281.9 68.6 L280.2 69.3 L278.6 70.1 L277.0 70.8 L275.4 71.6 L273.8 72.4 L272.2 73.3 L270.6 74.2 L269.1 75.1 L267.5 76.1 L266.1 77.1 L264.6 78.1 L263.1 79.2 L261.7 80.3 L260.4 81.5 L259.0 82.7 L257.7 83.9 L256.5 85.2 L255.2 86.5 L254.1 87.9 L252.9 89.3 L251.9 90.8 L250.9 92.2 L249.9 93.8 L249.0 95.3 L248.2 96.9 L247.5 98.6 L246.8 100.2 L246.2 101.9 L245.6 103.7 L245.2 105.4 L244.8 107.2 L244.5 108.9 L244.3 110.7 L244.2 112.5 L244.2 114.3 L244.3 116.1 L244.4 117.9 L244.6 119.7 L245.0 121.5 L245.4 123.2 L245.9 125.0 L246.4 126.7 L247.1 128.4 L247.8 130.0 L248.6 131.6 L249.4 133.2 L250.3 134.8 L251.3 136.3 L252.3 137.7 L253.4 139.2 L254.6 140.6 L255.8 141.9 L257.0 143.2 L258.3 144.5 L259.6 145.7 L261.0 146.9 L262.4 148.0 L263.8 149.1 L265.3 150.1 L266.8 151.1 L268.3 152.1 L269.8 153.1 L271.4 154.0 L273.0 154.8 L274.6 155.6 L276.2 156.4 L277.8 157.2 L279.4 157.9 L281.1 158.6 L282.8 159.3 L284.5 160.0 L286.1 160.6 L287.8 161.2 L289.5 161.8 L291.3 162.3 L293.0 162.8 L294.7 163.4 L296.4 163.9 L298.2 164.4 L299.9 164.8 L301.6 165.3 L303.4 165.7 L305.1 166.2 L306.9 166.6 L308.6 167.1 L310.4 167.5" stroke="#fff" stroke-opacity="0.85" stroke-width="0.9"/><path d="M313.8 59.8 L315.4 60.7 L316.9 61.6 L318.5 62.5 L320.0 63.4 L321.6 64.3 L323.1 65.2 L324.7 66.1 L326.2 67.1 L327.7 68.0 L329.2 69.0 L330.8 70.0 L332.3 71.0 L333.7 72.0 L335.2 73.0 L336.7 74.1 L338.1 75.1 L339.5 76.2 L340.9 77.4 L342.3 78.5 L343.7 79.7 L345.0 80.9 L346.3 82.2 L347.6 83.4 L348.8 84.8 L350.0 86.1 L351.2 87.5 L352.3 88.9 L353.3 90.3 L354.3 91.8 L355.3 93.4 L356.2 94.9 L357.0 96.5 L357.8 98.1 L358.5 99.8 L359.1 101.5 L359.7 103.2 L360.2 104.9 L360.6 106.7 L360.9 108.5 L361.1 110.2 L361.2 112.0 L361.3 113.8 L361.3 115.6 L361.1 117.4 L360.9 119.2 L360.6 121.0 L360.2 122.8 L359.8 124.5 L359.2 126.2 L358.6 127.9 L357.9 129.6 L357.1 131.2 L356.3 132.8 L355.4 134.3 L354.4 135.9 L353.4 137.3 L352.4 138.8 L351.2 140.2 L350.1 141.6 L348.9 142.9 L347.6 144.2 L346.4 145.5 L345.1 146.7 L343.7 148.0 L342.4 149.1 L341.0 150.3 L339.6 151.4 L338.1 152.5 L336.7 153.5 L335.2 154.6 L333.7 155.6 L332.2 156.6 L330.7 157.5 L329.2 158.5 L327.6 159.4 L326.1 160.4 L324.5 161.3 L323.0 162.2 L321.4 163.1 L319.8 164.0 L318.3 164.8 L316.7 165.7 L315.1 166.6 L313.5 167.4" stroke="#ee8a8a" stroke-opacity="0.5" stroke-width="2.2"/><path d="M313.8 59.8 L315.4 60.7 L316.9 61.6 L318.5 62.5 L320.0 63.4 L321.6 64.3 L323.1 65.2 L324.7 66.1 L326.2 67.1 L327.7 68.0 L329.2 69.0 L330.8 70.0 L332.3 71.0 L333.7 72.0 L335.2 73.0 L336.7 74.1 L338.1 75.1 L339.5 76.2 L340.9 77.4 L342.3 78.5 L343.7 79.7 L345.0 80.9 L346.3 82.2 L347.6 83.4 L348.8 84.8 L350.0 86.1 L351.2 87.5 L352.3 88.9 L353.3 90.3 L354.3 91.8 L355.3 93.4 L356.2 94.9 L357.0 96.5 L357.8 98.1 L358.5 99.8 L359.1 101.5 L359.7 103.2 L360.2 104.9 L360.6 106.7 L360.9 108.5 L361.1 110.2 L361.2 112.0 L361.3 113.8 L361.3 115.6 L361.1 117.4 L360.9 119.2 L360.6 121.0 L360.2 122.8 L359.8 124.5 L359.2 126.2 L358.6 127.9 L357.9 129.6 L357.1 131.2 L356.3 132.8 L355.4 134.3 L354.4 135.9 L353.4 137.3 L352.4 138.8 L351.2 140.2 L350.1 141.6 L348.9 142.9 L347.6 144.2 L346.4 145.5 L345.1 146.7 L343.7 148.0 L342.4 149.1 L341.0 150.3 L339.6 151.4 L338.1 152.5 L336.7 153.5 L335.2 154.6 L333.7 155.6 L332.2 156.6 L330.7 157.5 L329.2 158.5 L327.6 159.4 L326.1 160.4 L324.5 161.3 L323.0 162.2 L321.4 163.1 L319.8 164.0 L318.3 164.8 L316.7 165.7 L315.1 166.6 L313.5 167.4" stroke="#fff" stroke-opacity="0.85" stroke-width="0.9"/><path d="M311.2 59.8 L309.6 60.7 L308.1 61.6 L306.5 62.5 L305.0 63.4 L303.4 64.3 L301.9 65.2 L300.3 66.1 L298.8 67.1 L297.3 68.0 L295.8 69.0 L294.2 70.0 L292.7 71.0 L291.3 72.0 L289.8 73.0 L288.3 74.1 L286.9 75.1 L285.5 76.2 L284.1 77.4 L282.7 78.5 L281.3 79.7 L280.0 80.9 L278.7 82.2 L277.4 83.4 L276.2 84.8 L275.0 86.1 L273.8 87.5 L272.7 88.9 L271.7 90.3 L270.7 91.8 L269.7 93.4 L268.8 94.9 L268.0 96.5 L267.2 98.1 L266.5 99.8 L265.9 101.5 L265.3 103.2 L264.8 104.9 L264.4 106.7 L264.1 108.5 L263.9 110.2 L263.8 112.0 L263.7 113.8 L263.7 115.6 L263.9 117.4 L264.1 119.2 L264.4 121.0 L264.8 122.8 L265.2 124.5 L265.8 126.2 L266.4 127.9 L267.1 129.6 L267.9 131.2 L268.7 132.8 L269.6 134.3 L270.6 135.9 L271.6 137.3 L272.6 138.8 L273.8 140.2 L274.9 141.6 L276.1 142.9 L277.4 144.2 L278.6 145.5 L279.9 146.7 L281.3 148.0 L282.6 149.1 L284.0 150.3 L285.4 151.4 L286.9 152.5 L288.3 153.5 L289.8 154.6 L291.3 155.6 L292.8 156.6 L294.3 157.5 L295.8 158.5 L297.4 159.4 L298.9 160.4 L300.5 161.3 L302.0 162.2 L303.6 163.1 L305.2 164.0 L306.7 164.8 L308.3 165.7 L309.9 166.6 L311.5 167.4" stroke="#ee8a8a" stroke-opacity="0.5" stroke-width="2.2"/><path d="M311.2 59.8 L309.6 60.7 L308.1 61.6 L306.5 62.5 L305.0 63.4 L303.4 64.3 L301.9 65.2 L300.3 66.1 L298.8 67.1 L297.3 68.0 L295.8 69.0 L294.2 70.0 L292.7 71.0 L291.3 72.0 L289.8 73.0 L288.3 74.1 L286.9 75.1 L285.5 76.2 L284.1 77.4 L282.7 78.5 L281.3 79.7 L280.0 80.9 L278.7 82.2 L277.4 83.4 L276.2 84.8 L275.0 86.1 L273.8 87.5 L272.7 88.9 L271.7 90.3 L270.7 91.8 L269.7 93.4 L268.8 94.9 L268.0 96.5 L267.2 98.1 L266.5 99.8 L265.9 101.5 L265.3 103.2 L264.8 104.9 L264.4 106.7 L264.1 108.5 L263.9 110.2 L263.8 112.0 L263.7 113.8 L263.7 115.6 L263.9 117.4 L264.1 119.2 L264.4 121.0 L264.8 122.8 L265.2 124.5 L265.8 126.2 L266.4 127.9 L267.1 129.6 L267.9 131.2 L268.7 132.8 L269.6 134.3 L270.6 135.9 L271.6 137.3 L272.6 138.8 L273.8 140.2 L274.9 141.6 L276.1 142.9 L277.4 144.2 L278.6 145.5 L279.9 146.7 L281.3 148.0 L282.6 149.1 L284.0 150.3 L285.4 151.4 L286.9 152.5 L288.3 153.5 L289.8 154.6 L291.3 155.6 L292.8 156.6 L294.3 157.5 L295.8 158.5 L297.4 159.4 L298.9 160.4 L300.5 161.3 L302.0 162.2 L303.6 163.1 L305.2 164.0 L306.7 164.8 L308.3 165.7 L309.9 166.6 L311.5 167.4" stroke="#fff" stroke-opacity="0.85" stroke-width="0.9"/><path d="M313.6 60.0 L314.9 61.3 L316.2 62.5 L317.5 63.8 L318.7 65.1 L320.0 66.3 L321.3 67.6 L322.6 68.9 L323.8 70.1 L325.1 71.4 L326.4 72.7 L327.6 74.0 L328.8 75.4 L330.0 76.7 L331.2 78.0 L332.4 79.4 L333.5 80.8 L334.6 82.2 L335.7 83.6 L336.8 85.1 L337.8 86.6 L338.8 88.1 L339.8 89.6 L340.7 91.1 L341.6 92.7 L342.4 94.3 L343.1 96.0 L343.9 97.6 L344.5 99.3 L345.1 101.0 L345.6 102.7 L346.1 104.5 L346.4 106.2 L346.7 108.0 L347.0 109.8 L347.1 111.6 L347.2 113.4 L347.2 115.2 L347.1 117.0 L346.9 118.8 L346.6 120.5 L346.3 122.3 L345.9 124.1 L345.4 125.8 L344.9 127.5 L344.3 129.2 L343.6 130.9 L342.9 132.5 L342.1 134.1 L341.2 135.7 L340.3 137.3 L339.4 138.8 L338.4 140.3 L337.4 141.8 L336.3 143.3 L335.2 144.7 L334.1 146.1 L333.0 147.5 L331.8 148.9 L330.6 150.2 L329.4 151.5 L328.2 152.9 L326.9 154.2 L325.7 155.4 L324.4 156.7 L323.1 158.0 L321.8 159.2 L320.5 160.5 L319.2 161.7 L317.9 163.0 L316.6 164.2 L315.3 165.4 L314.0 166.6" stroke="#ee8a8a" stroke-opacity="0.5" stroke-width="2.2"/><path d="M313.6 60.0 L314.9 61.3 L316.2 62.5 L317.5 63.8 L318.7 65.1 L320.0 66.3 L321.3 67.6 L322.6 68.9 L323.8 70.1 L325.1 71.4 L326.4 72.7 L327.6 74.0 L328.8 75.4 L330.0 76.7 L331.2 78.0 L332.4 79.4 L333.5 80.8 L334.6 82.2 L335.7 83.6 L336.8 85.1 L337.8 86.6 L338.8 88.1 L339.8 89.6 L340.7 91.1 L341.6 92.7 L342.4 94.3 L343.1 96.0 L343.9 97.6 L344.5 99.3 L345.1 101.0 L345.6 102.7 L346.1 104.5 L346.4 106.2 L346.7 108.0 L347.0 109.8 L347.1 111.6 L347.2 113.4 L347.2 115.2 L347.1 117.0 L346.9 118.8 L346.6 120.5 L346.3 122.3 L345.9 124.1 L345.4 125.8 L344.9 127.5 L344.3 129.2 L343.6 130.9 L342.9 132.5 L342.1 134.1 L341.2 135.7 L340.3 137.3 L339.4 138.8 L338.4 140.3 L337.4 141.8 L336.3 143.3 L335.2 144.7 L334.1 146.1 L333.0 147.5 L331.8 148.9 L330.6 150.2 L329.4 151.5 L328.2 152.9 L326.9 154.2 L325.7 155.4 L324.4 156.7 L323.1 158.0 L321.8 159.2 L320.5 160.5 L319.2 161.7 L317.9 163.0 L316.6 164.2 L315.3 165.4 L314.0 166.6" stroke="#fff" stroke-opacity="0.85" stroke-width="0.9"/><path d="M311.4 60.0 L310.1 61.3 L308.8 62.5 L307.5 63.8 L306.3 65.1 L305.0 66.3 L303.7 67.6 L302.4 68.9 L301.2 70.1 L299.9 71.4 L298.6 72.7 L297.4 74.0 L296.2 75.4 L295.0 76.7 L293.8 78.0 L292.6 79.4 L291.5 80.8 L290.4 82.2 L289.3 83.6 L288.2 85.1 L287.2 86.6 L286.2 88.1 L285.2 89.6 L284.3 91.1 L283.4 92.7 L282.6 94.3 L281.9 96.0 L281.1 97.6 L280.5 99.3 L279.9 101.0 L279.4 102.7 L278.9 104.5 L278.6 106.2 L278.3 108.0 L278.0 109.8 L277.9 111.6 L277.8 113.4 L277.8 115.2 L277.9 117.0 L278.1 118.8 L278.4 120.5 L278.7 122.3 L279.1 124.1 L279.6 125.8 L280.1 127.5 L280.7 129.2 L281.4 130.9 L282.1 132.5 L282.9 134.1 L283.8 135.7 L284.7 137.3 L285.6 138.8 L286.6 140.3 L287.6 141.8 L288.7 143.3 L289.8 144.7 L290.9 146.1 L292.0 147.5 L293.2 148.9 L294.4 150.2 L295.6 151.5 L296.8 152.9 L298.1 154.2 L299.3 155.4 L300.6 156.7 L301.9 158.0 L303.2 159.2 L304.5 160.5 L305.8 161.7 L307.1 163.0 L308.4 164.2 L309.7 165.4 L311.0 166.6" stroke="#ee8a8a" stroke-opacity="0.5" stroke-width="2.2"/><path d="M311.4 60.0 L310.1 61.3 L308.8 62.5 L307.5 63.8 L306.3 65.1 L305.0 66.3 L303.7 67.6 L302.4 68.9 L301.2 70.1 L299.9 71.4 L298.6 72.7 L297.4 74.0 L296.2 75.4 L295.0 76.7 L293.8 78.0 L292.6 79.4 L291.5 80.8 L290.4 82.2 L289.3 83.6 L288.2 85.1 L287.2 86.6 L286.2 88.1 L285.2 89.6 L284.3 91.1 L283.4 92.7 L282.6 94.3 L281.9 96.0 L281.1 97.6 L280.5 99.3 L279.9 101.0 L279.4 102.7 L278.9 104.5 L278.6 106.2 L278.3 108.0 L278.0 109.8 L277.9 111.6 L277.8 113.4 L277.8 115.2 L277.9 117.0 L278.1 118.8 L278.4 120.5 L278.7 122.3 L279.1 124.1 L279.6 125.8 L280.1 127.5 L280.7 129.2 L281.4 130.9 L282.1 132.5 L282.9 134.1 L283.8 135.7 L284.7 137.3 L285.6 138.8 L286.6 140.3 L287.6 141.8 L288.7 143.3 L289.8 144.7 L290.9 146.1 L292.0 147.5 L293.2 148.9 L294.4 150.2 L295.6 151.5 L296.8 152.9 L298.1 154.2 L299.3 155.4 L300.6 156.7 L301.9 158.0 L303.2 159.2 L304.5 160.5 L305.8 161.7 L307.1 163.0 L308.4 164.2 L309.7 165.4 L311.0 166.6" stroke="#fff" stroke-opacity="0.85" stroke-width="0.9"/><path d="M313.3 60.3 L314.3 61.8 L315.3 63.3 L316.3 64.8 L317.2 66.3 L318.2 67.8 L319.2 69.3 L320.1 70.9 L321.1 72.4 L322.0 73.9 L323.0 75.5 L323.9 77.0 L324.8 78.6 L325.7 80.1 L326.5 81.7 L327.4 83.3 L328.2 84.9 L329.0 86.5 L329.8 88.1 L330.6 89.8 L331.3 91.4 L331.9 93.1 L332.6 94.8 L333.2 96.5 L333.7 98.2 L334.2 99.9 L334.7 101.6 L335.1 103.4 L335.4 105.2 L335.7 106.9 L335.9 108.7 L336.1 110.5 L336.2 112.3 L336.2 114.1 L336.1 115.9 L336.0 117.7 L335.9 119.5 L335.6 121.3 L335.4 123.1 L335.0 124.8 L334.6 126.6 L334.1 128.3 L333.6 130.1 L333.0 131.8 L332.4 133.5 L331.8 135.1 L331.1 136.8 L330.4 138.4 L329.6 140.1 L328.8 141.7 L328.0 143.3 L327.1 144.9 L326.3 146.4 L325.4 148.0 L324.5 149.6 L323.5 151.1 L322.6 152.6 L321.6 154.2 L320.7 155.7 L319.7 157.2 L318.7 158.7 L317.7 160.2 L316.7 161.7 L315.7 163.2 L314.7 164.7 L313.7 166.2" stroke="#ee8a8a" stroke-opacity="0.5" stroke-width="2.2"/><path d="M313.3 60.3 L314.3 61.8 L315.3 63.3 L316.3 64.8 L317.2 66.3 L318.2 67.8 L319.2 69.3 L320.1 70.9 L321.1 72.4 L322.0 73.9 L323.0 75.5 L323.9 77.0 L324.8 78.6 L325.7 80.1 L326.5 81.7 L327.4 83.3 L328.2 84.9 L329.0 86.5 L329.8 88.1 L330.6 89.8 L331.3 91.4 L331.9 93.1 L332.6 94.8 L333.2 96.5 L333.7 98.2 L334.2 99.9 L334.7 101.6 L335.1 103.4 L335.4 105.2 L335.7 106.9 L335.9 108.7 L336.1 110.5 L336.2 112.3 L336.2 114.1 L336.1 115.9 L336.0 117.7 L335.9 119.5 L335.6 121.3 L335.4 123.1 L335.0 124.8 L334.6 126.6 L334.1 128.3 L333.6 130.1 L333.0 131.8 L332.4 133.5 L331.8 135.1 L331.1 136.8 L330.4 138.4 L329.6 140.1 L328.8 141.7 L328.0 143.3 L327.1 144.9 L326.3 146.4 L325.4 148.0 L324.5 149.6 L323.5 151.1 L322.6 152.6 L321.6 154.2 L320.7 155.7 L319.7 157.2 L318.7 158.7 L317.7 160.2 L316.7 161.7 L315.7 163.2 L314.7 164.7 L313.7 166.2" stroke="#fff" stroke-opacity="0.85" stroke-width="0.9"/><path d="M311.7 60.3 L310.7 61.8 L309.7 63.3 L308.7 64.8 L307.8 66.3 L306.8 67.8 L305.8 69.3 L304.9 70.9 L303.9 72.4 L303.0 73.9 L302.0 75.5 L301.1 77.0 L300.2 78.6 L299.3 80.1 L298.5 81.7 L297.6 83.3 L296.8 84.9 L296.0 86.5 L295.2 88.1 L294.4 89.8 L293.7 91.4 L293.1 93.1 L292.4 94.8 L291.8 96.5 L291.3 98.2 L290.8 99.9 L290.3 101.6 L289.9 103.4 L289.6 105.2 L289.3 106.9 L289.1 108.7 L288.9 110.5 L288.8 112.3 L288.8 114.1 L288.9 115.9 L289.0 117.7 L289.1 119.5 L289.4 121.3 L289.6 123.1 L290.0 124.8 L290.4 126.6 L290.9 128.3 L291.4 130.1 L292.0 131.8 L292.6 133.5 L293.2 135.1 L293.9 136.8 L294.6 138.4 L295.4 140.1 L296.2 141.7 L297.0 143.3 L297.9 144.9 L298.7 146.4 L299.6 148.0 L300.5 149.6 L301.5 151.1 L302.4 152.6 L303.4 154.2 L304.3 155.7 L305.3 157.2 L306.3 158.7 L307.3 160.2 L308.3 161.7 L309.3 163.2 L310.3 164.7 L311.3 166.2" stroke="#ee8a8a" stroke-opacity="0.5" stroke-width="2.2"/><path d="M311.7 60.3 L310.7 61.8 L309.7 63.3 L308.7 64.8 L307.8 66.3 L306.8 67.8 L305.8 69.3 L304.9 70.9 L303.9 72.4 L303.0 73.9 L302.0 75.5 L301.1 77.0 L300.2 78.6 L299.3 80.1 L298.5 81.7 L297.6 83.3 L296.8 84.9 L296.0 86.5 L295.2 88.1 L294.4 89.8 L293.7 91.4 L293.1 93.1 L292.4 94.8 L291.8 96.5 L291.3 98.2 L290.8 99.9 L290.3 101.6 L289.9 103.4 L289.6 105.2 L289.3 106.9 L289.1 108.7 L288.9 110.5 L288.8 112.3 L288.8 114.1 L288.9 115.9 L289.0 117.7 L289.1 119.5 L289.4 121.3 L289.6 123.1 L290.0 124.8 L290.4 126.6 L290.9 128.3 L291.4 130.1 L292.0 131.8 L292.6 133.5 L293.2 135.1 L293.9 136.8 L294.6 138.4 L295.4 140.1 L296.2 141.7 L297.0 143.3 L297.9 144.9 L298.7 146.4 L299.6 148.0 L300.5 149.6 L301.5 151.1 L302.4 152.6 L303.4 154.2 L304.3 155.7 L305.3 157.2 L306.3 158.7 L307.3 160.2 L308.3 161.7 L309.3 163.2 L310.3 164.7 L311.3 166.2" stroke="#fff" stroke-opacity="0.85" stroke-width="0.9"/></g></g>
</g>
<g stroke-linecap="butt"><line x1="82.0" y1="78.5" x2="104.6" y2="137.0" stroke="#929298" stroke-width="6.2"/><line x1="82.0" y1="147.5" x2="104.6" y2="86.0" stroke="#929298" stroke-width="6.2"/><line x1="104.6" y1="86.0" x2="126.8" y2="147.5" stroke="#929298" stroke-width="6.2"/><line x1="104.6" y1="137.0" x2="126.8" y2="78.5" stroke="#929298" stroke-width="6.2"/><line x1="82.7" y1="78.0" x2="105.3" y2="136.5" stroke="#dedee1" stroke-width="4.2"/><line x1="82.7" y1="147.0" x2="105.3" y2="85.5" stroke="#dedee1" stroke-width="4.2"/><line x1="105.3" y1="85.5" x2="127.5" y2="147.0" stroke="#dedee1" stroke-width="4.2"/><line x1="105.3" y1="136.5" x2="127.5" y2="78.0" stroke="#dedee1" stroke-width="4.2"/><path d="M102.1 85.5 L104.1 81.9 L106.1 85.5 Z" fill="#c4c4c8"/><circle cx="104.1" cy="84.3" r="1.25" fill="#6d6d70"/><circle cx="103.6" cy="90.4" r="1.25" fill="#6d6d70"/><circle cx="93.8" cy="113.1" r="1.25" fill="#6d6d70"/><circle cx="115.2" cy="113.1" r="1.25" fill="#6d6d70"/><circle cx="105.1" cy="135.4" r="1.25" fill="#6d6d70"/></g>
<path d="M79.8 61 L84 59.8 L83.2 120 L82 155 L81 162.4 L79.8 162 Z" fill="#4a84be"/>
<path d="M75 59.8 L84 59.8 L79.8 90 L70.8 90.5 Z" fill="#6ba3d4"/>
<path d="M70.8 90.5 L79.8 90 L81 162.4 L73.6 162.4 Z" fill="#bad7ee"/>
<path d="M139.79999999999998 90.4 L142.6 60.8 L142.6 160.1 L139.79999999999998 162.1 Z" fill="#d2d2d6"/>
<path d="M128.3 60.8 L142.6 60.8 L139.79999999999998 90.4 L124.6 90.4 Z" fill="#3b0c0f"/>
<path d="M124.6 90.4 L139.79999999999998 90.4 L139.79999999999998 127.2 L125.73 127.2 Z" fill="#a5121a"/>
<rect x="124.6" y="90.4" width="15.20" height="0.9" fill="#e4563c"/>
<path d="M125.73 127.2 L139.79999999999998 127.2 L139.79999999999998 162.1 L126.80 162.1 Z" fill="#185a94"/>
<path d="M132.6 41.3 H137.4 V46.32 H141.0 L135 59.9 L129.0 46.32 H132.6 Z" fill="#0b0bf5"/>
<g stroke-linecap="butt"><line x1="319.4" y1="78.5" x2="341.0" y2="137.0" stroke="#929298" stroke-width="6.2"/><line x1="319.4" y1="147.5" x2="341.0" y2="86.0" stroke="#929298" stroke-width="6.2"/><line x1="341.0" y1="86.0" x2="364.0" y2="147.5" stroke="#929298" stroke-width="6.2"/><line x1="341.0" y1="137.0" x2="364.0" y2="78.5" stroke="#929298" stroke-width="6.2"/><line x1="320.1" y1="78.0" x2="341.7" y2="136.5" stroke="#dedee1" stroke-width="4.2"/><line x1="320.1" y1="147.0" x2="341.7" y2="85.5" stroke="#dedee1" stroke-width="4.2"/><line x1="341.7" y1="85.5" x2="364.7" y2="147.0" stroke="#dedee1" stroke-width="4.2"/><line x1="341.7" y1="136.5" x2="364.7" y2="78.0" stroke="#dedee1" stroke-width="4.2"/><path d="M339.3 85.2 L341.3 81.6 L343.3 85.2 Z" fill="#c4c4c8"/><circle cx="341.3" cy="84.0" r="1.25" fill="#6d6d70"/><circle cx="341.3" cy="90.2" r="1.25" fill="#6d6d70"/><circle cx="331.0" cy="113.4" r="1.25" fill="#6d6d70"/><circle cx="352.7" cy="113.4" r="1.25" fill="#6d6d70"/><circle cx="340.7" cy="135.5" r="1.25" fill="#6d6d70"/></g>
<path d="M302.2 61.3 L304.9 61.3 L304.9 161.2 L302.2 159.7 Z" fill="url(#magSideL)"/>
<path d="M304.9 61.3 L317.7 61.3 L321.4 90.8 L304.9 90.8 Z" fill="#3b0c0f"/>
<rect x="304.9" y="90.8" width="16.50" height="36.40" fill="#a5121a"/>
<rect x="304.9" y="90.8" width="16.50" height="0.9" fill="#e4563c"/>
<rect x="304.9" y="127.2" width="16.50" height="34.00" fill="#185a94"/>
<path d="M361.6 61 L365 60.3 L364.6 161 L361.6 158.5 Z" fill="#4e86bf"/>
<path d="M361.6 60.3 L369.8 60.3 L375.5 90.5 L364.8 90.5 Z" fill="#6ba3d4"/>
<path d="M364.8 90.5 L375.5 90.5 L376 93 L375.6 162 L364.6 161.5 Z" fill="#bcd9ef"/>
<path d="M339.90000000000003 41.2 H344.7 V46.17 H348.3 L342.3 59.6 L336.3 46.17 H339.90000000000003 Z" fill="#0b0bf5"/>
<rect x="24.5" y="10.4" width="407.6" height="173.8" fill="none" stroke="#26405e" stroke-width="1.5" stroke-dasharray="7.6 7.87"/>
<text x="50.80" y="35.40" font-size="10.7" text-anchor="start" fill="#111" textLength="91" lengthAdjust="spacingAndGlyphs">Permanent magnet</text>
<text x="290.60" y="37.60" font-size="10.7" text-anchor="start" fill="#111" textLength="134" lengthAdjust="spacingAndGlyphs">Distance adjustment device</text>
<text x="460.3" y="10.8" font-size="14.6" font-weight="bold" fill="#000" stroke="#000" stroke-width="0.7">b</text>
<rect x="516.80" y="128.60" width="34.20" height="31.85" fill="#d95e1b" stroke="#3a3a3a" stroke-width="0.5"/>
<rect x="516.80" y="126.68" width="34.20" height="1.92" fill="#5d6a8c" stroke="#3a3a3a" stroke-width="0.5"/>
<path d="M533.90 127.36V129.83M532.60 127.36h2.6M532.60 129.83h2.6" stroke="#222" stroke-width="0.7" fill="none"/>
<rect x="532.80" y="127.70" width="2.2" height="1.8" fill="#111"/>
<rect x="559.50" y="159.42" width="33.90" height="1.03" fill="#d95e1b" stroke="#3a3a3a" stroke-width="0.5"/>
<rect x="559.50" y="143.32" width="33.90" height="16.10" fill="#5d6a8c" stroke="#3a3a3a" stroke-width="0.5"/>
<path d="M576.45 159.15V159.70M575.15 159.15h2.6M575.15 159.70h2.6" stroke="#222" stroke-width="0.7" fill="none"/>
<rect x="575.35" y="158.52" width="2.2" height="1.8" fill="#111"/>
<path d="M576.45 142.64V144.01M575.15 142.64h2.6M575.15 144.01h2.6" stroke="#222" stroke-width="0.7" fill="none"/>
<rect x="575.35" y="142.42" width="2.2" height="1.8" fill="#111"/>
<rect x="602.10" y="45.37" width="33.70" height="115.08" fill="#d95e1b" stroke="#3a3a3a" stroke-width="0.5"/>
<path d="M618.95 42.63V48.11M617.65 42.63h2.6M617.65 48.11h2.6" stroke="#222" stroke-width="0.7" fill="none"/>
<rect x="617.85" y="44.47" width="2.2" height="1.8" fill="#111"/>
<rect x="644.30" y="156.00" width="34.20" height="4.45" fill="#d95e1b" stroke="#3a3a3a" stroke-width="0.5"/>
<rect x="644.30" y="100.85" width="34.20" height="55.14" fill="#5d6a8c" stroke="#3a3a3a" stroke-width="0.5"/>
<path d="M661.40 155.45V156.55M660.10 155.45h2.6M660.10 156.55h2.6" stroke="#222" stroke-width="0.7" fill="none"/>
<rect x="660.30" y="155.10" width="2.2" height="1.8" fill="#111"/>
<path d="M661.40 98.94V102.77M660.10 98.94h2.6M660.10 102.77h2.6" stroke="#222" stroke-width="0.7" fill="none"/>
<rect x="660.30" y="99.95" width="2.2" height="1.8" fill="#111"/>
<line x1="597.8" y1="23.900000000000002" x2="597.8" y2="160.4" stroke="#555" stroke-width="1.3" stroke-dasharray="3 2"/>
<rect x="512.8" y="23.1" width="169.50" height="137.30" fill="none" stroke="#6a6a6a" stroke-width="0.9"/>
<path d="M512.80 160.45h1.8M512.80 143.32h1.8M512.80 126.20h1.8M512.80 109.07h1.8M512.80 91.95h1.8M512.80 74.82h1.8M512.80 57.70h1.8M512.80 40.57h1.8M512.80 23.45h1.8" stroke="#6a6a6a" stroke-width="0.8" fill="none"/>
<text x="507.20" y="163.85" font-size="9.5" text-anchor="end" fill="#333333" >0</text>
<text x="507.20" y="129.60" font-size="9.5" text-anchor="end" fill="#333333" >500</text>
<text x="507.20" y="95.35" font-size="9.5" text-anchor="end" fill="#333333" >1,000</text>
<text x="507.20" y="61.10" font-size="9.5" text-anchor="end" fill="#333333" >1,500</text>
<text x="507.20" y="26.85" font-size="9.5" text-anchor="end" fill="#333333" >2,000</text>
<rect x="524.2" y="27.1" width="9.6" height="9.6" fill="#5d6a8c" stroke="#333" stroke-width="0.4"/>
<rect x="524.2" y="40.3" width="9.6" height="9.6" fill="#d95e1b" stroke="#333" stroke-width="0.4"/>
<text x="538.70" y="35.40" font-size="9.4" text-anchor="start" fill="#333333" >CH<tspan dy="2.5" font-size="5.2">3</tspan><tspan dy="-2.5">COOH</tspan></text>
<text x="538.70" y="48.60" font-size="9.4" text-anchor="start" fill="#333333" >CH<tspan dy="2.5" font-size="5.2">3</tspan><tspan dy="-2.5">OH</tspan></text>
<text x="533.80" y="117.10" font-size="9.5" text-anchor="middle" fill="#333333" >0 G</text>
<text x="576.10" y="116.60" font-size="9.5" text-anchor="middle" fill="#333333" >500 G</text>
<text x="619.20" y="39.30" font-size="9.5" text-anchor="middle" fill="#333333" >0 G</text>
<text x="661.40" y="72.20" font-size="9.5" text-anchor="middle" fill="#333333" >500 G</text>
<g transform="translate(579.1,129.5) scale(1.0)" fill="none" stroke="#1f95de" stroke-width="1.45" stroke-linejoin="round"><path d="M-10.6 -8.9 H0 A8.9 8.9 0 0 1 0 8.9 H-10.6 V3.7 H0 A3.7 3.7 0 0 0 0 -3.7 H-10.6 Z M-7.0 -8.9 V-3.7 M-7.0 3.7 V8.9" transform="rotate(-32)"/><path d="M-16.2 9.9 L-11.6 5.9 L-11.8 9.1 L-7.4 4.9"/></g>
<g transform="translate(665.0,85.3) scale(1.0)" fill="none" stroke="#1f95de" stroke-width="1.45" stroke-linejoin="round"><path d="M-10.6 -8.9 H0 A8.9 8.9 0 0 1 0 8.9 H-10.6 V3.7 H0 A3.7 3.7 0 0 0 0 -3.7 H-10.6 Z M-7.0 -8.9 V-3.7 M-7.0 3.7 V8.9" transform="rotate(-32)"/><path d="M-16.2 9.9 L-11.6 5.9 L-11.8 9.1 L-7.4 4.9"/></g>
<text x="555.00" y="173.40" font-size="10.3" text-anchor="middle" fill="#333333" >Fe–LMS</text>
<text x="641.20" y="173.40" font-size="10.3" text-anchor="middle" fill="#333333" >Fe–LMS@H<tspan dy="2.4" font-size="6.5">2</tspan><tspan dy="-2.4">O</tspan></text>
<text transform="translate(474.00,91.70) rotate(-90)" font-size="10.6" text-anchor="middle" fill="#333333">Product (mmol g<tspan dy="2.4" font-size="6.8">Fe</tspan><tspan dy="-6.6" font-size="6.8">−1</tspan><tspan dy="4.2"> h</tspan><tspan dy="-3.8" font-size="6.8">−1</tspan><tspan dy="3.8">)</tspan></text>
<text x="0.3" y="218" font-size="14.6" font-weight="bold" fill="#000" stroke="#000" stroke-width="0.7">c</text>
<rect x="67.00" y="353.71" width="18.30" height="1.09" fill="#d95e1b" stroke="#3a3a3a" stroke-width="0.5"/>
<rect x="85.30" y="330.28" width="17.50" height="24.52" fill="#5d6a8c" stroke="#3a3a3a" stroke-width="0.5"/>
<rect x="138.20" y="257.64" width="17.80" height="97.16" fill="#d95e1b" stroke="#3a3a3a" stroke-width="0.5"/>
<rect x="156.00" y="325.74" width="17.70" height="29.06" fill="#5d6a8c" stroke="#3a3a3a" stroke-width="0.5"/>
<path d="M76.20 352.80V354.35M75.00 352.80h2.4M75.00 354.35h2.4" stroke="#222" stroke-width="0.7" fill="none"/>
<path d="M94.10 325.74V334.82M92.90 325.74h2.4M92.90 334.82h2.4" stroke="#222" stroke-width="0.7" fill="none"/>
<path d="M147.20 243.12V272.17M146.00 243.12h2.4M146.00 272.17h2.4" stroke="#222" stroke-width="0.7" fill="none"/>
<path d="M164.90 319.39V332.10M163.70 319.39h2.4M163.70 332.10h2.4" stroke="#222" stroke-width="0.7" fill="none"/>
<rect x="35.9" y="218.1" width="169.70" height="137.20" fill="none" stroke="#6a6a6a" stroke-width="0.9"/>
<path d="M35.90 354.80h1.8M35.90 309.40h1.8M35.90 264.00h1.8M35.90 218.60h1.8" stroke="#6a6a6a" stroke-width="0.8" fill="none"/>
<text x="31.00" y="358.20" font-size="9.5" text-anchor="end" fill="#333333" >0</text>
<text x="31.00" y="312.80" font-size="9.5" text-anchor="end" fill="#333333" >5</text>
<text x="31.00" y="267.40" font-size="9.5" text-anchor="end" fill="#333333" >10</text>
<text x="31.00" y="222.00" font-size="9.5" text-anchor="end" fill="#333333" >15</text>
<rect x="40.3" y="222.7" width="9.6" height="9.6" fill="#d95e1b" stroke="#333" stroke-width="0.4"/>
<rect x="40.3" y="237.6" width="9.6" height="9.6" fill="#5d6a8c" stroke="#333" stroke-width="0.4"/>
<text x="54.60" y="231.00" font-size="9.6" text-anchor="start" fill="#333333" >CO</text>
<text x="54.60" y="246.00" font-size="9.6" text-anchor="start" fill="#333333" >CO<tspan dy="2.5" font-size="5.2">2</tspan></text>
<text x="85.80" y="368.40" font-size="10.6" text-anchor="middle" fill="#333333" >0 G</text>
<text x="156.30" y="368.40" font-size="10.6" text-anchor="middle" fill="#333333" textLength="30" lengthAdjust="spacingAndGlyphs">500 G</text>
<text transform="translate(13.40,287.80) rotate(-90)" font-size="10.25" text-anchor="middle" fill="#333333">Product (mmol g<tspan dy="2.4" font-size="6.8">Fe</tspan><tspan dy="-6.6" font-size="6.8">−1</tspan><tspan dy="4.2"> h</tspan><tspan dy="-3.8" font-size="6.8">−1</tspan><tspan dy="3.8">)</tspan></text>
<text x="221.7" y="217.8" font-size="14.6" font-weight="bold" fill="#000" stroke="#000" stroke-width="0.7">d</text>
<rect x="269.3" y="218.1" width="170.70" height="137.00" fill="none" stroke="#6a6a6a" stroke-width="0.9"/>
<path d="M269.30 339.90h1.8M269.30 324.68h1.8M269.30 309.45h1.8M269.30 294.23h1.8M269.30 279.00h1.8M269.30 263.77h1.8M269.30 248.55h1.8M269.30 233.32h1.8M269.30 218.10h1.8" stroke="#6a6a6a" stroke-width="0.8" fill="none"/>
<path d="M285.00 355.10v-1.8M300.50 355.10v-1.8M316.00 355.10v-1.8M331.50 355.10v-1.8M347.00 355.10v-1.8M362.50 355.10v-1.8M378.00 355.10v-1.8M393.50 355.10v-1.8M409.00 355.10v-1.8M424.50 355.10v-1.8" stroke="#6a6a6a" stroke-width="0.8" fill="none"/>
<text x="264.50" y="343.30" font-size="9.5" text-anchor="end" fill="#333333" >2.5</text>
<text x="264.50" y="312.85" font-size="9.5" text-anchor="end" fill="#333333" >3.0</text>
<text x="264.50" y="282.40" font-size="9.5" text-anchor="end" fill="#333333" >3.5</text>
<text x="264.50" y="251.95" font-size="9.5" text-anchor="end" fill="#333333" >4.0</text>
<text x="264.50" y="221.50" font-size="9.5" text-anchor="end" fill="#333333" >4.5</text>
<text x="283.40" y="367.80" font-size="9.5" text-anchor="middle" fill="#333333" >−3.0</text>
<text x="314.40" y="367.80" font-size="9.5" text-anchor="middle" fill="#333333" >−2.5</text>
<text x="345.40" y="367.80" font-size="9.5" text-anchor="middle" fill="#333333" >−2.0</text>
<text x="376.40" y="367.80" font-size="9.5" text-anchor="middle" fill="#333333" >−1.5</text>
<text x="407.40" y="367.80" font-size="9.5" text-anchor="middle" fill="#333333" >−1.0</text>
<text x="438.40" y="367.80" font-size="9.5" text-anchor="middle" fill="#333333" >−0.5</text>
<line x1="285.25" y1="341.73" x2="396.35" y2="240.63" stroke="#e06a2c" stroke-width="1.3" stroke-dasharray="2.6 1.7"/>
<circle cx="285.25" cy="341.73" r="1.85" fill="#5b6a95"/>
<circle cx="328.21" cy="301.53" r="1.85" fill="#5b6a95"/>
<circle cx="371.24" cy="263.17" r="1.85" fill="#5b6a95"/>
<circle cx="396.35" cy="241.24" r="1.85" fill="#5b6a95"/>
<circle cx="414.21" cy="233.32" r="1.85" fill="#5b6a95"/>
<circle cx="428.03" cy="231.50" r="1.85" fill="#5b6a95"/>
<circle cx="288.2" cy="227.7" r="1.85" fill="#5b6a95"/>
<text x="300.80" y="231.00" font-size="9.8" text-anchor="start" fill="#333333" >Raw data</text>
<line x1="278.9" y1="237.6" x2="296.4" y2="237.6" stroke="#e06a2c" stroke-width="1.2" stroke-dasharray="2.6 1.7"/>
<text x="300.80" y="241.00" font-size="9.8" text-anchor="start" fill="#333333" >Fitting</text>
<text x="354.00" y="385.60" font-size="10.6" text-anchor="middle" fill="#333333" textLength="108" lengthAdjust="spacingAndGlyphs">ln [CO pressure (MPa)]</text>
<text transform="translate(231.4,285.3) rotate(-90)" font-size="11.2" text-anchor="middle" fill="#2b2b2b" textLength="69.8" lengthAdjust="spacingAndGlyphs">ln [production</text>
<text transform="translate(243.80,285.30) rotate(-90)" font-size="10.8" text-anchor="middle" fill="#333333">(mmol g<tspan dy="2.4" font-size="6.8">metal</tspan><tspan dy="-7.0" font-size="6.8">−1</tspan><tspan dy="4.6"> h</tspan><tspan dy="-3.8" font-size="6.8">−1</tspan><tspan dy="3.8">)]</tspan></text>
<text x="460.2" y="218" font-size="14.6" font-weight="bold" fill="#000" stroke="#000" stroke-width="0.7">e</text>
<path d="M512.70 273.29 L513.20 270.28 L513.70 273.01 L514.20 271.71 L514.70 272.41 L515.20 271.54 L515.70 271.04 L516.20 272.03 L516.70 272.99 L517.20 272.87 L517.70 271.85 L518.20 272.56 L518.70 271.90 L519.20 271.61 L519.70 270.86 L520.20 272.85 L520.70 271.23 L521.20 273.01 L521.70 270.84 L522.20 272.19 L522.70 272.37 L523.20 272.62 L523.70 273.20 L524.20 270.93 L524.70 271.69 L525.20 271.32 L525.70 273.24 L526.20 270.10 L526.70 271.75 L527.20 272.46 L527.70 271.93 L528.20 272.51 L528.70 272.91 L529.20 272.56 L529.70 271.86 L530.20 273.03 L530.70 271.69 L531.20 272.26 L531.70 272.87 L532.20 272.58 L532.70 272.61 L533.20 273.01 L533.70 273.04 L534.20 273.25 L534.70 271.12 L535.20 270.82 L535.70 272.64 L536.20 272.65 L536.70 273.34 L537.20 273.27 L537.70 271.13 L538.20 271.42 L538.70 272.64 L539.20 272.56 L539.70 271.33 L540.20 271.24 L540.70 271.48 L541.20 273.15 L541.70 272.16 L542.20 273.00 L542.70 270.44 L543.20 272.35 L543.70 272.44 L544.20 273.11 L544.70 273.04 L545.20 271.74 L545.70 272.49 L546.20 273.03 L546.70 273.35 L547.20 272.27 L547.70 271.60 L548.20 272.80 L548.70 271.78 L549.20 272.88 L549.70 273.35 L550.20 270.03 L550.70 272.40 L551.20 268.87 L551.70 273.28 L552.20 272.42 L552.70 273.36 L553.20 273.37 L553.70 272.66 L554.20 272.18 L554.70 272.67 L555.20 271.69 L555.70 271.76 L556.20 271.61 L556.70 272.90 L557.20 272.33 L557.70 271.39 L558.20 273.35 L558.70 272.87 L559.20 271.11 L559.70 271.17 L560.20 271.50 L560.70 273.09 L561.20 273.22 L561.70 272.86 L562.20 272.68 L562.70 273.32 L563.20 273.33 L563.70 273.11 L564.20 272.32 L564.70 273.01 L565.20 272.82 L565.70 271.49 L566.20 272.32 L566.70 272.89 L567.20 273.20 L567.70 272.83 L568.20 273.04 L568.70 272.37 L569.20 273.06 L569.70 272.46 L570.20 272.60 L570.70 271.67 L571.20 273.33 L571.70 273.15 L572.20 273.27 L572.70 271.41 L573.20 272.67 L573.70 273.05 L574.20 271.69 L574.70 272.83 L575.20 271.87 L575.70 273.34 L576.20 272.28 L576.70 271.20 L577.20 272.52 L577.70 271.34 L578.20 272.08 L578.70 272.02 L579.20 270.62 L579.70 271.30 L580.20 272.08 L580.70 272.13 L581.20 271.19 L581.70 272.19 L582.20 271.54 L582.70 272.93 L583.20 271.54 L583.70 272.79 L584.20 272.78 L584.70 272.63 L585.20 273.39 L585.70 272.57 L586.20 272.82 L586.70 271.86 L587.20 270.07 L587.70 270.33 L588.20 272.69 L588.70 273.12 L589.20 273.08 L589.70 273.40 L590.20 273.10 L590.70 272.30 L591.20 273.01 L591.70 272.41 L592.20 269.40 L592.70 272.91 L593.20 272.50 L593.70 272.73 L594.20 272.62 L594.70 272.66 L595.20 273.31 L595.70 273.11 L596.20 273.34 L596.70 273.16 L597.20 271.86 L597.70 271.85 L598.20 272.31 L598.70 272.87 L599.20 273.38 L599.70 273.24 L600.20 273.11 L600.70 271.72 L601.20 273.19 L601.70 270.31 L602.20 272.25 L602.70 272.11 L603.20 272.47 L603.70 272.58 L604.20 272.10 L604.70 272.62 L605.20 273.28 L605.70 273.15 L606.20 272.94 L606.70 271.65 L607.20 271.28 L607.70 270.94 L608.20 273.22 L608.70 272.67 L609.20 273.23 L609.70 271.48 L610.20 272.29 L610.70 272.59 L611.20 272.24 L611.70 270.97 L612.20 272.89 L612.70 271.91 L613.20 271.75 L613.70 273.34 L614.20 271.41 L614.70 270.14 L615.20 270.81 L615.70 271.97 L616.20 273.36 L616.70 272.18 L617.20 271.54 L617.70 273.29 L618.20 272.48 L618.70 271.32 L619.20 271.42 L619.70 272.67 L620.20 271.89 L620.70 271.32 L621.20 272.82 L621.70 272.07 L622.20 271.86 L622.70 273.05 L623.20 272.83 L623.70 271.73 L624.20 272.91 L624.70 273.02 L625.20 272.64 L625.70 272.92 L626.20 272.11 L626.70 270.42 L627.20 272.54 L627.70 273.04 L628.20 271.79 L628.70 272.61 L629.20 273.05 L629.70 270.49 L630.20 272.47 L630.70 272.94 L631.20 272.99 L631.70 270.05 L632.20 272.08 L632.70 272.31 L633.20 272.18 L633.70 271.18 L634.20 271.27 L634.70 273.01 L635.20 270.26 L635.70 273.25 L636.20 271.58 L636.70 272.15 L637.20 272.54 L637.70 272.93 L638.20 271.20 L638.70 272.46 L639.20 273.28 L639.70 272.11 L640.20 270.91 L640.70 273.06 L641.20 273.33 L641.70 272.26 L642.20 272.45 L642.70 272.75 L643.20 272.19 L643.70 272.89 L644.20 273.08 L644.70 271.93 L645.20 273.22 L645.70 271.70 L646.20 272.42 L646.70 272.58 L647.20 269.50 L647.70 273.22 L648.20 272.18 L648.70 271.58 L649.20 273.32 L649.70 271.15 L650.20 272.02 L650.70 273.00 L651.20 271.85 L651.70 271.08 L652.20 271.65 L652.70 272.63 L653.20 272.58 L653.70 272.17 L654.20 273.10 L654.70 272.15 L655.20 272.74 L655.70 271.65 L656.20 272.82 L656.70 273.02 L657.20 271.95 L657.70 273.01 L658.20 273.39 L658.70 269.81 L659.20 271.82 L659.70 273.07 L660.20 271.16 L660.70 273.17 L661.20 272.25 L661.70 271.08 L662.20 271.46 L662.70 273.29 L663.20 272.28 L663.70 270.96 L664.20 272.59 L664.70 272.90 L665.20 272.41 L665.70 272.78 L666.20 273.08 L666.70 272.67 L667.20 271.26 L667.70 272.52 L668.20 271.24 L668.70 273.16 L669.20 272.60 L669.70 272.91 L670.20 272.82 L670.70 272.35 L671.20 272.93 L671.70 272.04 L672.20 271.45 L672.70 271.17 L673.20 272.91 L673.70 272.28 L674.20 273.33 L674.70 271.45 L675.20 272.51 L675.70 273.06 L676.20 273.31 L676.70 272.38 L677.20 271.77 L677.70 273.25 L678.20 272.85 L678.70 272.96 L679.20 273.19 L679.70 273.24 L680.20 272.05 L680.70 273.13 L681.20 272.54 L681.70 272.38 L682.20 273.24 L682.20 282.40 L681.70 283.67 L681.20 282.40 L680.70 282.04 L680.20 282.67 L679.70 283.23 L679.20 283.30 L678.70 283.22 L678.20 282.10 L677.70 282.27 L677.20 283.86 L676.70 282.84 L676.20 282.11 L675.70 282.55 L675.20 283.21 L674.70 282.24 L674.20 284.70 L673.70 285.72 L673.20 283.96 L672.70 282.61 L672.20 282.95 L671.70 283.44 L671.20 282.83 L670.70 282.17 L670.20 283.92 L669.70 283.89 L669.20 282.05 L668.70 285.07 L668.20 283.96 L667.70 282.39 L667.20 283.12 L666.70 282.02 L666.20 282.25 L665.70 282.49 L665.20 282.35 L664.70 283.46 L664.20 283.10 L663.70 283.00 L663.20 282.99 L662.70 283.52 L662.20 283.11 L661.70 282.59 L661.20 282.92 L660.70 283.07 L660.20 285.25 L659.70 282.78 L659.20 282.10 L658.70 282.93 L658.20 283.20 L657.70 283.75 L657.20 282.55 L656.70 283.03 L656.20 282.48 L655.70 285.32 L655.20 284.50 L654.70 284.54 L654.20 282.73 L653.70 285.37 L653.20 282.77 L652.70 284.46 L652.20 282.20 L651.70 282.46 L651.20 282.23 L650.70 285.37 L650.20 282.78 L649.70 283.20 L649.20 287.67 L648.70 282.24 L648.20 283.27 L647.70 283.18 L647.20 282.20 L646.70 284.08 L646.20 282.94 L645.70 282.65 L645.20 284.25 L644.70 282.28 L644.20 282.38 L643.70 282.67 L643.20 283.25 L642.70 282.78 L642.20 282.85 L641.70 282.13 L641.20 282.41 L640.70 282.31 L640.20 284.49 L639.70 282.27 L639.20 283.09 L638.70 282.14 L638.20 282.93 L637.70 283.03 L637.20 282.63 L636.70 282.82 L636.20 282.10 L635.70 282.13 L635.20 283.09 L634.70 282.61 L634.20 282.96 L633.70 282.49 L633.20 282.56 L632.70 282.15 L632.20 282.42 L631.70 282.07 L631.20 282.24 L630.70 282.49 L630.20 282.74 L629.70 282.92 L629.20 282.70 L628.70 286.16 L628.20 284.05 L627.70 282.11 L627.20 282.40 L626.70 283.62 L626.20 282.70 L625.70 282.06 L625.20 282.61 L624.70 284.91 L624.20 283.07 L623.70 282.43 L623.20 283.01 L622.70 283.85 L622.20 282.30 L621.70 283.81 L621.20 282.86 L620.70 282.60 L620.20 282.07 L619.70 282.08 L619.20 282.95 L618.70 283.57 L618.20 284.65 L617.70 284.12 L617.20 283.14 L616.70 282.35 L616.20 284.16 L615.70 282.48 L615.20 282.17 L614.70 282.71 L614.20 282.16 L613.70 282.16 L613.20 283.42 L612.70 283.81 L612.20 283.24 L611.70 282.31 L611.20 283.67 L610.70 282.61 L610.20 283.64 L609.70 282.50 L609.20 282.99 L608.70 284.70 L608.20 283.21 L607.70 282.83 L607.20 283.80 L606.70 282.81 L606.20 282.21 L605.70 283.09 L605.20 283.25 L604.70 283.14 L604.20 282.33 L603.70 283.39 L603.20 283.34 L602.70 283.14 L602.20 282.69 L601.70 282.47 L601.20 282.44 L600.70 283.29 L600.20 283.52 L599.70 282.09 L599.20 282.38 L598.70 282.24 L598.20 282.53 L597.70 283.18 L597.20 283.92 L596.70 282.49 L596.20 282.25 L595.70 283.15 L595.20 282.73 L594.70 282.44 L594.20 283.31 L593.70 282.32 L593.20 282.79 L592.70 282.17 L592.20 283.41 L591.70 285.09 L591.20 282.09 L590.70 282.06 L590.20 282.44 L589.70 282.94 L589.20 283.31 L588.70 282.28 L588.20 282.11 L587.70 282.52 L587.20 283.02 L586.70 283.21 L586.20 284.14 L585.70 283.04 L585.20 282.09 L584.70 282.86 L584.20 282.44 L583.70 282.82 L583.20 282.03 L582.70 282.13 L582.20 282.78 L581.70 283.81 L581.20 283.63 L580.70 283.34 L580.20 282.70 L579.70 283.62 L579.20 283.22 L578.70 282.33 L578.20 282.20 L577.70 282.03 L577.20 283.06 L576.70 284.45 L576.20 282.37 L575.70 282.29 L575.20 282.27 L574.70 282.37 L574.20 282.99 L573.70 283.90 L573.20 282.62 L572.70 282.53 L572.20 283.11 L571.70 282.25 L571.20 283.13 L570.70 282.80 L570.20 283.06 L569.70 283.67 L569.20 282.51 L568.70 283.34 L568.20 283.77 L567.70 282.13 L567.20 284.00 L566.70 283.73 L566.20 282.42 L565.70 283.63 L565.20 282.17 L564.70 283.54 L564.20 282.05 L563.70 283.09 L563.20 282.50 L562.70 284.40 L562.20 283.73 L561.70 282.71 L561.20 283.90 L560.70 285.03 L560.20 282.22 L559.70 282.45 L559.20 284.90 L558.70 283.00 L558.20 282.25 L557.70 283.22 L557.20 284.77 L556.70 283.51 L556.20 282.67 L555.70 283.13 L555.20 282.18 L554.70 283.88 L554.20 282.21 L553.70 283.01 L553.20 283.20 L552.70 282.75 L552.20 282.40 L551.70 282.56 L551.20 283.02 L550.70 283.49 L550.20 282.51 L549.70 282.36 L549.20 283.36 L548.70 283.38 L548.20 282.14 L547.70 283.82 L547.20 282.57 L546.70 283.49 L546.20 283.20 L545.70 282.89 L545.20 283.28 L544.70 282.33 L544.20 282.54 L543.70 283.27 L543.20 282.01 L542.70 283.36 L542.20 282.00 L541.70 282.21 L541.20 282.29 L540.70 285.33 L540.20 282.48 L539.70 282.30 L539.20 282.71 L538.70 283.25 L538.20 282.16 L537.70 283.18 L537.20 282.34 L536.70 282.45 L536.20 283.24 L535.70 282.37 L535.20 284.42 L534.70 286.52 L534.20 283.10 L533.70 282.52 L533.20 284.14 L532.70 284.03 L532.20 282.26 L531.70 282.95 L531.20 283.96 L530.70 282.74 L530.20 284.13 L529.70 282.26 L529.20 282.57 L528.70 283.03 L528.20 282.21 L527.70 283.89 L527.20 282.96 L526.70 282.21 L526.20 282.20 L525.70 282.87 L525.20 283.95 L524.70 282.22 L524.20 282.66 L523.70 282.29 L523.20 282.16 L522.70 282.01 L522.20 284.16 L521.70 286.94 L521.20 283.17 L520.70 282.91 L520.20 284.20 L519.70 282.57 L519.20 282.10 L518.70 283.03 L518.20 282.73 L517.70 282.66 L517.20 282.37 L516.70 283.24 L516.20 283.31 L515.70 282.47 L515.20 282.79 L514.70 283.08 L514.20 282.25 L513.70 285.94 L513.20 282.31 L512.70 283.50 Z" fill="#d95e1b"/>
<line x1="608.59" y1="242.6" x2="608.59" y2="276" stroke="#d95e1b" stroke-width="1.1"/>
<path d="M512.70 310.29 L513.20 309.61 L513.70 310.17 L514.20 311.67 L514.70 311.21 L515.20 311.51 L515.70 309.27 L516.20 309.28 L516.70 309.95 L517.20 310.56 L517.70 311.24 L518.20 308.76 L518.70 310.88 L519.20 306.70 L519.70 311.57 L520.20 310.32 L520.70 311.04 L521.20 311.07 L521.70 310.15 L522.20 308.88 L522.70 309.64 L523.20 310.70 L523.70 311.10 L524.20 311.50 L524.70 310.97 L525.20 307.49 L525.70 311.37 L526.20 310.26 L526.70 310.33 L527.20 309.35 L527.70 309.76 L528.20 311.14 L528.70 310.07 L529.20 310.89 L529.70 310.34 L530.20 310.66 L530.70 311.43 L531.20 310.91 L531.70 310.19 L532.20 309.55 L532.70 310.70 L533.20 310.34 L533.70 308.73 L534.20 310.55 L534.70 311.01 L535.20 311.40 L535.70 310.22 L536.20 311.00 L536.70 311.35 L537.20 311.64 L537.70 309.46 L538.20 310.48 L538.70 310.48 L539.20 310.00 L539.70 310.45 L540.20 309.56 L540.70 310.98 L541.20 308.93 L541.70 309.13 L542.20 311.20 L542.70 310.79 L543.20 310.54 L543.70 310.93 L544.20 310.79 L544.70 311.39 L545.20 310.76 L545.70 310.23 L546.20 311.52 L546.70 310.70 L547.20 310.70 L547.70 311.63 L548.20 311.27 L548.70 310.24 L549.20 309.53 L549.70 310.29 L550.20 309.07 L550.70 311.23 L551.20 309.61 L551.70 311.23 L552.20 310.20 L552.70 310.79 L553.20 311.42 L553.70 309.80 L554.20 311.59 L554.70 309.90 L555.20 310.99 L555.70 311.09 L556.20 309.18 L556.70 311.23 L557.20 310.58 L557.70 309.96 L558.20 309.07 L558.70 311.57 L559.20 311.06 L559.70 311.64 L560.20 310.17 L560.70 310.96 L561.20 308.21 L561.70 309.97 L562.20 309.95 L562.70 310.91 L563.20 310.86 L563.70 310.85 L564.20 310.84 L564.70 311.63 L565.20 309.26 L565.70 310.35 L566.20 310.49 L566.70 311.07 L567.20 311.17 L567.70 311.50 L568.20 309.78 L568.70 308.85 L569.20 311.24 L569.70 311.62 L570.20 309.07 L570.70 310.74 L571.20 311.24 L571.70 310.92 L572.20 309.36 L572.70 310.59 L573.20 310.58 L573.70 310.55 L574.20 309.95 L574.70 311.09 L575.20 310.80 L575.70 310.27 L576.20 310.21 L576.70 310.50 L577.20 311.24 L577.70 310.92 L578.20 311.26 L578.70 311.68 L579.20 311.69 L579.70 311.44 L580.20 310.92 L580.70 310.55 L581.20 310.99 L581.70 311.41 L582.20 311.40 L582.70 311.26 L583.20 310.32 L583.70 309.84 L584.20 310.67 L584.70 310.80 L585.20 310.80 L585.70 311.53 L586.20 310.46 L586.70 310.34 L587.20 309.95 L587.70 310.16 L588.20 311.05 L588.70 310.66 L589.20 311.16 L589.70 310.72 L590.20 309.81 L590.70 311.18 L591.20 310.88 L591.70 309.31 L592.20 311.23 L592.70 310.69 L593.20 309.51 L593.70 310.98 L594.20 310.19 L594.70 311.25 L595.20 311.59 L595.70 311.41 L596.20 310.25 L596.70 310.66 L597.20 309.16 L597.70 308.81 L598.20 310.23 L598.70 311.26 L599.20 311.45 L599.70 311.38 L600.20 310.86 L600.70 310.27 L601.20 311.53 L601.70 310.86 L602.20 309.87 L602.70 311.09 L603.20 310.59 L603.70 309.43 L604.20 310.68 L604.70 310.95 L605.20 311.46 L605.70 311.28 L606.20 310.82 L606.70 310.08 L607.20 311.35 L607.70 309.95 L608.20 310.47 L608.70 310.75 L609.20 308.89 L609.70 311.52 L610.20 310.51 L610.70 311.34 L611.20 310.81 L611.70 311.32 L612.20 311.46 L612.70 308.27 L613.20 311.22 L613.70 309.66 L614.20 310.56 L614.70 310.42 L615.20 311.16 L615.70 310.57 L616.20 309.55 L616.70 311.44 L617.20 310.12 L617.70 309.68 L618.20 311.46 L618.70 311.44 L619.20 311.30 L619.70 311.25 L620.20 308.32 L620.70 311.17 L621.20 311.42 L621.70 311.49 L622.20 310.86 L622.70 311.21 L623.20 310.77 L623.70 311.61 L624.20 311.63 L624.70 309.64 L625.20 308.06 L625.70 311.56 L626.20 310.16 L626.70 311.05 L627.20 311.47 L627.70 309.84 L628.20 310.80 L628.70 310.98 L629.20 310.34 L629.70 309.76 L630.20 311.29 L630.70 310.86 L631.20 311.49 L631.70 308.84 L632.20 311.34 L632.70 311.46 L633.20 311.40 L633.70 311.15 L634.20 311.33 L634.70 310.21 L635.20 311.36 L635.70 311.68 L636.20 310.60 L636.70 311.46 L637.20 311.41 L637.70 311.27 L638.20 311.20 L638.70 311.12 L639.20 310.46 L639.70 311.21 L640.20 311.63 L640.70 310.52 L641.20 311.56 L641.70 307.68 L642.20 310.44 L642.70 311.44 L643.20 309.65 L643.70 310.48 L644.20 311.14 L644.70 310.17 L645.20 308.92 L645.70 310.06 L646.20 308.64 L646.70 311.49 L647.20 311.33 L647.70 309.91 L648.20 308.00 L648.70 309.19 L649.20 311.28 L649.70 311.61 L650.20 311.04 L650.70 311.21 L651.20 309.97 L651.70 310.45 L652.20 309.89 L652.70 310.87 L653.20 309.81 L653.70 311.24 L654.20 311.08 L654.70 311.69 L655.20 310.63 L655.70 311.21 L656.20 311.30 L656.70 311.64 L657.20 311.51 L657.70 311.11 L658.20 311.53 L658.70 311.17 L659.20 309.97 L659.70 311.02 L660.20 311.64 L660.70 311.55 L661.20 311.64 L661.70 311.25 L662.20 311.52 L662.70 311.20 L663.20 310.90 L663.70 310.77 L664.20 310.43 L664.70 311.15 L665.20 311.39 L665.70 311.47 L666.20 310.87 L666.70 309.86 L667.20 310.76 L667.70 310.97 L668.20 310.85 L668.70 311.08 L669.20 311.27 L669.70 309.08 L670.20 311.16 L670.70 309.37 L671.20 309.56 L671.70 310.54 L672.20 309.62 L672.70 311.51 L673.20 310.88 L673.70 310.82 L674.20 311.04 L674.70 310.21 L675.20 310.31 L675.70 311.14 L676.20 311.29 L676.70 310.80 L677.20 310.06 L677.70 311.24 L678.20 311.01 L678.70 311.41 L679.20 311.50 L679.70 309.38 L680.20 310.78 L680.70 310.83 L681.20 310.62 L681.70 308.80 L682.20 311.33 L682.20 320.55 L681.70 320.95 L681.20 321.52 L680.70 321.25 L680.20 321.68 L679.70 320.40 L679.20 322.52 L678.70 320.60 L678.20 321.11 L677.70 322.06 L677.20 322.68 L676.70 322.93 L676.20 321.10 L675.70 321.09 L675.20 320.66 L674.70 321.15 L674.20 321.98 L673.70 320.88 L673.20 321.69 L672.70 320.72 L672.20 321.12 L671.70 321.23 L671.20 320.60 L670.70 320.41 L670.20 321.22 L669.70 320.56 L669.20 321.97 L668.70 321.27 L668.20 322.17 L667.70 320.57 L667.20 321.78 L666.70 322.24 L666.20 322.53 L665.70 320.45 L665.20 321.08 L664.70 320.77 L664.20 320.33 L663.70 320.98 L663.20 320.35 L662.70 325.51 L662.20 321.97 L661.70 324.30 L661.20 320.87 L660.70 323.43 L660.20 321.60 L659.70 322.13 L659.20 321.27 L658.70 323.36 L658.20 322.55 L657.70 320.85 L657.20 320.60 L656.70 320.30 L656.20 321.91 L655.70 321.28 L655.20 321.71 L654.70 320.35 L654.20 320.39 L653.70 320.75 L653.20 322.22 L652.70 321.67 L652.20 320.92 L651.70 321.27 L651.20 321.92 L650.70 320.84 L650.20 322.12 L649.70 321.93 L649.20 322.24 L648.70 321.24 L648.20 320.42 L647.70 322.30 L647.20 321.70 L646.70 321.80 L646.20 322.08 L645.70 321.54 L645.20 320.50 L644.70 320.56 L644.20 320.32 L643.70 322.90 L643.20 321.59 L642.70 320.77 L642.20 321.75 L641.70 321.62 L641.20 321.38 L640.70 321.55 L640.20 321.43 L639.70 322.53 L639.20 321.20 L638.70 321.05 L638.20 321.51 L637.70 320.90 L637.20 320.69 L636.70 323.20 L636.20 321.08 L635.70 320.36 L635.20 320.81 L634.70 321.50 L634.20 320.55 L633.70 320.48 L633.20 321.92 L632.70 320.55 L632.20 320.32 L631.70 320.88 L631.20 322.75 L630.70 321.15 L630.20 322.23 L629.70 322.77 L629.20 321.57 L628.70 321.15 L628.20 320.76 L627.70 320.92 L627.20 320.99 L626.70 323.05 L626.20 322.56 L625.70 320.51 L625.20 323.39 L624.70 320.41 L624.20 320.94 L623.70 321.85 L623.20 321.30 L622.70 320.61 L622.20 321.48 L621.70 322.30 L621.20 320.42 L620.70 320.68 L620.20 320.82 L619.70 320.42 L619.20 322.03 L618.70 321.53 L618.20 321.53 L617.70 320.31 L617.20 321.89 L616.70 320.36 L616.20 321.74 L615.70 320.69 L615.20 323.24 L614.70 320.51 L614.20 321.93 L613.70 321.77 L613.20 320.51 L612.70 320.79 L612.20 320.71 L611.70 320.35 L611.20 320.76 L610.70 321.66 L610.20 321.86 L609.70 321.29 L609.20 320.97 L608.70 320.97 L608.20 321.16 L607.70 320.77 L607.20 320.56 L606.70 320.75 L606.20 322.28 L605.70 320.68 L605.20 320.96 L604.70 322.47 L604.20 321.70 L603.70 320.52 L603.20 321.76 L602.70 320.76 L602.20 320.46 L601.70 320.87 L601.20 321.53 L600.70 320.89 L600.20 321.78 L599.70 321.19 L599.20 321.43 L598.70 320.68 L598.20 322.41 L597.70 320.63 L597.20 320.57 L596.70 321.97 L596.20 322.94 L595.70 322.18 L595.20 322.20 L594.70 320.54 L594.20 321.30 L593.70 321.61 L593.20 320.54 L592.70 321.22 L592.20 322.94 L591.70 321.41 L591.20 321.93 L590.70 322.82 L590.20 321.51 L589.70 321.65 L589.20 321.03 L588.70 320.73 L588.20 320.82 L587.70 320.62 L587.20 324.78 L586.70 320.88 L586.20 320.61 L585.70 320.88 L585.20 321.96 L584.70 322.01 L584.20 322.99 L583.70 322.56 L583.20 320.40 L582.70 321.18 L582.20 320.62 L581.70 321.20 L581.20 321.90 L580.70 321.97 L580.20 322.15 L579.70 321.43 L579.20 322.01 L578.70 320.80 L578.20 321.24 L577.70 320.99 L577.20 321.53 L576.70 321.48 L576.20 320.46 L575.70 321.07 L575.20 320.83 L574.70 321.59 L574.20 320.86 L573.70 320.68 L573.20 322.51 L572.70 320.43 L572.20 321.51 L571.70 322.26 L571.20 321.06 L570.70 320.50 L570.20 322.18 L569.70 320.56 L569.20 322.04 L568.70 320.81 L568.20 322.38 L567.70 324.17 L567.20 321.05 L566.70 321.28 L566.20 320.88 L565.70 320.30 L565.20 320.92 L564.70 322.79 L564.20 321.46 L563.70 321.81 L563.20 321.03 L562.70 321.09 L562.20 320.60 L561.70 320.84 L561.20 323.38 L560.70 320.79 L560.20 321.21 L559.70 321.05 L559.20 320.37 L558.70 321.81 L558.20 320.40 L557.70 320.94 L557.20 321.12 L556.70 320.75 L556.20 320.62 L555.70 321.73 L555.20 322.89 L554.70 322.65 L554.20 320.66 L553.70 320.61 L553.20 322.50 L552.70 321.61 L552.20 320.50 L551.70 322.34 L551.20 321.22 L550.70 320.94 L550.20 320.60 L549.70 320.99 L549.20 324.22 L548.70 321.90 L548.20 321.71 L547.70 321.31 L547.20 321.59 L546.70 320.37 L546.20 321.18 L545.70 320.42 L545.20 320.65 L544.70 321.63 L544.20 320.83 L543.70 320.83 L543.20 320.50 L542.70 321.20 L542.20 320.74 L541.70 322.34 L541.20 321.48 L540.70 321.20 L540.20 320.87 L539.70 321.15 L539.20 324.07 L538.70 320.31 L538.20 321.34 L537.70 321.02 L537.20 320.70 L536.70 324.02 L536.20 320.42 L535.70 321.75 L535.20 321.85 L534.70 322.09 L534.20 322.27 L533.70 320.75 L533.20 322.17 L532.70 321.71 L532.20 320.81 L531.70 320.41 L531.20 323.09 L530.70 321.66 L530.20 322.04 L529.70 321.91 L529.20 320.81 L528.70 320.72 L528.20 320.68 L527.70 320.44 L527.20 320.31 L526.70 322.17 L526.20 321.84 L525.70 320.84 L525.20 322.63 L524.70 320.79 L524.20 320.62 L523.70 320.62 L523.20 320.59 L522.70 322.02 L522.20 320.96 L521.70 321.55 L521.20 321.23 L520.70 322.20 L520.20 320.38 L519.70 320.49 L519.20 323.12 L518.70 322.36 L518.20 321.85 L517.70 320.85 L517.20 323.21 L516.70 320.74 L516.20 320.57 L515.70 320.33 L515.20 320.93 L514.70 322.93 L514.20 323.12 L513.70 322.38 L513.20 323.01 L512.70 321.68 Z" fill="#5d6a8c"/>
<path d="M656 305.5V316M659.6 305.2V316M677 306V316M663 316V326M642 316V324.5M652 316V323.5" stroke="#5d6a8c" stroke-width="0.9"/>
<path d="M673.6 269.6V277M667.5 277V285.8M560 277V285.5M541 270V277" stroke="#d95e1b" stroke-width="0.9"/>
<rect x="512.2" y="218.1" width="170.10" height="137.20" fill="none" stroke="#6a6a6a" stroke-width="0.9"/>
<path d="M540.55 355.30v-1.8M568.90 355.30v-1.8M597.25 355.30v-1.8M625.60 355.30v-1.8M653.95 355.30v-1.8" stroke="#6a6a6a" stroke-width="0.8" fill="none"/>
<text x="512.20" y="367.80" font-size="9.5" text-anchor="middle" fill="#333333" >150</text>
<text x="568.90" y="367.80" font-size="9.5" text-anchor="middle" fill="#333333" >100</text>
<text x="625.60" y="367.80" font-size="9.5" text-anchor="middle" fill="#333333" >50</text>
<text x="682.30" y="367.80" font-size="9.5" text-anchor="middle" fill="#333333" >0</text>
<line x1="515.7" y1="228.3" x2="525" y2="228.3" stroke="#d95e1b" stroke-width="1.1"/>
<line x1="515.7" y1="243.2" x2="525" y2="243.2" stroke="#5b6a95" stroke-width="1.1"/>
<text x="529.60" y="232.00" font-size="9.6" text-anchor="start" fill="#333333" ><tspan dy="-3.6" font-size="6.2">13</tspan><tspan dy="3.6">CH</tspan><tspan dy="2.5" font-size="5.2">4</tspan></text>
<text x="529.60" y="247.00" font-size="9.6" text-anchor="start" fill="#333333" ><tspan dy="-3.6" font-size="6.2">12</tspan><tspan dy="3.6">CH</tspan><tspan dy="2.5" font-size="5.2">4</tspan></text>
<text x="593.00" y="233.90" font-size="9.6" text-anchor="start" fill="#333333" ><tspan fill="#e8202a">C</tspan>H<tspan dy="2.5" font-size="5.2">3</tspan><tspan dy="-2.5">OOH</tspan></text>
<text x="597.30" y="385.60" font-size="10.8" text-anchor="middle" fill="#333333" textLength="101.5" lengthAdjust="spacingAndGlyphs">Chemical shift (ppm)</text>
<text transform="translate(505.20,286.00) rotate(-90)" font-size="10.8" text-anchor="middle" fill="#333333">Intensity (a.u.)</text>
<text x="0" y="412.8" font-size="14.6" font-weight="bold" fill="#000" stroke="#000" stroke-width="0.7">f</text>
<path d="M36.40 471.40 L36.90 471.30 L37.40 471.41 L37.90 471.12 L38.40 471.22 L38.90 470.14 L39.40 471.51 L39.90 471.22 L40.40 471.80 L40.90 471.74 L41.40 472.42 L41.90 471.99 L42.40 471.88 L42.90 471.60 L43.40 472.37 L43.90 471.02 L44.40 472.25 L44.90 471.59 L45.40 471.62 L45.90 472.33 L46.40 471.88 L46.90 471.71 L47.40 472.34 L47.90 472.40 L48.40 472.45 L48.90 471.50 L49.40 472.29 L49.90 472.50 L50.40 471.77 L50.90 469.02 L51.40 472.30 L51.90 472.35 L52.40 472.34 L52.90 472.12 L53.40 472.20 L53.90 472.07 L54.40 471.19 L54.90 469.36 L55.40 472.32 L55.90 472.40 L56.40 471.09 L56.90 472.04 L57.40 471.73 L57.90 472.05 L58.40 471.62 L58.90 470.68 L59.40 471.38 L59.90 472.30 L60.40 471.85 L60.90 470.98 L61.40 472.24 L61.90 471.98 L62.40 472.20 L62.90 470.91 L63.40 472.30 L63.90 471.68 L64.40 472.02 L64.90 471.42 L65.40 471.14 L65.90 468.21 L66.40 470.80 L66.90 470.83 L67.40 471.29 L67.90 471.58 L68.40 472.18 L68.90 472.37 L69.40 472.15 L69.90 471.25 L70.40 471.19 L70.90 471.11 L71.40 471.33 L71.90 472.15 L72.40 471.60 L72.90 470.04 L73.40 471.65 L73.90 471.66 L74.40 472.28 L74.90 472.33 L75.40 472.18 L75.90 471.76 L76.40 472.14 L76.90 472.14 L77.40 471.86 L77.90 471.41 L78.40 471.42 L78.90 471.46 L79.40 471.59 L79.90 471.12 L80.40 470.57 L80.90 472.04 L81.40 471.67 L81.90 470.99 L82.40 471.91 L82.90 472.13 L83.40 472.44 L83.90 472.14 L84.40 471.55 L84.90 471.63 L85.40 471.15 L85.90 471.78 L86.40 471.94 L86.90 472.06 L87.40 471.11 L87.90 471.86 L88.40 471.68 L88.90 470.98 L89.40 472.37 L89.90 471.34 L90.40 472.01 L90.90 472.23 L91.40 472.43 L91.90 468.91 L92.40 472.09 L92.90 472.32 L93.40 472.05 L93.90 471.49 L94.40 472.27 L94.90 472.21 L95.40 471.49 L95.90 471.30 L96.40 472.37 L96.90 472.03 L97.40 471.81 L97.90 469.55 L98.40 470.04 L98.90 471.19 L99.40 471.94 L99.90 470.15 L100.40 471.44 L100.90 472.48 L101.40 471.96 L101.90 470.48 L102.40 471.80 L102.90 471.82 L103.40 470.65 L103.90 471.02 L104.40 472.17 L104.90 470.10 L105.40 471.17 L105.90 472.00 L106.40 469.85 L106.90 471.25 L107.40 471.68 L107.90 470.28 L108.40 471.06 L108.90 472.05 L109.40 471.43 L109.90 472.48 L110.40 472.19 L110.90 472.20 L111.40 471.34 L111.90 471.78 L112.40 472.44 L112.90 472.04 L113.40 471.88 L113.90 470.96 L114.40 472.45 L114.90 470.99 L115.40 471.55 L115.90 472.44 L116.40 471.83 L116.90 472.40 L117.40 472.20 L117.90 470.64 L118.40 472.25 L118.90 470.75 L119.40 471.93 L119.90 472.11 L120.40 471.90 L120.90 469.93 L121.40 470.36 L121.90 471.46 L122.40 471.22 L122.90 472.17 L123.40 472.48 L123.90 472.42 L124.40 472.01 L124.90 471.98 L125.40 471.62 L125.90 470.77 L126.40 472.10 L126.90 471.60 L127.40 472.20 L127.90 472.19 L128.40 471.57 L128.90 471.35 L129.40 472.25 L129.90 471.97 L130.40 471.79 L130.90 472.08 L131.40 471.79 L131.90 468.79 L132.40 471.67 L132.90 471.18 L133.40 471.39 L133.90 472.21 L134.40 471.76 L134.90 472.38 L135.40 470.83 L135.90 471.88 L136.40 471.50 L136.90 472.02 L137.40 472.16 L137.90 471.44 L138.40 472.21 L138.90 471.10 L139.40 471.79 L139.90 470.17 L140.40 472.41 L140.90 472.31 L141.40 471.70 L141.90 471.46 L142.40 472.41 L142.90 472.37 L143.40 472.25 L143.90 472.11 L144.40 471.96 L144.90 472.21 L145.40 471.20 L145.90 471.89 L146.40 471.71 L146.90 472.36 L147.40 472.25 L147.90 472.10 L148.40 472.30 L148.90 472.00 L149.40 471.08 L149.90 471.31 L150.40 472.46 L150.90 471.73 L151.40 472.02 L151.90 471.43 L152.40 470.84 L152.90 472.16 L153.40 470.98 L153.90 472.30 L154.40 471.28 L154.90 472.43 L155.40 471.90 L155.90 471.62 L156.40 472.40 L156.90 471.20 L157.40 471.68 L157.90 471.94 L158.40 470.78 L158.90 471.44 L159.40 471.55 L159.90 471.14 L160.40 471.27 L160.90 472.08 L161.40 472.27 L161.90 472.45 L162.40 470.70 L162.90 471.87 L163.40 472.48 L163.90 472.38 L164.40 471.83 L164.90 470.73 L165.40 470.88 L165.90 472.12 L166.40 471.90 L166.90 472.03 L167.40 471.96 L167.90 472.12 L168.40 472.09 L168.90 471.03 L169.40 471.79 L169.90 472.37 L170.40 472.22 L170.90 471.58 L171.40 472.40 L171.90 472.28 L172.40 471.47 L172.90 472.35 L173.40 472.17 L173.90 471.95 L174.40 471.52 L174.90 471.54 L175.40 471.98 L175.90 471.44 L176.40 470.30 L176.90 471.87 L177.40 472.27 L177.90 471.87 L178.40 471.32 L178.90 472.10 L179.40 471.61 L179.90 470.74 L180.40 472.33 L180.90 471.75 L181.40 472.39 L181.90 472.17 L182.40 471.73 L182.90 472.09 L183.40 472.31 L183.90 472.49 L184.40 471.93 L184.90 472.29 L185.40 472.43 L185.90 472.45 L186.40 471.18 L186.90 472.32 L187.40 471.71 L187.90 471.15 L188.40 472.32 L188.90 472.19 L189.40 472.15 L189.90 472.10 L190.40 472.19 L190.90 472.43 L191.40 472.40 L191.90 471.52 L192.40 471.71 L192.90 471.91 L193.40 471.65 L193.90 472.31 L194.40 472.03 L194.90 472.30 L195.40 472.23 L195.90 472.07 L196.40 470.13 L196.90 471.61 L197.40 471.95 L197.90 470.76 L198.40 471.70 L198.90 471.90 L199.40 472.00 L199.90 472.16 L200.40 472.05 L200.90 469.44 L201.40 469.67 L201.90 471.72 L202.40 471.60 L202.90 472.10 L203.40 471.73 L203.90 471.63 L204.40 472.22 L204.90 472.29 L205.40 472.19 L205.40 479.89 L204.90 479.23 L204.40 480.77 L203.90 480.00 L203.40 480.00 L202.90 480.03 L202.40 479.83 L201.90 480.89 L201.40 479.45 L200.90 479.56 L200.40 479.34 L199.90 479.67 L199.40 479.87 L198.90 479.64 L198.40 479.61 L197.90 479.60 L197.40 479.41 L196.90 481.39 L196.40 479.35 L195.90 479.58 L195.40 480.50 L194.90 480.42 L194.40 479.23 L193.90 479.23 L193.40 480.57 L192.90 479.64 L192.40 479.20 L191.90 480.28 L191.40 479.95 L190.90 480.00 L190.40 481.13 L189.90 479.56 L189.40 480.01 L188.90 479.62 L188.40 479.91 L187.90 480.18 L187.40 480.01 L186.90 479.35 L186.40 483.04 L185.90 480.10 L185.40 479.75 L184.90 479.21 L184.40 479.80 L183.90 479.35 L183.40 481.73 L182.90 481.55 L182.40 480.48 L181.90 479.71 L181.40 480.29 L180.90 479.31 L180.40 479.74 L179.90 479.96 L179.40 479.49 L178.90 481.50 L178.40 479.37 L177.90 479.14 L177.40 480.67 L176.90 480.16 L176.40 479.38 L175.90 479.21 L175.40 479.77 L174.90 479.56 L174.40 479.31 L173.90 479.27 L173.40 480.57 L172.90 479.77 L172.40 481.74 L171.90 480.37 L171.40 479.85 L170.90 480.05 L170.40 479.70 L169.90 479.86 L169.40 481.10 L168.90 480.16 L168.40 479.23 L167.90 480.32 L167.40 479.20 L166.90 479.46 L166.40 479.20 L165.90 480.09 L165.40 480.04 L164.90 479.83 L164.40 479.10 L163.90 479.55 L163.40 480.26 L162.90 479.80 L162.40 479.93 L161.90 479.87 L161.40 479.28 L160.90 479.30 L160.40 479.96 L159.90 479.59 L159.40 479.25 L158.90 479.57 L158.40 479.16 L157.90 480.51 L157.40 479.70 L156.90 479.42 L156.40 480.26 L155.90 479.87 L155.40 479.16 L154.90 479.98 L154.40 479.59 L153.90 479.21 L153.40 479.86 L152.90 479.76 L152.40 479.18 L151.90 479.53 L151.40 479.18 L150.90 479.47 L150.40 480.28 L149.90 479.53 L149.40 479.24 L148.90 479.10 L148.40 481.03 L147.90 480.73 L147.40 479.45 L146.90 479.21 L146.40 481.52 L145.90 481.39 L145.40 479.19 L144.90 479.29 L144.40 479.45 L143.90 479.93 L143.40 479.41 L142.90 479.90 L142.40 479.90 L141.90 479.94 L141.40 479.89 L140.90 479.68 L140.40 483.44 L139.90 480.25 L139.40 479.66 L138.90 479.39 L138.40 479.82 L137.90 479.40 L137.40 479.30 L136.90 479.70 L136.40 479.23 L135.90 479.45 L135.40 479.11 L134.90 480.21 L134.40 479.89 L133.90 479.54 L133.40 480.26 L132.90 481.12 L132.40 479.83 L131.90 479.17 L131.40 479.52 L130.90 480.04 L130.40 480.44 L129.90 479.46 L129.40 479.68 L128.90 480.47 L128.40 480.35 L127.90 479.16 L127.40 479.63 L126.90 480.28 L126.40 480.67 L125.90 480.56 L125.40 480.63 L124.90 481.03 L124.40 480.03 L123.90 480.00 L123.40 479.73 L122.90 479.47 L122.40 479.82 L121.90 479.54 L121.40 480.06 L120.90 479.60 L120.40 480.09 L119.90 480.19 L119.40 479.74 L118.90 479.86 L118.40 479.83 L117.90 480.15 L117.40 479.43 L116.90 479.59 L116.40 479.48 L115.90 479.45 L115.40 479.51 L114.90 480.15 L114.40 481.13 L113.90 481.33 L113.40 479.42 L112.90 480.27 L112.40 480.82 L111.90 479.83 L111.40 479.80 L110.90 479.39 L110.40 479.18 L109.90 481.61 L109.40 479.79 L108.90 479.65 L108.40 480.35 L107.90 479.13 L107.40 479.56 L106.90 479.57 L106.40 479.27 L105.90 480.22 L105.40 479.65 L104.90 479.44 L104.40 479.22 L103.90 483.50 L103.40 479.16 L102.90 479.37 L102.40 479.60 L101.90 479.88 L101.40 479.20 L100.90 479.37 L100.40 480.35 L99.90 479.22 L99.40 479.50 L98.90 480.01 L98.40 481.61 L97.90 481.55 L97.40 480.23 L96.90 479.56 L96.40 479.13 L95.90 479.90 L95.40 480.05 L94.90 480.73 L94.40 479.75 L93.90 479.79 L93.40 480.43 L92.90 482.55 L92.40 480.00 L91.90 479.62 L91.40 479.90 L90.90 479.28 L90.40 480.75 L89.90 479.21 L89.40 481.54 L88.90 479.15 L88.40 480.91 L87.90 481.03 L87.40 480.07 L86.90 479.60 L86.40 479.39 L85.90 480.90 L85.40 480.25 L84.90 480.04 L84.40 479.67 L83.90 480.15 L83.40 479.56 L82.90 479.86 L82.40 479.18 L81.90 480.48 L81.40 479.70 L80.90 479.18 L80.40 480.26 L79.90 479.18 L79.40 479.19 L78.90 482.46 L78.40 479.32 L77.90 480.70 L77.40 480.06 L76.90 480.51 L76.40 479.22 L75.90 480.26 L75.40 479.49 L74.90 479.63 L74.40 479.12 L73.90 479.58 L73.40 480.88 L72.90 479.40 L72.40 480.21 L71.90 479.60 L71.40 480.20 L70.90 480.50 L70.40 479.69 L69.90 480.09 L69.40 480.13 L68.90 479.65 L68.40 482.00 L67.90 480.45 L67.40 479.47 L66.90 479.36 L66.40 480.59 L65.90 479.46 L65.40 481.26 L64.90 479.75 L64.40 479.96 L63.90 480.25 L63.40 479.55 L62.90 480.05 L62.40 479.62 L61.90 479.92 L61.40 479.64 L60.90 481.96 L60.40 479.18 L59.90 481.66 L59.40 480.05 L58.90 481.29 L58.40 479.90 L57.90 480.84 L57.40 480.88 L56.90 480.63 L56.40 479.52 L55.90 479.88 L55.40 479.14 L54.90 479.29 L54.40 479.26 L53.90 479.31 L53.40 479.21 L52.90 482.52 L52.40 480.24 L51.90 479.64 L51.40 479.77 L50.90 479.30 L50.40 481.18 L49.90 479.68 L49.40 479.58 L48.90 479.36 L48.40 480.32 L47.90 479.44 L47.40 479.78 L46.90 480.12 L46.40 480.86 L45.90 479.79 L45.40 480.05 L44.90 479.46 L44.40 479.29 L43.90 479.44 L43.40 479.80 L42.90 479.21 L42.40 479.10 L41.90 479.83 L41.40 479.43 L40.90 480.29 L40.40 479.29 L39.90 479.25 L39.40 479.29 L38.90 479.20 L38.40 479.39 L37.90 483.14 L37.40 480.26 L36.90 479.16 L36.40 479.44 Z" fill="#d95e1b"/>
<line x1="55.6" y1="463.6" x2="55.6" y2="474" stroke="#d95e1b" stroke-width="1.0"/>
<line x1="189.6" y1="464.8" x2="189.6" y2="474" stroke="#d95e1b" stroke-width="1.0"/>
<path d="M36.40 505.43 L36.90 505.27 L37.40 505.46 L37.90 505.26 L38.40 504.86 L38.90 504.97 L39.40 504.15 L39.90 504.16 L40.40 504.94 L40.90 504.89 L41.40 504.25 L41.90 505.03 L42.40 505.48 L42.90 504.87 L43.40 505.24 L43.90 504.74 L44.40 505.07 L44.90 505.20 L45.40 504.41 L45.90 504.60 L46.40 504.48 L46.90 504.57 L47.40 505.14 L47.90 505.06 L48.40 502.71 L48.90 505.45 L49.40 505.30 L49.90 504.75 L50.40 503.38 L50.90 503.17 L51.40 505.45 L51.90 505.44 L52.40 505.37 L52.90 504.35 L53.40 505.17 L53.90 505.29 L54.40 504.36 L54.90 505.34 L55.40 503.97 L55.90 504.51 L56.40 503.71 L56.90 504.96 L57.40 505.32 L57.90 504.61 L58.40 504.50 L58.90 505.17 L59.40 504.84 L59.90 502.73 L60.40 505.16 L60.90 504.51 L61.40 505.16 L61.90 504.60 L62.40 504.01 L62.90 504.94 L63.40 503.31 L63.90 505.44 L64.40 505.23 L64.90 505.31 L65.40 504.65 L65.90 504.53 L66.40 505.47 L66.90 503.92 L67.40 505.35 L67.90 505.46 L68.40 505.39 L68.90 502.72 L69.40 504.37 L69.90 504.16 L70.40 505.28 L70.90 504.64 L71.40 504.76 L71.90 504.42 L72.40 503.91 L72.90 504.87 L73.40 505.27 L73.90 504.95 L74.40 504.63 L74.90 505.40 L75.40 504.96 L75.90 504.88 L76.40 505.29 L76.90 505.42 L77.40 503.98 L77.90 505.06 L78.40 504.45 L78.90 505.40 L79.40 504.97 L79.90 503.86 L80.40 504.55 L80.90 504.90 L81.40 505.37 L81.90 505.20 L82.40 505.42 L82.90 505.19 L83.40 504.71 L83.90 505.48 L84.40 505.49 L84.90 504.46 L85.40 504.39 L85.90 505.04 L86.40 505.05 L86.90 504.27 L87.40 505.32 L87.90 505.27 L88.40 505.01 L88.90 502.15 L89.40 504.00 L89.90 502.79 L90.40 505.40 L90.90 504.29 L91.40 505.20 L91.90 504.46 L92.40 501.84 L92.90 505.47 L93.40 502.10 L93.90 505.39 L94.40 503.00 L94.90 504.81 L95.40 505.02 L95.90 505.45 L96.40 502.95 L96.90 504.58 L97.40 504.72 L97.90 505.44 L98.40 505.21 L98.90 504.96 L99.40 504.23 L99.90 505.39 L100.40 505.33 L100.90 504.09 L101.40 504.77 L101.90 505.27 L102.40 505.21 L102.90 504.77 L103.40 505.03 L103.90 505.30 L104.40 504.80 L104.90 505.36 L105.40 505.06 L105.90 504.44 L106.40 505.04 L106.90 505.31 L107.40 504.31 L107.90 505.08 L108.40 505.45 L108.90 504.82 L109.40 503.91 L109.90 505.06 L110.40 505.22 L110.90 505.40 L111.40 504.45 L111.90 505.42 L112.40 503.49 L112.90 505.48 L113.40 505.22 L113.90 504.56 L114.40 505.07 L114.90 504.52 L115.40 505.09 L115.90 504.68 L116.40 505.07 L116.90 505.20 L117.40 504.59 L117.90 504.85 L118.40 505.14 L118.90 504.19 L119.40 505.42 L119.90 504.53 L120.40 504.93 L120.90 505.26 L121.40 505.04 L121.90 505.46 L122.40 505.15 L122.90 505.46 L123.40 504.70 L123.90 504.88 L124.40 502.37 L124.90 505.11 L125.40 505.01 L125.90 504.53 L126.40 504.87 L126.90 505.44 L127.40 503.95 L127.90 504.59 L128.40 504.82 L128.90 505.44 L129.40 505.03 L129.90 504.67 L130.40 504.75 L130.90 503.75 L131.40 504.70 L131.90 504.60 L132.40 505.38 L132.90 505.43 L133.40 504.68 L133.90 505.39 L134.40 504.86 L134.90 504.11 L135.40 505.27 L135.90 505.27 L136.40 504.76 L136.90 504.84 L137.40 503.84 L137.90 504.03 L138.40 504.54 L138.90 505.19 L139.40 504.93 L139.90 505.04 L140.40 504.98 L140.90 505.06 L141.40 504.83 L141.90 504.77 L142.40 504.68 L142.90 505.14 L143.40 504.70 L143.90 504.44 L144.40 505.35 L144.90 505.06 L145.40 504.94 L145.90 504.13 L146.40 504.26 L146.90 505.15 L147.40 504.53 L147.90 504.90 L148.40 505.33 L148.90 504.72 L149.40 504.62 L149.90 504.90 L150.40 504.52 L150.90 503.43 L151.40 503.28 L151.90 504.65 L152.40 504.50 L152.90 503.21 L153.40 504.71 L153.90 504.62 L154.40 505.03 L154.90 504.47 L155.40 505.13 L155.90 505.50 L156.40 504.08 L156.90 504.00 L157.40 504.76 L157.90 504.34 L158.40 505.29 L158.90 504.90 L159.40 503.54 L159.90 505.22 L160.40 503.52 L160.90 505.08 L161.40 504.58 L161.90 504.47 L162.40 504.94 L162.90 504.59 L163.40 505.25 L163.90 504.97 L164.40 504.11 L164.90 504.32 L165.40 505.09 L165.90 505.16 L166.40 505.21 L166.90 505.34 L167.40 505.39 L167.90 504.62 L168.40 505.13 L168.90 505.47 L169.40 503.32 L169.90 505.31 L170.40 503.55 L170.90 505.39 L171.40 505.43 L171.90 503.96 L172.40 505.11 L172.90 504.72 L173.40 504.48 L173.90 504.60 L174.40 504.90 L174.90 505.34 L175.40 504.27 L175.90 502.66 L176.40 505.43 L176.90 505.36 L177.40 504.44 L177.90 504.98 L178.40 504.56 L178.90 505.33 L179.40 504.71 L179.90 505.34 L180.40 505.44 L180.90 505.47 L181.40 505.00 L181.90 504.91 L182.40 504.34 L182.90 503.67 L183.40 504.81 L183.90 505.07 L184.40 505.34 L184.90 503.41 L185.40 503.59 L185.90 503.54 L186.40 505.07 L186.90 505.23 L187.40 505.32 L187.90 504.70 L188.40 504.08 L188.90 505.23 L189.40 503.58 L189.90 504.77 L190.40 505.39 L190.90 504.13 L191.40 505.41 L191.90 503.18 L192.40 504.35 L192.90 503.93 L193.40 505.49 L193.90 504.81 L194.40 504.04 L194.90 505.19 L195.40 505.31 L195.90 503.17 L196.40 505.32 L196.90 505.12 L197.40 505.46 L197.90 505.49 L198.40 505.30 L198.90 502.81 L199.40 505.38 L199.90 502.58 L200.40 505.14 L200.90 504.17 L201.40 505.35 L201.90 504.51 L202.40 502.97 L202.90 505.49 L203.40 504.58 L203.90 505.34 L204.40 504.65 L204.90 504.80 L205.40 504.80 L205.40 512.79 L204.90 512.72 L204.40 511.85 L203.90 514.56 L203.40 512.65 L202.90 511.76 L202.40 511.73 L201.90 513.38 L201.40 511.77 L200.90 512.30 L200.40 512.41 L199.90 512.39 L199.40 512.07 L198.90 512.23 L198.40 511.91 L197.90 511.97 L197.40 512.41 L196.90 512.35 L196.40 512.00 L195.90 512.00 L195.40 512.75 L194.90 512.00 L194.40 511.85 L193.90 512.25 L193.40 512.72 L192.90 513.03 L192.40 512.23 L191.90 512.51 L191.40 512.65 L190.90 512.07 L190.40 512.72 L189.90 512.62 L189.40 511.99 L188.90 513.53 L188.40 512.27 L187.90 512.20 L187.40 512.22 L186.90 512.47 L186.40 513.05 L185.90 512.45 L185.40 512.73 L184.90 512.18 L184.40 512.40 L183.90 512.43 L183.40 512.08 L182.90 512.21 L182.40 512.57 L181.90 514.59 L181.40 512.50 L180.90 512.78 L180.40 513.57 L179.90 512.00 L179.40 512.28 L178.90 512.14 L178.40 513.08 L177.90 511.79 L177.40 512.20 L176.90 512.00 L176.40 512.17 L175.90 515.52 L175.40 512.97 L174.90 512.90 L174.40 512.05 L173.90 511.72 L173.40 512.71 L172.90 512.81 L172.40 512.19 L171.90 512.39 L171.40 512.14 L170.90 512.26 L170.40 511.92 L169.90 512.12 L169.40 512.67 L168.90 511.72 L168.40 512.18 L167.90 511.90 L167.40 511.76 L166.90 512.36 L166.40 513.56 L165.90 512.98 L165.40 511.71 L164.90 513.13 L164.40 511.96 L163.90 512.22 L163.40 512.98 L162.90 511.81 L162.40 513.41 L161.90 514.12 L161.40 513.03 L160.90 511.71 L160.40 511.90 L159.90 511.92 L159.40 514.66 L158.90 513.64 L158.40 512.69 L157.90 511.73 L157.40 512.64 L156.90 514.66 L156.40 511.96 L155.90 512.90 L155.40 514.63 L154.90 511.71 L154.40 512.64 L153.90 512.22 L153.40 512.46 L152.90 511.76 L152.40 511.89 L151.90 511.94 L151.40 514.80 L150.90 512.30 L150.40 512.13 L149.90 512.18 L149.40 511.88 L148.90 512.79 L148.40 512.08 L147.90 512.72 L147.40 512.30 L146.90 512.27 L146.40 511.96 L145.90 513.24 L145.40 511.97 L144.90 512.81 L144.40 511.93 L143.90 511.76 L143.40 511.72 L142.90 512.11 L142.40 512.20 L141.90 511.72 L141.40 512.62 L140.90 512.48 L140.40 512.43 L139.90 512.55 L139.40 514.13 L138.90 511.90 L138.40 512.26 L137.90 513.06 L137.40 512.12 L136.90 511.97 L136.40 512.53 L135.90 511.74 L135.40 511.99 L134.90 511.82 L134.40 512.16 L133.90 512.75 L133.40 512.19 L132.90 511.72 L132.40 514.14 L131.90 512.16 L131.40 513.11 L130.90 511.77 L130.40 513.91 L129.90 512.76 L129.40 511.97 L128.90 512.16 L128.40 512.40 L127.90 512.73 L127.40 512.01 L126.90 513.43 L126.40 511.92 L125.90 512.21 L125.40 512.57 L124.90 512.99 L124.40 512.33 L123.90 511.78 L123.40 512.10 L122.90 513.38 L122.40 512.16 L121.90 512.21 L121.40 512.17 L120.90 512.31 L120.40 512.36 L119.90 511.77 L119.40 512.10 L118.90 512.35 L118.40 511.83 L117.90 512.53 L117.40 512.90 L116.90 511.74 L116.40 511.96 L115.90 511.87 L115.40 511.74 L114.90 512.33 L114.40 512.03 L113.90 512.99 L113.40 512.69 L112.90 512.08 L112.40 512.39 L111.90 511.79 L111.40 513.03 L110.90 513.37 L110.40 512.24 L109.90 511.84 L109.40 512.45 L108.90 512.96 L108.40 513.00 L107.90 512.06 L107.40 511.91 L106.90 511.86 L106.40 511.96 L105.90 512.31 L105.40 511.84 L104.90 513.27 L104.40 512.80 L103.90 512.57 L103.40 512.63 L102.90 512.53 L102.40 511.81 L101.90 512.29 L101.40 512.10 L100.90 514.72 L100.40 512.58 L99.90 512.89 L99.40 512.10 L98.90 512.67 L98.40 511.84 L97.90 512.67 L97.40 512.52 L96.90 512.48 L96.40 511.81 L95.90 511.99 L95.40 512.07 L94.90 513.62 L94.40 512.93 L93.90 512.63 L93.40 512.35 L92.90 512.09 L92.40 511.77 L91.90 511.90 L91.40 512.00 L90.90 512.12 L90.40 515.20 L89.90 512.13 L89.40 512.10 L88.90 511.71 L88.40 511.88 L87.90 513.00 L87.40 512.54 L86.90 512.58 L86.40 512.41 L85.90 515.41 L85.40 512.50 L84.90 512.14 L84.40 513.03 L83.90 513.83 L83.40 514.02 L82.90 511.89 L82.40 515.34 L81.90 512.70 L81.40 512.05 L80.90 511.83 L80.40 512.37 L79.90 512.28 L79.40 511.98 L78.90 512.19 L78.40 512.07 L77.90 513.06 L77.40 512.36 L76.90 513.18 L76.40 511.92 L75.90 513.77 L75.40 511.81 L74.90 512.14 L74.40 512.25 L73.90 512.99 L73.40 511.93 L72.90 512.72 L72.40 512.66 L71.90 512.70 L71.40 512.31 L70.90 515.00 L70.40 512.87 L69.90 512.31 L69.40 512.38 L68.90 512.18 L68.40 511.72 L67.90 512.62 L67.40 511.92 L66.90 511.92 L66.40 512.86 L65.90 511.72 L65.40 512.34 L64.90 511.79 L64.40 512.43 L63.90 512.59 L63.40 512.97 L62.90 511.93 L62.40 511.72 L61.90 511.72 L61.40 513.01 L60.90 512.21 L60.40 513.27 L59.90 511.84 L59.40 511.84 L58.90 511.99 L58.40 512.19 L57.90 512.08 L57.40 512.23 L56.90 512.44 L56.40 511.82 L55.90 512.75 L55.40 514.37 L54.90 511.83 L54.40 512.66 L53.90 512.53 L53.40 512.55 L52.90 515.06 L52.40 513.98 L51.90 512.76 L51.40 512.32 L50.90 512.29 L50.40 511.75 L49.90 513.45 L49.40 512.30 L48.90 511.73 L48.40 512.05 L47.90 512.07 L47.40 512.26 L46.90 512.22 L46.40 512.48 L45.90 512.60 L45.40 512.65 L44.90 512.06 L44.40 511.82 L43.90 511.93 L43.40 512.42 L42.90 512.38 L42.40 512.59 L41.90 511.87 L41.40 512.14 L40.90 513.00 L40.40 512.34 L39.90 511.81 L39.40 512.15 L38.90 513.05 L38.40 511.76 L37.90 512.52 L37.40 512.12 L36.90 512.23 L36.40 512.91 Z" fill="#78b868"/>
<line x1="189.8" y1="495.5" x2="189.8" y2="506" stroke="#78b868" stroke-width="1.0"/>
<line x1="156.8" y1="501.9" x2="156.8" y2="506" stroke="#78b868" stroke-width="0.8"/>
<path d="M36.40 534.58 L36.90 536.06 L37.40 535.33 L37.90 535.41 L38.40 533.56 L38.90 535.84 L39.40 535.61 L39.90 535.70 L40.40 533.23 L40.90 533.72 L41.40 534.81 L41.90 535.75 L42.40 535.36 L42.90 535.77 L43.40 535.29 L43.90 535.23 L44.40 534.70 L44.90 536.02 L45.40 533.84 L45.90 535.84 L46.40 535.44 L46.90 535.95 L47.40 534.62 L47.90 534.24 L48.40 535.50 L48.90 535.10 L49.40 536.15 L49.90 535.30 L50.40 535.23 L50.90 536.10 L51.40 534.74 L51.90 535.57 L52.40 535.04 L52.90 536.18 L53.40 535.11 L53.90 535.76 L54.40 535.08 L54.90 534.52 L55.40 536.03 L55.90 535.20 L56.40 535.79 L56.90 535.10 L57.40 535.16 L57.90 535.15 L58.40 536.10 L58.90 532.69 L59.40 533.56 L59.90 535.85 L60.40 535.47 L60.90 535.87 L61.40 535.61 L61.90 535.94 L62.40 534.70 L62.90 535.63 L63.40 534.55 L63.90 535.51 L64.40 535.54 L64.90 536.04 L65.40 535.74 L65.90 535.53 L66.40 535.46 L66.90 534.75 L67.40 535.25 L67.90 535.42 L68.40 536.02 L68.90 535.69 L69.40 534.57 L69.90 535.06 L70.40 535.26 L70.90 534.53 L71.40 535.98 L71.90 536.04 L72.40 535.73 L72.90 535.23 L73.40 535.09 L73.90 534.45 L74.40 534.22 L74.90 535.29 L75.40 533.71 L75.90 536.19 L76.40 535.56 L76.90 535.87 L77.40 536.16 L77.90 534.98 L78.40 534.40 L78.90 535.49 L79.40 530.97 L79.90 535.69 L80.40 535.95 L80.90 536.18 L81.40 534.41 L81.90 535.88 L82.40 535.73 L82.90 535.20 L83.40 535.76 L83.90 535.12 L84.40 536.01 L84.90 534.31 L85.40 535.66 L85.90 534.78 L86.40 534.89 L86.90 535.28 L87.40 535.07 L87.90 536.04 L88.40 535.60 L88.90 535.76 L89.40 536.10 L89.90 535.09 L90.40 535.40 L90.90 535.92 L91.40 535.55 L91.90 534.68 L92.40 534.99 L92.90 535.70 L93.40 535.91 L93.90 533.92 L94.40 536.07 L94.90 535.42 L95.40 536.15 L95.90 536.14 L96.40 534.12 L96.90 536.06 L97.40 536.10 L97.90 535.67 L98.40 533.68 L98.90 535.95 L99.40 535.89 L99.90 534.91 L100.40 534.57 L100.90 536.03 L101.40 535.63 L101.90 535.77 L102.40 535.96 L102.90 535.51 L103.40 534.59 L103.90 535.56 L104.40 534.91 L104.90 534.82 L105.40 535.82 L105.90 535.01 L106.40 535.70 L106.90 534.52 L107.40 536.16 L107.90 536.15 L108.40 535.24 L108.90 535.70 L109.40 534.70 L109.90 535.42 L110.40 536.16 L110.90 536.05 L111.40 535.55 L111.90 535.76 L112.40 534.28 L112.90 536.10 L113.40 535.21 L113.90 536.01 L114.40 535.58 L114.90 535.10 L115.40 534.90 L115.90 535.74 L116.40 535.73 L116.90 536.19 L117.40 534.84 L117.90 536.16 L118.40 534.67 L118.90 535.96 L119.40 535.47 L119.90 536.00 L120.40 535.47 L120.90 534.30 L121.40 535.85 L121.90 535.90 L122.40 536.16 L122.90 536.03 L123.40 535.93 L123.90 535.03 L124.40 535.46 L124.90 535.51 L125.40 535.61 L125.90 536.19 L126.40 535.42 L126.90 535.56 L127.40 536.19 L127.90 535.08 L128.40 535.78 L128.90 535.58 L129.40 535.18 L129.90 535.79 L130.40 533.86 L130.90 535.24 L131.40 535.96 L131.90 534.78 L132.40 533.24 L132.90 535.10 L133.40 535.89 L133.90 535.97 L134.40 534.75 L134.90 535.87 L135.40 535.72 L135.90 536.19 L136.40 535.08 L136.90 535.58 L137.40 535.97 L137.90 535.28 L138.40 536.14 L138.90 536.18 L139.40 535.07 L139.90 534.57 L140.40 535.19 L140.90 535.70 L141.40 534.65 L141.90 535.37 L142.40 535.34 L142.90 534.11 L143.40 535.36 L143.90 535.32 L144.40 536.18 L144.90 535.99 L145.40 535.42 L145.90 535.88 L146.40 535.88 L146.90 534.68 L147.40 535.52 L147.90 535.67 L148.40 535.62 L148.90 535.93 L149.40 535.91 L149.90 536.13 L150.40 535.76 L150.90 535.67 L151.40 535.88 L151.90 534.90 L152.40 535.93 L152.90 535.71 L153.40 531.74 L153.90 535.13 L154.40 535.75 L154.90 536.12 L155.40 535.81 L155.90 535.60 L156.40 535.92 L156.90 535.97 L157.40 535.18 L157.90 535.87 L158.40 535.04 L158.90 535.00 L159.40 534.95 L159.90 535.99 L160.40 535.70 L160.90 534.11 L161.40 535.85 L161.90 535.29 L162.40 535.84 L162.90 535.30 L163.40 535.17 L163.90 535.27 L164.40 535.86 L164.90 536.13 L165.40 535.53 L165.90 535.82 L166.40 531.27 L166.90 534.98 L167.40 535.23 L167.90 535.86 L168.40 535.39 L168.90 535.61 L169.40 536.12 L169.90 535.57 L170.40 533.90 L170.90 534.75 L171.40 536.07 L171.90 534.69 L172.40 535.19 L172.90 535.17 L173.40 532.81 L173.90 535.18 L174.40 535.38 L174.90 535.46 L175.40 535.00 L175.90 535.38 L176.40 535.93 L176.90 536.19 L177.40 535.89 L177.90 535.74 L178.40 535.05 L178.90 534.87 L179.40 535.67 L179.90 535.60 L180.40 535.52 L180.90 536.05 L181.40 535.63 L181.90 536.13 L182.40 535.48 L182.90 535.30 L183.40 535.97 L183.90 536.05 L184.40 534.13 L184.90 535.80 L185.40 533.80 L185.90 535.60 L186.40 535.14 L186.90 534.44 L187.40 535.36 L187.90 535.76 L188.40 535.75 L188.90 535.93 L189.40 535.99 L189.90 535.64 L190.40 535.21 L190.90 535.36 L191.40 535.23 L191.90 535.96 L192.40 535.28 L192.90 535.58 L193.40 535.42 L193.90 535.42 L194.40 535.96 L194.90 535.13 L195.40 534.71 L195.90 536.17 L196.40 536.18 L196.90 535.54 L197.40 536.03 L197.90 535.73 L198.40 534.99 L198.90 536.04 L199.40 535.70 L199.90 536.08 L200.40 534.62 L200.90 535.19 L201.40 534.97 L201.90 535.20 L202.40 535.06 L202.90 535.51 L203.40 536.06 L203.90 535.67 L204.40 535.63 L204.90 534.91 L205.40 534.65 L205.40 545.18 L204.90 544.24 L204.40 544.53 L203.90 544.45 L203.40 544.06 L202.90 543.85 L202.40 543.46 L201.90 543.91 L201.40 543.43 L200.90 544.89 L200.40 547.73 L199.90 543.74 L199.40 544.73 L198.90 543.49 L198.40 543.61 L197.90 544.03 L197.40 544.09 L196.90 543.69 L196.40 543.76 L195.90 544.64 L195.40 544.77 L194.90 544.41 L194.40 543.43 L193.90 543.69 L193.40 545.13 L192.90 544.62 L192.40 545.49 L191.90 543.81 L191.40 544.57 L190.90 543.50 L190.40 543.79 L189.90 543.85 L189.40 543.71 L188.90 544.71 L188.40 546.93 L187.90 544.03 L187.40 543.46 L186.90 544.81 L186.40 544.94 L185.90 546.71 L185.40 543.44 L184.90 544.14 L184.40 544.16 L183.90 544.39 L183.40 544.24 L182.90 544.11 L182.40 543.41 L181.90 544.29 L181.40 543.62 L180.90 544.73 L180.40 544.27 L179.90 543.96 L179.40 545.10 L178.90 544.47 L178.40 543.51 L177.90 543.71 L177.40 543.57 L176.90 543.64 L176.40 543.72 L175.90 544.02 L175.40 544.20 L174.90 544.61 L174.40 543.68 L173.90 544.25 L173.40 543.95 L172.90 545.22 L172.40 544.01 L171.90 543.92 L171.40 543.49 L170.90 543.83 L170.40 545.50 L169.90 544.10 L169.40 544.36 L168.90 544.72 L168.40 546.04 L167.90 545.17 L167.40 543.46 L166.90 544.53 L166.40 543.54 L165.90 545.64 L165.40 545.19 L164.90 544.10 L164.40 543.55 L163.90 545.05 L163.40 544.68 L162.90 543.63 L162.40 544.24 L161.90 543.98 L161.40 544.01 L160.90 543.61 L160.40 547.45 L159.90 545.57 L159.40 543.86 L158.90 543.61 L158.40 543.66 L157.90 543.56 L157.40 543.56 L156.90 543.67 L156.40 543.70 L155.90 543.46 L155.40 544.04 L154.90 543.77 L154.40 543.86 L153.90 544.46 L153.40 544.13 L152.90 543.54 L152.40 543.88 L151.90 544.66 L151.40 543.85 L150.90 544.25 L150.40 544.23 L149.90 544.01 L149.40 545.52 L148.90 543.53 L148.40 543.76 L147.90 544.10 L147.40 543.64 L146.90 544.64 L146.40 544.60 L145.90 544.57 L145.40 543.65 L144.90 543.86 L144.40 545.42 L143.90 543.46 L143.40 547.26 L142.90 543.73 L142.40 543.91 L141.90 545.09 L141.40 544.43 L140.90 543.66 L140.40 544.99 L139.90 543.49 L139.40 543.45 L138.90 544.10 L138.40 545.65 L137.90 543.51 L137.40 543.61 L136.90 544.55 L136.40 544.16 L135.90 543.89 L135.40 544.64 L134.90 544.05 L134.40 543.52 L133.90 543.85 L133.40 543.46 L132.90 544.10 L132.40 543.59 L131.90 544.08 L131.40 543.67 L130.90 545.26 L130.40 543.93 L129.90 544.73 L129.40 545.13 L128.90 547.41 L128.40 544.24 L127.90 544.00 L127.40 545.52 L126.90 543.62 L126.40 544.16 L125.90 543.99 L125.40 544.37 L124.90 543.57 L124.40 543.94 L123.90 544.86 L123.40 544.93 L122.90 543.96 L122.40 544.12 L121.90 543.93 L121.40 544.48 L120.90 543.56 L120.40 544.24 L119.90 545.19 L119.40 543.90 L118.90 543.94 L118.40 545.35 L117.90 546.23 L117.40 543.82 L116.90 543.40 L116.40 544.93 L115.90 544.02 L115.40 543.87 L114.90 543.63 L114.40 543.78 L113.90 545.71 L113.40 545.80 L112.90 544.26 L112.40 544.07 L111.90 544.80 L111.40 543.65 L110.90 544.46 L110.40 545.37 L109.90 543.68 L109.40 543.43 L108.90 543.97 L108.40 544.24 L107.90 544.99 L107.40 543.52 L106.90 543.77 L106.40 544.01 L105.90 543.61 L105.40 544.43 L104.90 544.17 L104.40 545.29 L103.90 543.86 L103.40 543.74 L102.90 543.90 L102.40 543.45 L101.90 544.92 L101.40 543.93 L100.90 544.00 L100.40 543.83 L99.90 545.03 L99.40 544.15 L98.90 547.34 L98.40 544.25 L97.90 544.16 L97.40 546.11 L96.90 543.94 L96.40 543.49 L95.90 543.93 L95.40 547.11 L94.90 543.41 L94.40 544.37 L93.90 543.75 L93.40 544.60 L92.90 544.16 L92.40 545.37 L91.90 543.60 L91.40 544.43 L90.90 543.88 L90.40 543.41 L89.90 546.04 L89.40 544.82 L88.90 544.73 L88.40 543.52 L87.90 544.00 L87.40 544.67 L86.90 543.41 L86.40 544.19 L85.90 546.28 L85.40 543.66 L84.90 543.74 L84.40 544.59 L83.90 544.12 L83.40 544.29 L82.90 543.42 L82.40 545.01 L81.90 543.65 L81.40 543.95 L80.90 543.90 L80.40 543.47 L79.90 543.46 L79.40 543.51 L78.90 544.14 L78.40 544.69 L77.90 544.09 L77.40 543.62 L76.90 544.21 L76.40 543.79 L75.90 543.64 L75.40 543.54 L74.90 543.55 L74.40 544.03 L73.90 543.55 L73.40 544.46 L72.90 543.50 L72.40 544.76 L71.90 544.66 L71.40 544.22 L70.90 544.73 L70.40 543.45 L69.90 543.66 L69.40 544.51 L68.90 544.22 L68.40 544.04 L67.90 545.11 L67.40 543.91 L66.90 543.73 L66.40 543.76 L65.90 543.96 L65.40 543.42 L64.90 544.05 L64.40 544.76 L63.90 544.64 L63.40 544.93 L62.90 544.36 L62.40 543.62 L61.90 544.33 L61.40 545.93 L60.90 544.10 L60.40 543.43 L59.90 544.13 L59.40 545.09 L58.90 543.54 L58.40 544.23 L57.90 543.80 L57.40 544.82 L56.90 543.58 L56.40 543.42 L55.90 543.58 L55.40 544.09 L54.90 543.53 L54.40 544.86 L53.90 544.87 L53.40 543.53 L52.90 544.16 L52.40 543.83 L51.90 543.90 L51.40 543.66 L50.90 544.18 L50.40 543.50 L49.90 543.47 L49.40 543.94 L48.90 544.05 L48.40 544.52 L47.90 544.03 L47.40 543.77 L46.90 543.75 L46.40 543.88 L45.90 544.24 L45.40 546.76 L44.90 544.66 L44.40 543.49 L43.90 545.11 L43.40 544.36 L42.90 544.55 L42.40 543.54 L41.90 543.89 L41.40 545.20 L40.90 547.87 L40.40 543.89 L39.90 543.99 L39.40 543.57 L38.90 543.76 L38.40 545.28 L37.90 543.41 L37.40 543.55 L36.90 544.80 L36.40 543.62 Z" fill="#5d6a8c"/>
<rect x="35.9" y="414.2" width="169.70" height="136.80" fill="none" stroke="#6a6a6a" stroke-width="0.9"/>
<path d="M57.11 551.00v-1.8M78.32 551.00v-1.8M99.54 551.00v-1.8M120.75 551.00v-1.8M141.96 551.00v-1.8M163.17 551.00v-1.8M184.39 551.00v-1.8" stroke="#6a6a6a" stroke-width="0.8" fill="none"/>
<text x="35.90" y="563.40" font-size="9.5" text-anchor="middle" fill="#333333" >200</text>
<text x="78.32" y="563.40" font-size="9.5" text-anchor="middle" fill="#333333" >150</text>
<text x="120.75" y="563.40" font-size="9.5" text-anchor="middle" fill="#333333" >100</text>
<text x="163.17" y="563.40" font-size="9.5" text-anchor="middle" fill="#333333" >50</text>
<text x="205.60" y="563.40" font-size="9.5" text-anchor="middle" fill="#333333" >0</text>
<line x1="40.6" y1="422.9" x2="49.9" y2="422.9" stroke="#d95e1b" stroke-width="1.1"/>
<line x1="84.9" y1="422.9" x2="94.2" y2="422.9" stroke="#78b868" stroke-width="1.1"/>
<line x1="156.9" y1="422.9" x2="166.2" y2="422.9" stroke="#5b6a95" stroke-width="1.1"/>
<text x="55.90" y="426.60" font-size="9.3" text-anchor="start" fill="#333333" textLength="21.1" lengthAdjust="spacingAndGlyphs"><tspan dy="-3.6" font-size="5.2">13</tspan><tspan dy="3.6">CH</tspan><tspan dy="2.5" font-size="5.2">4</tspan></text>
<text x="100.00" y="426.60" font-size="9.3" text-anchor="start" fill="#333333" textLength="48.2" lengthAdjust="spacingAndGlyphs"><tspan dy="-3.6" font-size="5.2">13</tspan><tspan dy="3.6">CH</tspan><tspan dy="2.5" font-size="5.2">4</tspan><tspan dy="-2.5"> + </tspan><tspan dy="-3.6" font-size="5.2">12</tspan><tspan dy="3.6">CO</tspan></text>
<text x="171.20" y="426.60" font-size="9.3" text-anchor="start" fill="#333333" textLength="21.6" lengthAdjust="spacingAndGlyphs"><tspan dy="-3.6" font-size="5.2">12</tspan><tspan dy="3.6">CH</tspan><tspan dy="2.5" font-size="5.2">4</tspan></text>
<text x="51.30" y="452.70" font-size="9.6" text-anchor="start" fill="#333333" textLength="42.9" lengthAdjust="spacingAndGlyphs">CH<tspan dy="2.5" font-size="5.2">3</tspan><tspan dy="-2.5"><tspan fill="#e8202a">C</tspan>OOH</tspan></text>
<text x="51.30" y="463.60" font-size="9.6" text-anchor="start" fill="#333333" textLength="37.9" lengthAdjust="spacingAndGlyphs">~176 ppm</text>
<text x="156.90" y="450.50" font-size="9.6" text-anchor="start" fill="#333333" textLength="42.9" lengthAdjust="spacingAndGlyphs"><tspan fill="#e8202a">C</tspan>H<tspan dy="2.5" font-size="5.2">3</tspan><tspan dy="-2.5">COOH</tspan></text>
<text x="165.50" y="461.80" font-size="9.6" text-anchor="start" fill="#333333" textLength="35.5" lengthAdjust="spacingAndGlyphs">~20 ppm</text>
<text x="120.40" y="580.00" font-size="10.8" text-anchor="middle" fill="#333333" textLength="101.5" lengthAdjust="spacingAndGlyphs">Chemical shift (ppm)</text>
<text transform="translate(29.80,482.80) rotate(-90)" font-size="10.8" text-anchor="middle" fill="#333333">Intensity (a.u.)</text>
<text x="221.7" y="412.6" font-size="14.6" font-weight="bold" fill="#000" stroke="#000" stroke-width="0.7">g</text>
<rect x="269.3" y="414.2" width="170.70" height="136.80" fill="none" stroke="#6a6a6a" stroke-width="0.9"/>
<path d="M269.30 543.40h1.8M269.30 531.12h1.8M269.30 518.84h1.8M269.30 506.56h1.8M269.30 494.28h1.8M269.30 482.00h1.8M269.30 469.72h1.8M269.30 457.44h1.8M269.30 445.16h1.8M269.30 432.88h1.8M269.30 420.60h1.8" stroke="#6a6a6a" stroke-width="0.8" fill="none"/>
<path d="M283.90 551.00v-1.8M298.07 551.00v-1.8M312.25 551.00v-1.8M326.42 551.00v-1.8M340.60 551.00v-1.8M354.77 551.00v-1.8M368.95 551.00v-1.8M383.12 551.00v-1.8M397.30 551.00v-1.8M411.47 551.00v-1.8M425.65 551.00v-1.8" stroke="#6a6a6a" stroke-width="0.8" fill="none"/>
<text x="264.50" y="546.80" font-size="9.5" text-anchor="end" fill="#333333" >0</text>
<text x="264.50" y="522.24" font-size="9.5" text-anchor="end" fill="#333333" >20</text>
<text x="264.50" y="497.68" font-size="9.5" text-anchor="end" fill="#333333" >40</text>
<text x="264.50" y="473.12" font-size="9.5" text-anchor="end" fill="#333333" >60</text>
<text x="264.50" y="448.56" font-size="9.5" text-anchor="end" fill="#333333" >80</text>
<text x="264.50" y="424.00" font-size="9.5" text-anchor="end" fill="#333333" >100</text>
<text x="283.90" y="563.20" font-size="9.5" text-anchor="middle" fill="#333333" >0</text>
<text x="312.25" y="563.20" font-size="9.5" text-anchor="middle" fill="#333333" >100</text>
<text x="340.60" y="563.20" font-size="9.5" text-anchor="middle" fill="#333333" >200</text>
<text x="368.95" y="563.20" font-size="9.5" text-anchor="middle" fill="#333333" >300</text>
<text x="397.30" y="563.20" font-size="9.5" text-anchor="middle" fill="#333333" >400</text>
<text x="425.65" y="563.20" font-size="9.5" text-anchor="middle" fill="#333333" >500</text>
<path d="M283.90 426.74 L298.07 427.97 L312.25 429.20 L326.42 442.70 L333.51 454.98 L340.60 468.49 L343.43 482.00 L354.77 519.45 L368.95 530.51 L397.30 532.35 L425.65 533.58" fill="none" stroke="#e06a2c" stroke-width="0.9"/>
<path d="M283.90 424.53V428.95M282.50 424.53h2.8M282.50 428.95h2.8" stroke="#e06a2c" stroke-width="0.7" fill="none"/>
<circle cx="283.90" cy="426.74" r="1.05" fill="#e06a2c"/>
<path d="M298.07 425.76V430.18M296.68 425.76h2.8M296.68 430.18h2.8" stroke="#e06a2c" stroke-width="0.7" fill="none"/>
<circle cx="298.07" cy="427.97" r="1.05" fill="#e06a2c"/>
<path d="M312.25 426.13V432.27M310.85 426.13h2.8M310.85 432.27h2.8" stroke="#e06a2c" stroke-width="0.7" fill="none"/>
<circle cx="312.25" cy="429.20" r="1.05" fill="#e06a2c"/>
<path d="M326.42 439.63V445.77M325.02 439.63h2.8M325.02 445.77h2.8" stroke="#e06a2c" stroke-width="0.7" fill="none"/>
<circle cx="326.42" cy="442.70" r="1.05" fill="#e06a2c"/>
<path d="M333.51 450.69V459.28M332.11 450.69h2.8M332.11 459.28h2.8" stroke="#e06a2c" stroke-width="0.7" fill="none"/>
<circle cx="333.51" cy="454.98" r="1.05" fill="#e06a2c"/>
<path d="M340.60 462.35V474.63M339.20 462.35h2.8M339.20 474.63h2.8" stroke="#e06a2c" stroke-width="0.7" fill="none"/>
<circle cx="340.60" cy="468.49" r="1.05" fill="#e06a2c"/>
<circle cx="343.43" cy="482.00" r="1.05" fill="#e06a2c"/>
<path d="M354.77 513.93V524.98M353.38 513.93h2.8M353.38 524.98h2.8" stroke="#e06a2c" stroke-width="0.7" fill="none"/>
<circle cx="354.77" cy="519.45" r="1.05" fill="#e06a2c"/>
<path d="M368.95 526.21V534.80M367.55 526.21h2.8M367.55 534.80h2.8" stroke="#e06a2c" stroke-width="0.7" fill="none"/>
<circle cx="368.95" cy="530.51" r="1.05" fill="#e06a2c"/>
<path d="M397.30 529.16V535.54M395.90 529.16h2.8M395.90 535.54h2.8" stroke="#e06a2c" stroke-width="0.7" fill="none"/>
<circle cx="397.30" cy="532.35" r="1.05" fill="#e06a2c"/>
<path d="M425.65 531.12V536.03M424.25 531.12h2.8M424.25 536.03h2.8" stroke="#e06a2c" stroke-width="0.7" fill="none"/>
<circle cx="425.65" cy="533.58" r="1.05" fill="#e06a2c"/>
<path d="M283.90 536.65 L298.07 535.42 L312.25 534.80 L326.42 521.91 L333.51 509.63 L340.60 496.12 L343.43 482.00 L354.77 446.39 L368.95 434.11 L397.30 431.65 L425.65 430.42" fill="none" stroke="#5b6a95" stroke-width="0.9"/>
<path d="M283.90 533.58V539.72M282.50 533.58h2.8M282.50 539.72h2.8" stroke="#5b6a95" stroke-width="0.7" fill="none"/>
<circle cx="283.90" cy="536.65" r="1.05" fill="#5b6a95"/>
<path d="M298.07 532.72V538.12M296.68 532.72h2.8M296.68 538.12h2.8" stroke="#5b6a95" stroke-width="0.7" fill="none"/>
<circle cx="298.07" cy="535.42" r="1.05" fill="#5b6a95"/>
<path d="M312.25 531.12V538.49M310.85 531.12h2.8M310.85 538.49h2.8" stroke="#5b6a95" stroke-width="0.7" fill="none"/>
<circle cx="312.25" cy="534.80" r="1.05" fill="#5b6a95"/>
<path d="M326.42 518.23V525.59M325.02 518.23h2.8M325.02 525.59h2.8" stroke="#5b6a95" stroke-width="0.7" fill="none"/>
<circle cx="326.42" cy="521.91" r="1.05" fill="#5b6a95"/>
<path d="M333.51 504.72V514.54M332.11 504.72h2.8M332.11 514.54h2.8" stroke="#5b6a95" stroke-width="0.7" fill="none"/>
<circle cx="333.51" cy="509.63" r="1.05" fill="#5b6a95"/>
<path d="M340.60 489.37V502.88M339.20 489.37h2.8M339.20 502.88h2.8" stroke="#5b6a95" stroke-width="0.7" fill="none"/>
<circle cx="340.60" cy="496.12" r="1.05" fill="#5b6a95"/>
<circle cx="343.43" cy="482.00" r="1.05" fill="#5b6a95"/>
<path d="M354.77 440.25V452.53M353.38 440.25h2.8M353.38 452.53h2.8" stroke="#5b6a95" stroke-width="0.7" fill="none"/>
<circle cx="354.77" cy="446.39" r="1.05" fill="#5b6a95"/>
<path d="M368.95 429.20V439.02M367.55 429.20h2.8M367.55 439.02h2.8" stroke="#5b6a95" stroke-width="0.7" fill="none"/>
<circle cx="368.95" cy="434.11" r="1.05" fill="#5b6a95"/>
<path d="M397.30 427.97V435.34M395.90 427.97h2.8M395.90 435.34h2.8" stroke="#5b6a95" stroke-width="0.7" fill="none"/>
<circle cx="397.30" cy="431.65" r="1.05" fill="#5b6a95"/>
<path d="M425.65 427.97V432.88M424.25 427.97h2.8M424.25 432.88h2.8" stroke="#5b6a95" stroke-width="0.7" fill="none"/>
<circle cx="425.65" cy="430.42" r="1.05" fill="#5b6a95"/>
<path d="M342.93 482.8 H331" stroke="#000" stroke-width="1.6"/>
<path d="M326.6 482.8 L332.5 480.0 L332.5 485.6 Z" fill="#000"/>
<text x="286.80" y="485.90" font-size="9.2" text-anchor="start" fill="#333333" textLength="35.3" lengthAdjust="spacingAndGlyphs">210 G 1:1</text>
<line x1="358.9" y1="474.6" x2="375.2" y2="474.6" stroke="#e06a2c" stroke-width="0.9"/><circle cx="367.1" cy="474.6" r="1.05" fill="#e06a2c"/>
<line x1="358.9" y1="486.0" x2="375.2" y2="486.0" stroke="#5b6a95" stroke-width="0.9"/><circle cx="367.1" cy="486.0" r="1.05" fill="#5b6a95"/>
<text x="379.90" y="477.80" font-size="9.2" text-anchor="start" fill="#333333" >CH<tspan dy="2.5" font-size="5.2">3</tspan><tspan dy="-2.5">OOH</tspan></text>
<text x="379.90" y="489.20" font-size="9.2" text-anchor="start" fill="#333333" >CH<tspan dy="2.5" font-size="5.2">3</tspan><tspan dy="-2.5">COOH</tspan></text>
<text x="275.40" y="547.30" font-size="8.2" text-anchor="start" fill="#333333" ><tspan fill="#e5793f">95</tspan><tspan fill="#7a86ad">:5</tspan></text>
<text x="303.30" y="547.30" font-size="8.2" text-anchor="start" fill="#333333" ><tspan fill="#e5793f">93</tspan><tspan fill="#7a86ad">:7</tspan></text>
<text x="331.40" y="547.30" font-size="8.2" text-anchor="start" fill="#333333" ><tspan fill="#e5793f">61</tspan><tspan fill="#7a86ad">:39</tspan></text>
<text x="360.60" y="547.30" font-size="8.2" text-anchor="start" fill="#333333" ><tspan fill="#e5793f">11</tspan><tspan fill="#7a86ad">:89</tspan></text>
<text x="390.40" y="547.30" font-size="8.2" text-anchor="start" fill="#333333" ><tspan fill="#e5793f">9</tspan><tspan fill="#7a86ad">:91</tspan></text>
<text x="418.40" y="547.30" font-size="8.2" text-anchor="start" fill="#333333" ><tspan fill="#e5793f">8</tspan><tspan fill="#7a86ad">:92</tspan></text>
<text x="354.90" y="580.30" font-size="10.8" text-anchor="middle" fill="#333333" textLength="121" lengthAdjust="spacingAndGlyphs">Magnetic flux density (G)</text>
<text transform="translate(241.80,481.20) rotate(-90)" font-size="10.8" text-anchor="middle" fill="#333333">Selectivity (%)</text>
<text x="460.2" y="412.8" font-size="14.6" font-weight="bold" fill="#000" stroke="#000" stroke-width="0.7">h</text>
<defs><pattern id="hO" patternUnits="userSpaceOnUse" width="1.8" height="1.8" patternTransform="rotate(45)"><rect width="1.8" height="1.8" fill="#fde9dd"/><rect width="0.85" height="1.8" fill="#e0662a"/></pattern><pattern id="hB" patternUnits="userSpaceOnUse" width="1.8" height="1.8" patternTransform="rotate(-45)"><rect width="1.8" height="1.8" fill="#eef0f6"/><rect width="0.85" height="1.8" fill="#6c789e"/></pattern></defs>
<rect x="512.70" y="486.53" width="13.00" height="1.67" fill="url(#hB)" stroke="#56648e" stroke-width="0.9"/>
<rect x="512.70" y="488.20" width="13.00" height="55.24" fill="url(#hO)" stroke="#dd6420" stroke-width="0.9"/>
<circle cx="519.20" cy="543.44" r="1.4" fill="#d9541a"/>
<rect x="528.22" y="433.52" width="13.00" height="54.68" fill="url(#hB)" stroke="#56648e" stroke-width="0.9"/>
<rect x="528.22" y="488.20" width="13.00" height="2.79" fill="url(#hO)" stroke="#dd6420" stroke-width="0.9"/>
<circle cx="534.72" cy="433.52" r="1.3" fill="#3b4670"/>
<path d="M530.62 497.5 V503 A4.1 4.1 0 0 0 538.82 503 V497.5" fill="none" stroke="#5a6590" stroke-width="3"/>
<rect x="529.12" y="496.6" width="3" height="2.2" fill="#e0323c"/><rect x="537.32" y="496.6" width="3" height="2.2" fill="#e0323c"/>
<rect x="543.74" y="486.53" width="13.00" height="1.67" fill="url(#hB)" stroke="#56648e" stroke-width="0.9"/>
<rect x="543.74" y="488.20" width="13.00" height="54.96" fill="url(#hO)" stroke="#dd6420" stroke-width="0.9"/>
<circle cx="550.24" cy="543.16" r="1.4" fill="#d9541a"/>
<rect x="559.26" y="436.31" width="13.00" height="51.89" fill="url(#hB)" stroke="#56648e" stroke-width="0.9"/>
<rect x="559.26" y="488.20" width="13.00" height="5.02" fill="url(#hO)" stroke="#dd6420" stroke-width="0.9"/>
<circle cx="565.76" cy="436.31" r="1.3" fill="#3b4670"/>
<path d="M561.66 497.5 V503 A4.1 4.1 0 0 0 569.86 503 V497.5" fill="none" stroke="#5a6590" stroke-width="3"/>
<rect x="560.16" y="496.6" width="3" height="2.2" fill="#e0323c"/><rect x="568.36" y="496.6" width="3" height="2.2" fill="#e0323c"/>
<rect x="574.78" y="485.97" width="13.00" height="2.23" fill="url(#hB)" stroke="#56648e" stroke-width="0.9"/>
<rect x="574.78" y="488.20" width="13.00" height="54.96" fill="url(#hO)" stroke="#dd6420" stroke-width="0.9"/>
<circle cx="581.28" cy="543.16" r="1.4" fill="#d9541a"/>
<rect x="590.30" y="435.47" width="13.00" height="52.73" fill="url(#hB)" stroke="#56648e" stroke-width="0.9"/>
<rect x="590.30" y="488.20" width="13.00" height="4.19" fill="url(#hO)" stroke="#dd6420" stroke-width="0.9"/>
<circle cx="596.80" cy="435.47" r="1.3" fill="#3b4670"/>
<path d="M592.70 497.5 V503 A4.1 4.1 0 0 0 600.90 503 V497.5" fill="none" stroke="#5a6590" stroke-width="3"/>
<rect x="591.20" y="496.6" width="3" height="2.2" fill="#e0323c"/><rect x="599.40" y="496.6" width="3" height="2.2" fill="#e0323c"/>
<rect x="605.82" y="485.69" width="13.00" height="2.51" fill="url(#hB)" stroke="#56648e" stroke-width="0.9"/>
<rect x="605.82" y="488.20" width="13.00" height="55.24" fill="url(#hO)" stroke="#dd6420" stroke-width="0.9"/>
<circle cx="612.32" cy="543.44" r="1.4" fill="#d9541a"/>
<rect x="621.34" y="436.31" width="13.00" height="51.89" fill="url(#hB)" stroke="#56648e" stroke-width="0.9"/>
<rect x="621.34" y="488.20" width="13.00" height="5.30" fill="url(#hO)" stroke="#dd6420" stroke-width="0.9"/>
<circle cx="627.84" cy="436.31" r="1.3" fill="#3b4670"/>
<path d="M623.74 497.5 V503 A4.1 4.1 0 0 0 631.94 503 V497.5" fill="none" stroke="#5a6590" stroke-width="3"/>
<rect x="622.24" y="496.6" width="3" height="2.2" fill="#e0323c"/><rect x="630.44" y="496.6" width="3" height="2.2" fill="#e0323c"/>
<rect x="636.86" y="486.53" width="13.00" height="1.67" fill="url(#hB)" stroke="#56648e" stroke-width="0.9"/>
<rect x="636.86" y="488.20" width="13.00" height="55.80" fill="url(#hO)" stroke="#dd6420" stroke-width="0.9"/>
<circle cx="643.36" cy="544.00" r="1.4" fill="#d9541a"/>
<rect x="652.38" y="435.75" width="13.00" height="52.45" fill="url(#hB)" stroke="#56648e" stroke-width="0.9"/>
<rect x="652.38" y="488.20" width="13.00" height="4.74" fill="url(#hO)" stroke="#dd6420" stroke-width="0.9"/>
<circle cx="658.88" cy="435.75" r="1.3" fill="#3b4670"/>
<path d="M654.78 497.5 V503 A4.1 4.1 0 0 0 662.98 503 V497.5" fill="none" stroke="#5a6590" stroke-width="3"/>
<rect x="653.28" y="496.6" width="3" height="2.2" fill="#e0323c"/><rect x="661.48" y="496.6" width="3" height="2.2" fill="#e0323c"/>
<rect x="667.90" y="486.53" width="13.00" height="1.67" fill="url(#hB)" stroke="#56648e" stroke-width="0.9"/>
<rect x="667.90" y="488.20" width="13.00" height="55.24" fill="url(#hO)" stroke="#dd6420" stroke-width="0.9"/>
<circle cx="674.40" cy="543.44" r="1.4" fill="#d9541a"/>
<line x1="511.6" y1="488.2" x2="682.3" y2="488.2" stroke="#111" stroke-width="1"/>
<rect x="511.6" y="413.6" width="170.70" height="137.70" fill="none" stroke="#6a6a6a" stroke-width="0.9"/>
<path d="M511.60 432.40h1.8M511.60 460.30h1.8M511.60 488.20h1.8M511.60 516.10h1.8M511.60 544.00h1.8" stroke="#6a6a6a" stroke-width="0.8" fill="none"/>
<path d="M519.20 551.30v-1.8M534.72 551.30v-1.8M550.24 551.30v-1.8M565.76 551.30v-1.8M581.28 551.30v-1.8M596.80 551.30v-1.8M612.32 551.30v-1.8M627.84 551.30v-1.8M643.36 551.30v-1.8M658.88 551.30v-1.8M674.40 551.30v-1.8" stroke="#6a6a6a" stroke-width="0.8" fill="none"/>
<text x="506.40" y="435.10" font-size="9.5" text-anchor="end" fill="#333333" >1</text>
<text x="506.40" y="463.40" font-size="9.5" text-anchor="end" fill="#333333" >0.5</text>
<text x="506.40" y="490.80" font-size="9.5" text-anchor="end" fill="#333333" >0</text>
<text x="506.40" y="519.40" font-size="9.5" text-anchor="end" fill="#333333" >0.5</text>
<text x="506.40" y="546.80" font-size="9.5" text-anchor="end" fill="#333333" >1</text>
<text x="519.20" y="563.40" font-size="9.5" text-anchor="middle" fill="#333333" >1</text>
<text x="534.72" y="563.40" font-size="9.5" text-anchor="middle" fill="#333333" >2</text>
<text x="550.24" y="563.40" font-size="9.5" text-anchor="middle" fill="#333333" >3</text>
<text x="565.76" y="563.40" font-size="9.5" text-anchor="middle" fill="#333333" >4</text>
<text x="581.28" y="563.40" font-size="9.5" text-anchor="middle" fill="#333333" >5</text>
<text x="596.80" y="563.40" font-size="9.5" text-anchor="middle" fill="#333333" >6</text>
<text x="612.32" y="563.40" font-size="9.5" text-anchor="middle" fill="#333333" >7</text>
<text x="627.84" y="563.40" font-size="9.5" text-anchor="middle" fill="#333333" >8</text>
<text x="643.36" y="563.40" font-size="9.5" text-anchor="middle" fill="#333333" >9</text>
<text x="658.88" y="563.40" font-size="9.5" text-anchor="middle" fill="#333333" >10</text>
<text x="674.40" y="563.40" font-size="9.5" text-anchor="middle" fill="#333333" >11</text>
<rect x="520.9" y="417.1" width="15.8" height="7.4" fill="url(#hO)" stroke="#dd6420" stroke-width="0.9"/>
<rect x="586.4" y="417.1" width="15.4" height="7.4" fill="url(#hB)" stroke="#56648e" stroke-width="0.9"/>
<text x="541.40" y="424.60" font-size="9.6" text-anchor="start" fill="#333333" >CH<tspan dy="2.5" font-size="5.2">3</tspan><tspan dy="-2.5">OOH</tspan></text>
<text x="606.70" y="424.60" font-size="9.6" text-anchor="start" fill="#333333" >CH<tspan dy="2.5" font-size="5.2">3</tspan><tspan dy="-2.5">COOH</tspan></text>
<text x="597.20" y="580.60" font-size="10.8" text-anchor="middle" fill="#333333" textLength="148" lengthAdjust="spacingAndGlyphs">Magnetic field switching times</text>
<text transform="translate(486.00,481.80) rotate(-90)" font-size="10.8" text-anchor="middle" fill="#333333">Selectivity</text>
</svg>
</body></html>
